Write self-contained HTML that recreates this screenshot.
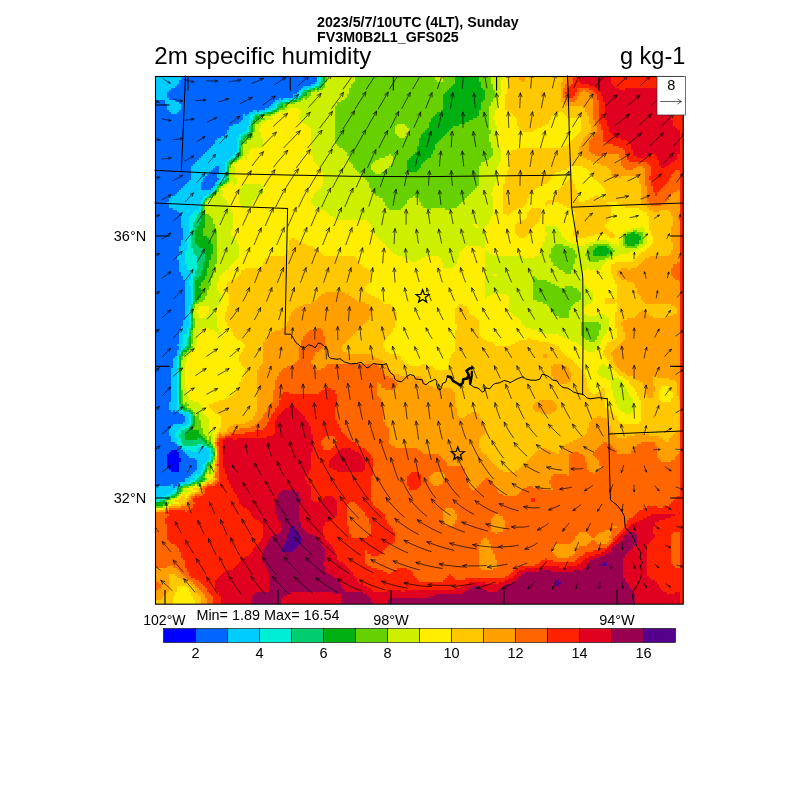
<!DOCTYPE html>
<html><head><meta charset="utf-8"><title>2m specific humidity</title>
<style>
html,body{margin:0;padding:0;background:#fff;}
body{width:800px;height:800px;overflow:hidden;}
svg{display:block;}
text{font-family:"Liberation Sans",Arial,Helvetica,sans-serif;fill:#000;}
</style></head><body>
<svg width="800" height="800" viewBox="0 0 800 800">
<rect x="0" y="0" width="800" height="800" fill="#fff"/>
<text x="317" y="26.6" font-size="14.25" font-weight="bold">2023/5/7/10UTC (4LT), Sunday</text>
<text x="317" y="42.3" font-size="14.25" font-weight="bold">FV3M0B2L1_GFS025</text>
<text x="154.3" y="64" font-size="24.1">2m specific humidity</text>
<text x="685.3" y="63.6" font-size="23.5" text-anchor="end">g kg-1</text>
<g id="field" shape-rendering="crispEdges">
<rect x="155" y="76" width="528" height="528" fill="#FFC800"/>
<path fill="#0000FF" d="M171 450h6v2h-6zM169 452h10v2h-10zM167 454h12v4h-12zM167 458h14v4h-14zM167 462h12v6h-12zM169 468h10v2h-10zM171 470h8v2h-8z"/>
<path fill="#0066FF" d="M181 76h136v4h-136zM179 80h138v2h-138zM179 82h136v2h-136zM177 84h134v2h-134zM175 86h128v2h-128zM171 88h130v2h-130zM169 90h130v2h-130zM167 92h130v2h-130zM167 94h126v4h-126zM281 98h2v2h-2zM169 98h110v2h-110zM175 100h100v2h-100zM155 100h10v4h-10zM179 102h94v2h-94zM181 104h90v2h-90zM181 106h88v2h-88zM155 104h12v6h-12zM181 108h84v2h-84zM155 110h14v2h-14zM179 110h74v2h-74zM257 110h2v2h-2zM177 112h72v2h-72zM155 112h16v2h-16zM245 114h2v2h-2zM155 114h88v6h-88zM155 120h86v2h-86zM155 122h84v2h-84zM155 124h78v2h-78zM155 126h74v4h-74zM155 130h72v4h-72zM155 134h70v2h-70zM155 136h66v2h-66zM155 138h62v2h-62zM155 140h60v4h-60zM155 144h58v2h-58zM155 146h56v2h-56zM155 148h54v2h-54zM155 150h52v2h-52zM155 152h50v2h-50zM155 154h48v2h-48zM155 156h46v2h-46zM155 158h44v2h-44zM155 160h42v2h-42zM155 162h40v2h-40zM155 164h38v2h-38zM215 166h4v2h-4zM213 168h6v2h-6zM211 170h8v2h-8zM209 172h10v2h-10zM207 174h10v2h-10zM205 176h12v2h-12zM155 166h36v14h-36zM203 178h16v2h-16zM203 180h14v2h-14zM155 180h34v2h-34zM155 182h32v2h-32zM201 182h14v4h-14zM155 184h30v2h-30zM201 186h12v2h-12zM155 186h28v2h-28zM155 188h26v2h-26zM201 188h10v2h-10zM155 190h24v2h-24zM155 192h22v2h-22zM155 194h20v2h-20zM155 196h16v2h-16zM155 198h14v4h-14zM155 202h12v2h-12zM155 204h14v4h-14zM155 208h18v2h-18zM155 210h22v2h-22zM155 212h24v2h-24zM155 214h26v14h-26zM155 228h28v12h-28zM155 240h26v6h-26zM155 246h24v10h-24zM155 256h22v4h-22zM155 260h24v12h-24zM155 272h26v4h-26zM155 276h28v4h-28zM155 280h30v40h-30zM155 320h28v6h-28zM155 326h26v4h-26zM155 330h24v14h-24zM155 344h22v2h-22zM155 346h24v4h-24zM155 350h22v6h-22zM155 356h20v2h-20zM155 358h18v10h-18zM155 368h16v34h-16zM155 402h14v8h-14zM155 410h16v2h-16zM173 410h2v2h-2zM155 412h24v2h-24zM155 414h28v2h-28zM155 416h30v6h-30zM155 422h28v2h-28zM155 424h18v2h-18zM155 426h16v2h-16zM155 428h14v8h-14zM155 436h16v6h-16zM155 442h20v2h-20zM155 444h22v2h-22zM155 446h24v2h-24zM155 448h26v2h-26zM177 450h6v2h-6zM155 450h16v2h-16zM155 452h14v2h-14zM179 452h6v2h-6zM179 454h8v2h-8zM179 456h10v2h-10zM181 458h14v2h-14zM181 460h16v2h-16zM155 454h12v14h-12zM179 462h18v8h-18zM155 468h14v2h-14zM179 470h16v2h-16zM155 470h16v2h-16zM155 472h38v2h-38zM155 474h36v2h-36zM155 476h34v2h-34zM155 478h30v4h-30zM155 482h24v2h-24zM173 484h4v2h-4zM155 484h16v2h-16zM173 486h2v2h-2z"/>
<path fill="#00CCFF" d="M155 76h26v4h-26zM155 80h24v4h-24zM315 82h2v2h-2zM311 84h4v2h-4zM155 84h22v2h-22zM155 86h20v2h-20zM303 86h8v2h-8zM155 88h16v2h-16zM301 88h6v2h-6zM299 90h2v2h-2zM155 90h14v2h-14zM297 92h2v2h-2zM293 94h6v2h-6zM155 92h12v6h-12zM293 96h4v2h-4zM283 98h8v2h-8zM279 98h2v2h-2zM155 98h14v2h-14zM275 100h8v2h-8zM165 100h10v2h-10zM165 102h14v2h-14zM273 102h4v2h-4zM271 104h4v2h-4zM269 106h6v2h-6zM167 104h14v6h-14zM265 108h6v2h-6zM259 110h6v2h-6zM253 110h4v2h-4zM169 110h10v2h-10zM257 112h2v2h-2zM171 112h6v2h-6zM249 112h6v2h-6zM247 114h4v2h-4zM243 114h2v2h-2zM243 116h6v2h-6zM243 118h8v2h-8zM241 120h8v2h-8zM239 122h10v2h-10zM233 124h16v2h-16zM229 126h18v4h-18zM227 130h18v2h-18zM227 132h16v2h-16zM225 134h14v2h-14zM221 136h18v2h-18zM217 138h20v2h-20zM215 140h22v4h-22zM213 144h24v2h-24zM211 146h26v2h-26zM209 148h28v2h-28zM207 150h30v2h-30zM205 152h30v2h-30zM203 154h30v2h-30zM201 156h30v2h-30zM199 158h30v2h-30zM197 160h30v2h-30zM195 162h30v2h-30zM193 164h32v2h-32zM191 166h24v2h-24zM191 168h22v2h-22zM191 170h20v2h-20zM219 166h6v8h-6zM191 172h18v2h-18zM191 174h16v2h-16zM217 174h6v4h-6zM191 176h14v2h-14zM219 178h2v2h-2zM191 178h12v2h-12zM217 180h2v2h-2zM189 180h14v2h-14zM187 182h14v2h-14zM215 182h2v4h-2zM185 184h16v2h-16zM183 186h18v2h-18zM213 186h2v2h-2zM181 188h20v2h-20zM211 188h2v2h-2zM179 190h34v2h-34zM177 192h34v2h-34zM175 194h32v2h-32zM171 196h32v2h-32zM169 198h34v2h-34zM169 200h32v2h-32zM167 202h34v2h-34zM169 204h32v2h-32zM169 206h30v2h-30zM173 208h26v2h-26zM177 210h18v2h-18zM197 210h2v2h-2zM179 212h14v2h-14zM181 214h10v2h-10zM181 216h8v12h-8zM183 228h6v10h-6zM183 238h4v2h-4zM181 240h6v6h-6zM179 246h8v4h-8zM179 250h6v6h-6zM177 256h8v4h-8zM179 260h6v4h-6zM179 264h8v6h-8zM179 270h10v2h-10zM181 272h8v2h-8zM181 274h10v2h-10zM183 276h8v4h-8zM185 280h4v6h-4zM185 286h6v20h-6zM185 306h4v14h-4zM183 320h6v6h-6zM181 326h8v2h-8zM181 328h6v2h-6zM179 330h8v4h-8zM179 334h4v10h-4zM177 344h4v2h-4zM179 346h4v2h-4zM179 348h2v2h-2zM177 350h4v2h-4zM177 352h2v4h-2zM175 356h2v2h-2zM173 358h4v10h-4zM171 368h6v34h-6zM169 402h8v8h-8zM171 410h2v2h-2zM175 410h6v2h-6zM179 412h8v2h-8zM183 414h6v2h-6zM185 416h4v6h-4zM183 422h6v2h-6zM173 424h14v2h-14zM171 426h10v2h-10zM169 428h10v2h-10zM169 430h8v2h-8zM169 432h6v4h-6zM171 436h4v2h-4zM171 438h6v4h-6zM175 442h2v2h-2zM177 444h2v2h-2zM179 446h2v2h-2zM197 448h10v2h-10zM181 448h4v2h-4zM197 450h12v2h-12zM183 450h8v2h-8zM185 452h24v2h-24zM187 454h22v2h-22zM189 456h20v2h-20zM195 458h14v2h-14zM197 460h10v2h-10zM197 462h8v2h-8zM197 464h6v6h-6zM195 470h6v2h-6zM193 472h8v2h-8zM197 474h2v2h-2zM191 474h4v2h-4zM189 476h4v2h-4zM185 478h10v2h-10zM185 480h6v2h-6zM179 482h8v2h-8zM171 484h2v2h-2zM177 484h4v2h-4zM175 486h2v2h-2zM155 486h18v2h-18zM155 488h20v2h-20zM155 490h18v2h-18zM155 492h16v2h-16zM155 494h12v2h-12zM155 496h8v2h-8z"/>
<path fill="#00EED5" d="M317 76h4v6h-4zM317 82h2v2h-2zM315 84h4v2h-4zM311 86h4v2h-4zM307 88h2v2h-2zM301 90h2v2h-2zM299 92h2v4h-2zM297 96h2v2h-2zM291 98h4v2h-4zM283 100h6v2h-6zM277 102h2v2h-2zM275 104h2v4h-2zM271 108h4v2h-4zM265 110h6v2h-6zM259 112h4v2h-4zM255 112h2v2h-2zM251 114h4v2h-4zM249 116h4v2h-4zM251 118h2v2h-2zM249 120h2v6h-2zM247 126h2v4h-2zM245 130h4v2h-4zM243 132h4v2h-4zM239 134h4v2h-4zM239 136h2v2h-2zM237 138h4v2h-4zM237 140h2v12h-2zM235 152h2v2h-2zM233 154h4v2h-4zM231 156h4v2h-4zM229 158h2v2h-2zM227 160h2v2h-2zM225 162h2v10h-2zM223 174h2v4h-2zM221 178h4v2h-4zM219 180h4v2h-4zM217 182h2v2h-2zM215 186h2v2h-2zM213 188h2v4h-2zM211 192h2v2h-2zM207 194h2v2h-2zM203 196h4v2h-4zM203 198h2v2h-2zM201 200h2v4h-2zM199 206h2v6h-2zM195 210h2v2h-2zM193 212h6v2h-6zM191 214h6v2h-6zM189 216h8v2h-8zM189 218h6v4h-6zM189 222h4v8h-4zM189 230h2v8h-2zM187 238h4v10h-4zM187 248h6v2h-6zM185 250h8v4h-8zM185 254h10v2h-10zM185 256h12v8h-12zM187 264h10v6h-10zM189 270h6v4h-6zM191 274h4v2h-4zM191 276h2v4h-2zM189 280h4v6h-4zM191 286h2v18h-2zM189 306h2v22h-2zM187 328h2v6h-2zM183 334h6v4h-6zM183 338h4v6h-4zM181 344h6v2h-6zM183 346h2v2h-2zM181 348h2v2h-2zM179 352h2v2h-2zM177 356h2v12h-2zM177 370h2v38h-2zM177 408h4v2h-4zM181 410h2v2h-2zM187 412h2v2h-2zM189 414h2v10h-2zM187 424h4v2h-4zM181 426h8v2h-8zM179 428h6v2h-6zM177 430h4v2h-4zM175 432h6v2h-6zM175 434h4v4h-4zM177 438h4v6h-4zM197 444h6v2h-6zM179 444h4v2h-4zM181 446h26v2h-26zM207 448h4v2h-4zM185 448h12v2h-12zM191 450h6v2h-6zM209 450h2v4h-2zM209 454h4v2h-4zM209 456h2v4h-2zM207 460h4v2h-4zM205 462h2v2h-2zM203 464h2v6h-2zM201 470h2v4h-2zM195 474h2v2h-2zM199 474h2v2h-2zM193 476h6v2h-6zM195 478h2v2h-2zM191 480h4v2h-4zM187 482h4v2h-4zM181 484h2v2h-2zM177 486h2v2h-2zM175 488h2v2h-2zM173 490h4v2h-4zM171 492h4v2h-4zM167 494h4v2h-4zM163 496h4v2h-4zM155 498h10v2h-10zM155 500h4v2h-4z"/>
<path fill="#00CC70" d="M321 76h2v6h-2zM319 82h4v2h-4zM319 84h2v2h-2zM315 86h4v2h-4zM309 88h4v2h-4zM303 90h4v2h-4zM301 92h4v2h-4zM301 94h2v2h-2zM299 96h2v2h-2zM295 98h4v2h-4zM289 100h4v2h-4zM279 102h6v2h-6zM277 104h4v2h-4zM277 106h2v2h-2zM275 108h2v2h-2zM271 110h2v2h-2zM263 112h4v2h-4zM255 114h6v2h-6zM253 116h2v4h-2zM251 120h2v4h-2zM249 126h2v6h-2zM247 132h2v2h-2zM243 134h4v2h-4zM241 136h4v2h-4zM241 138h2v2h-2zM239 140h2v8h-2zM237 152h2v4h-2zM235 156h2v2h-2zM231 158h4v2h-4zM229 160h2v2h-2zM227 162h2v4h-2zM225 172h2v8h-2zM223 180h2v2h-2zM219 182h4v2h-4zM217 184h2v2h-2zM215 188h2v2h-2zM209 194h2v2h-2zM207 196h2v2h-2zM203 200h2v2h-2zM201 204h2v6h-2zM199 212h2v2h-2zM197 214h4v4h-4zM195 218h6v4h-6zM193 222h6v4h-6zM193 226h4v4h-4zM191 230h4v14h-4zM191 244h6v2h-6zM191 246h8v2h-8zM193 248h10v2h-10zM193 250h12v4h-12zM195 254h10v2h-10zM197 256h8v6h-8zM197 262h6v8h-6zM195 270h6v6h-6zM193 276h6v2h-6zM193 278h4v2h-4zM193 280h2v22h-2zM191 304h2v4h-2zM191 322h2v2h-2zM189 328h2v4h-2zM189 334h2v2h-2zM187 338h2v8h-2zM185 346h2v2h-2zM183 348h4v2h-4zM181 350h2v2h-2zM179 354h2v2h-2zM177 368h2v2h-2zM179 404h2v4h-2zM181 408h2v2h-2zM183 410h6v2h-6zM189 412h2v2h-2zM191 414h2v10h-2zM189 426h2v2h-2zM185 428h4v2h-4zM181 430h8v2h-8zM181 432h6v2h-6zM179 434h6v4h-6zM181 438h4v2h-4zM197 438h4v2h-4zM181 440h22v2h-22zM181 442h24v2h-24zM209 444h2v2h-2zM203 444h4v2h-4zM183 444h14v2h-14zM207 446h4v2h-4zM211 448h2v6h-2zM211 456h2v4h-2zM209 462h2v2h-2zM205 464h2v4h-2zM203 470h2v2h-2zM201 474h2v2h-2zM199 476h2v2h-2zM197 478h4v2h-4zM195 480h4v2h-4zM191 482h2v2h-2zM183 484h6v2h-6zM179 486h2v2h-2zM177 488h2v4h-2zM175 492h2v2h-2zM171 494h4v2h-4zM167 496h4v2h-4zM165 498h2v2h-2zM159 500h4v2h-4z"/>
<path fill="#00B010" d="M455 76h24v6h-24zM323 76h2v6h-2zM455 82h26v2h-26zM321 84h2v2h-2zM453 84h28v2h-28zM319 86h2v2h-2zM451 86h30v2h-30zM313 88h2v2h-2zM317 88h2v2h-2zM449 88h34v2h-34zM447 90h38v2h-38zM307 90h4v2h-4zM445 92h40v2h-40zM305 92h2v2h-2zM303 94h4v2h-4zM301 96h2v2h-2zM443 94h42v6h-42zM299 98h2v2h-2zM443 100h40v2h-40zM293 100h4v2h-4zM285 102h4v2h-4zM281 104h2v2h-2zM279 106h4v2h-4zM443 102h38v8h-38zM277 108h2v2h-2zM273 110h4v2h-4zM441 110h38v2h-38zM437 112h42v2h-42zM267 112h6v2h-6zM435 114h44v2h-44zM261 114h4v2h-4zM433 116h44v2h-44zM255 116h4v4h-4zM431 118h42v2h-42zM431 120h38v2h-38zM253 120h2v4h-2zM429 122h36v2h-36zM429 124h30v2h-30zM429 126h24v2h-24zM427 128h24v2h-24zM251 124h2v8h-2zM425 130h24v2h-24zM249 132h2v2h-2zM423 132h24v2h-24zM247 134h4v2h-4zM421 134h24v2h-24zM421 136h22v2h-22zM245 136h4v2h-4zM419 138h22v2h-22zM243 138h2v2h-2zM419 140h20v2h-20zM241 140h2v4h-2zM419 142h18v2h-18zM419 144h16v2h-16zM417 146h18v4h-18zM417 150h16v2h-16zM415 152h18v2h-18zM239 148h2v8h-2zM413 154h18v2h-18zM237 156h2v2h-2zM411 156h20v2h-20zM235 158h2v2h-2zM409 158h18v2h-18zM407 160h18v2h-18zM231 160h4v2h-4zM407 162h16v2h-16zM229 162h2v2h-2zM407 164h14v4h-14zM407 168h12v2h-12zM409 170h8v2h-8zM227 166h2v10h-2zM227 178h2v2h-2zM225 180h2v2h-2zM223 182h2v2h-2zM219 184h4v2h-4zM217 186h2v2h-2zM215 190h2v2h-2zM213 192h2v2h-2zM211 194h2v2h-2zM209 196h2v2h-2zM205 198h2v2h-2zM203 202h2v2h-2zM201 210h2v4h-2zM201 214h4v8h-4zM199 222h6v4h-6zM197 226h8v2h-8zM197 228h6v2h-6zM631 232h4v2h-4zM195 230h8v6h-8zM627 234h12v2h-12zM195 236h12v2h-12zM625 236h16v4h-16zM195 238h14v2h-14zM625 240h14v4h-14zM195 240h16v4h-16zM627 244h8v2h-8zM197 244h16v2h-16zM199 246h14v2h-14zM597 246h10v2h-10zM595 248h14v2h-14zM203 248h10v2h-10zM593 250h18v2h-18zM205 250h8v4h-8zM593 252h16v2h-16zM593 254h14v2h-14zM205 254h6v6h-6zM205 260h4v2h-4zM203 262h6v6h-6zM203 268h4v2h-4zM201 270h6v6h-6zM199 276h6v2h-6zM197 278h8v2h-8zM195 280h8v2h-8zM195 282h6v4h-6zM195 286h4v2h-4zM195 288h6v10h-6zM195 298h4v2h-4zM195 300h2v2h-2zM193 302h2v2h-2zM191 308h2v14h-2zM191 324h2v6h-2zM189 332h2v2h-2zM189 336h2v10h-2zM187 346h4v2h-4zM187 348h2v2h-2zM183 350h4v2h-4zM181 352h2v4h-2zM179 356h2v48h-2zM181 404h2v2h-2zM181 406h4v2h-4zM183 408h4v2h-4zM189 410h2v2h-2zM191 412h2v2h-2zM193 416h2v8h-2zM191 424h4v2h-4zM191 426h2v2h-2zM189 428h4v2h-4zM189 430h10v2h-10zM187 432h12v2h-12zM185 434h16v2h-16zM185 436h18v2h-18zM185 438h12v2h-12zM201 438h4v2h-4zM203 440h4v2h-4zM209 442h2v2h-2zM205 442h2v2h-2zM207 444h2v2h-2zM211 446h2v2h-2zM213 452h2v4h-2zM211 460h2v2h-2zM207 462h2v2h-2zM207 464h4v2h-4zM205 468h2v4h-2zM203 472h2v4h-2zM201 476h2v2h-2zM201 478h4v2h-4zM199 480h4v2h-4zM197 482h2v2h-2zM193 482h2v2h-2zM189 484h2v2h-2zM181 486h2v2h-2zM179 488h2v4h-2zM177 492h2v2h-2zM175 494h2v2h-2zM171 496h4v2h-4zM167 498h2v2h-2zM163 500h2v2h-2zM155 502h12v2h-12zM155 504h8v2h-8z"/>
<path fill="#66D000" d="M355 76h80v4h-80zM443 76h12v6h-12zM479 76h12v6h-12zM325 76h2v6h-2zM355 80h82v2h-82zM481 82h10v2h-10zM353 82h102v2h-102zM323 82h2v4h-2zM351 84h102v2h-102zM481 84h12v4h-12zM351 86h100v2h-100zM321 86h4v2h-4zM319 88h4v2h-4zM349 88h100v2h-100zM315 88h2v2h-2zM483 88h10v2h-10zM311 90h4v2h-4zM349 90h98v2h-98zM317 90h2v2h-2zM349 92h96v2h-96zM307 92h4v4h-4zM485 90h10v8h-10zM347 94h96v4h-96zM303 96h6v2h-6zM305 98h2v2h-2zM301 98h2v2h-2zM345 98h98v2h-98zM485 98h8v2h-8zM297 100h4v2h-4zM483 100h10v2h-10zM341 100h102v2h-102zM289 102h6v2h-6zM337 102h106v4h-106zM481 102h10v4h-10zM283 104h4v4h-4zM481 106h8v4h-8zM335 106h108v4h-108zM279 108h6v2h-6zM335 110h106v2h-106zM277 110h2v2h-2zM335 112h102v2h-102zM273 112h2v2h-2zM479 110h10v6h-10zM265 114h6v2h-6zM335 114h100v2h-100zM259 116h4v2h-4zM335 116h98v2h-98zM477 116h12v2h-12zM259 118h6v2h-6zM473 118h16v2h-16zM335 118h96v4h-96zM255 120h6v2h-6zM469 120h20v2h-20zM465 122h24v2h-24zM335 122h94v2h-94zM255 122h4v2h-4zM405 124h24v2h-24zM335 124h62v2h-62zM459 124h30v2h-30zM407 126h22v2h-22zM453 126h36v2h-36zM451 128h38v2h-38zM409 128h18v2h-18zM253 124h2v8h-2zM409 130h16v2h-16zM449 130h42v2h-42zM335 126h60v8h-60zM447 132h44v2h-44zM409 132h14v2h-14zM251 132h2v4h-2zM407 134h14v2h-14zM335 134h62v2h-62zM445 134h44v2h-44zM405 136h16v2h-16zM335 136h64v2h-64zM443 136h46v2h-46zM249 136h4v2h-4zM441 138h48v2h-48zM245 138h6v2h-6zM439 140h50v2h-50zM335 138h84v6h-84zM243 140h4v4h-4zM437 142h54v2h-54zM337 144h82v2h-82zM435 144h56v4h-56zM339 146h78v2h-78zM343 148h74v2h-74zM435 148h58v2h-58zM345 150h72v2h-72zM433 150h60v4h-60zM347 152h68v2h-68zM241 144h2v12h-2zM431 154h62v2h-62zM347 154h42v2h-42zM391 154h22v2h-22zM239 156h2v2h-2zM349 156h36v2h-36zM393 156h18v2h-18zM431 156h60v2h-60zM237 158h2v2h-2zM349 158h30v2h-30zM393 158h16v2h-16zM427 158h62v2h-62zM349 160h26v2h-26zM235 160h2v2h-2zM425 160h60v2h-60zM393 160h14v4h-14zM351 162h22v2h-22zM231 162h2v2h-2zM423 162h58v2h-58zM391 164h16v2h-16zM421 164h60v2h-60zM229 164h2v4h-2zM353 164h18v4h-18zM421 166h58v2h-58zM389 166h18v2h-18zM355 168h16v2h-16zM419 168h60v2h-60zM387 168h20v2h-20zM357 170h16v2h-16zM417 170h62v2h-62zM385 170h24v2h-24zM359 172h16v2h-16zM381 172h98v2h-98zM361 174h118v2h-118zM363 176h116v2h-116zM227 176h2v2h-2zM365 178h114v2h-114zM367 180h112v2h-112zM227 180h2v2h-2zM225 182h2v2h-2zM369 182h110v4h-110zM369 186h108v2h-108zM219 186h2v2h-2zM371 188h104v2h-104zM217 188h2v4h-2zM371 190h102v2h-102zM215 192h2v2h-2zM373 192h98v2h-98zM375 194h94v2h-94zM213 194h2v2h-2zM415 196h52v2h-52zM211 196h2v2h-2zM379 196h34v2h-34zM207 198h2v2h-2zM419 198h46v2h-46zM383 198h26v2h-26zM419 200h44v2h-44zM383 200h24v2h-24zM205 200h2v2h-2zM385 202h22v2h-22zM421 202h40v2h-40zM421 204h38v2h-38zM385 204h20v2h-20zM423 206h34v2h-34zM387 206h16v2h-16zM389 208h12v2h-12zM445 208h6v2h-6zM427 208h4v2h-4zM203 204h2v10h-2zM205 214h4v2h-4zM205 216h6v2h-6zM205 218h8v6h-8zM205 224h10v4h-10zM203 228h12v2h-12zM633 230h4v2h-4zM635 232h8v2h-8zM627 232h4v2h-4zM203 230h14v6h-14zM639 234h4v2h-4zM625 234h2v2h-2zM207 236h10v2h-10zM641 236h2v4h-2zM209 238h8v2h-8zM623 236h2v8h-2zM639 240h4v4h-4zM211 240h6v4h-6zM635 244h4v2h-4zM623 244h4v2h-4zM555 244h8v2h-8zM593 244h16v2h-16zM625 246h12v2h-12zM607 246h4v2h-4zM553 246h16v2h-16zM589 246h8v2h-8zM587 248h8v2h-8zM609 248h4v2h-4zM551 248h22v2h-22zM611 250h4v2h-4zM213 244h4v10h-4zM551 250h24v4h-24zM587 250h6v4h-6zM609 252h4v2h-4zM607 254h6v2h-6zM585 254h8v2h-8zM549 254h28v4h-28zM587 256h22v2h-22zM211 254h6v6h-6zM587 258h18v2h-18zM551 258h24v4h-24zM589 260h10v2h-10zM209 260h8v4h-8zM553 262h22v2h-22zM553 264h20v2h-20zM209 264h6v4h-6zM557 266h16v2h-16zM207 268h8v2h-8zM559 268h14v2h-14zM563 270h8v2h-8zM565 272h6v2h-6zM207 270h6v6h-6zM205 276h8v2h-8zM533 276h2v2h-2zM205 278h6v2h-6zM533 278h4v2h-4zM533 280h14v2h-14zM203 280h8v2h-8zM533 282h18v2h-18zM201 282h10v4h-10zM533 284h22v2h-22zM533 286h26v2h-26zM199 286h10v2h-10zM565 286h8v2h-8zM533 288h44v2h-44zM201 288h8v2h-8zM533 290h46v2h-46zM201 290h6v6h-6zM201 296h4v2h-4zM533 292h48v8h-48zM199 298h6v2h-6zM537 300h42v2h-42zM197 300h6v2h-6zM195 302h4v2h-4zM543 302h32v2h-32zM547 304h26v2h-26zM193 304h2v4h-2zM549 306h22v2h-22zM551 308h20v2h-20zM551 310h18v2h-18zM553 312h16v2h-16zM555 314h14v2h-14zM559 316h10v2h-10zM581 322h18v2h-18zM193 318h2v10h-2zM581 324h20v6h-20zM581 330h18v6h-18zM583 336h14v2h-14zM585 338h12v2h-12zM589 340h6v2h-6zM191 330h2v14h-2zM191 346h2v2h-2zM189 348h2v2h-2zM187 350h2v2h-2zM183 352h4v2h-4zM183 354h2v2h-2zM181 356h2v4h-2zM181 390h2v14h-2zM185 402h2v2h-2zM183 404h6v2h-6zM185 406h2v2h-2zM187 408h4v2h-4zM191 410h2v2h-2zM193 412h2v4h-2zM197 412h2v4h-2zM195 416h4v4h-4zM195 420h6v6h-6zM193 426h8v2h-8zM193 428h10v2h-10zM199 430h4v4h-4zM201 434h4v2h-4zM203 436h4v2h-4zM209 436h2v4h-2zM205 438h2v2h-2zM207 440h4v2h-4zM207 442h2v2h-2zM211 444h2v2h-2zM213 448h2v4h-2zM213 456h2v4h-2zM211 462h2v2h-2zM207 466h4v4h-4zM209 470h2v4h-2zM205 472h2v2h-2zM203 476h2v2h-2zM205 478h2v2h-2zM203 480h2v2h-2zM195 482h2v2h-2zM199 482h2v2h-2zM191 484h4v2h-4zM197 484h2v2h-2zM183 486h6v2h-6zM181 488h2v4h-2zM179 492h2v2h-2zM177 494h2v2h-2zM175 496h2v2h-2zM169 498h2v2h-2zM165 500h2v2h-2zM167 502h2v2h-2zM163 504h4v2h-4zM155 506h8v2h-8z"/>
<path fill="#CCF000" d="M435 76h8v4h-8zM491 76h12v4h-12zM327 76h28v6h-28zM437 80h6v2h-6zM491 80h10v4h-10zM325 82h28v2h-28zM325 84h26v4h-26zM493 84h8v6h-8zM323 88h26v2h-26zM315 90h2v2h-2zM319 90h30v2h-30zM311 92h38v2h-38zM495 90h6v6h-6zM311 94h36v2h-36zM495 96h4v2h-4zM309 96h38v2h-38zM307 98h38v2h-38zM303 98h2v2h-2zM493 98h6v4h-6zM301 100h40v2h-40zM295 102h42v2h-42zM491 102h8v4h-8zM287 104h50v2h-50zM287 106h48v2h-48zM489 106h8v4h-8zM285 108h4v2h-4zM299 108h36v2h-36zM279 110h8v2h-8zM301 110h34v4h-34zM281 112h2v2h-2zM275 112h4v2h-4zM489 110h6v6h-6zM271 114h4v2h-4zM263 116h8v2h-8zM299 114h36v6h-36zM489 116h4v4h-4zM265 118h8v2h-8zM261 120h6v2h-6zM301 120h34v2h-34zM303 122h32v2h-32zM259 122h4v2h-4zM489 120h6v6h-6zM307 124h28v2h-28zM397 124h8v2h-8zM255 124h6v4h-6zM309 126h26v2h-26zM395 126h12v2h-12zM489 126h8v4h-8zM255 128h4v4h-4zM395 128h14v6h-14zM491 130h6v4h-6zM397 134h10v2h-10zM253 132h8v6h-8zM399 136h6v2h-6zM251 138h12v2h-12zM489 134h8v8h-8zM311 128h24v16h-24zM247 140h16v4h-16zM491 142h6v2h-6zM311 144h26v2h-26zM243 144h20v2h-20zM491 144h8v4h-8zM243 146h18v2h-18zM311 146h28v2h-28zM311 148h32v2h-32zM243 148h8v2h-8zM311 150h34v2h-34zM243 150h6v4h-6zM493 148h8v8h-8zM311 152h36v4h-36zM389 154h2v2h-2zM243 154h4v2h-4zM241 156h2v2h-2zM385 156h8v2h-8zM491 156h10v2h-10zM245 156h2v4h-2zM489 158h12v2h-12zM379 158h14v2h-14zM239 158h4v2h-4zM313 156h36v6h-36zM375 160h18v2h-18zM485 160h16v2h-16zM237 160h2v2h-2zM373 162h20v2h-20zM233 162h4v2h-4zM315 162h36v2h-36zM481 162h18v4h-18zM371 164h20v2h-20zM231 164h2v2h-2zM317 164h36v2h-36zM371 166h18v2h-18zM319 166h34v2h-34zM231 166h4v2h-4zM371 168h16v2h-16zM321 168h34v2h-34zM373 170h12v2h-12zM321 170h36v2h-36zM375 172h6v2h-6zM323 172h36v2h-36zM323 174h38v2h-38zM229 168h6v10h-6zM323 176h40v2h-40zM323 178h42v2h-42zM479 166h18v16h-18zM229 178h8v4h-8zM323 180h44v2h-44zM227 182h4v2h-4zM233 182h4v2h-4zM323 182h46v4h-46zM479 182h16v4h-16zM233 184h2v2h-2zM243 184h18v2h-18zM223 184h4v2h-4zM241 186h22v2h-22zM477 186h16v2h-16zM221 186h4v2h-4zM321 186h48v2h-48zM475 188h18v2h-18zM219 188h2v2h-2zM319 188h52v2h-52zM219 190h4v2h-4zM473 190h20v2h-20zM317 190h54v2h-54zM239 188h24v6h-24zM471 192h20v2h-20zM217 192h6v2h-6zM315 192h58v2h-58zM469 194h22v2h-22zM215 194h6v2h-6zM239 194h22v2h-22zM313 194h62v2h-62zM467 196h26v2h-26zM239 196h20v2h-20zM213 196h10v2h-10zM413 196h2v2h-2zM313 196h66v2h-66zM239 198h16v2h-16zM409 198h10v2h-10zM209 198h16v2h-16zM465 198h28v2h-28zM311 198h72v4h-72zM207 200h20v2h-20zM463 200h30v2h-30zM407 200h12v2h-12zM239 200h14v4h-14zM461 202h32v2h-32zM311 202h74v2h-74zM407 202h14v2h-14zM205 202h22v2h-22zM241 204h10v2h-10zM459 204h34v2h-34zM313 204h72v2h-72zM405 204h16v2h-16zM205 204h24v4h-24zM315 206h72v2h-72zM403 206h20v2h-20zM241 206h8v2h-8zM457 206h36v2h-36zM431 208h14v2h-14zM451 208h42v2h-42zM401 208h26v2h-26zM317 208h72v2h-72zM205 208h26v4h-26zM325 210h168v2h-168zM327 212h166v2h-166zM205 212h28v2h-28zM209 214h24v2h-24zM329 214h164v2h-164zM211 216h22v2h-22zM333 216h158v2h-158zM335 218h156v2h-156zM367 220h122v2h-122zM213 218h20v6h-20zM369 222h120v2h-120zM371 224h102v2h-102zM477 224h10v2h-10zM371 226h104v2h-104zM479 226h6v2h-6zM641 226h2v2h-2zM545 226h12v2h-12zM215 224h18v6h-18zM631 228h14v2h-14zM545 228h14v4h-14zM373 228h110v4h-110zM637 230h8v2h-8zM625 230h8v2h-8zM623 232h4v2h-4zM373 232h112v2h-112zM217 230h14v6h-14zM547 232h14v4h-14zM375 234h110v2h-110zM621 234h4v2h-4zM217 236h16v2h-16zM377 236h108v2h-108zM545 236h18v2h-18zM621 236h2v4h-2zM379 238h106v2h-106zM545 238h20v2h-20zM217 238h18v2h-18zM381 240h104v2h-104zM545 240h22v2h-22zM595 240h12v2h-12zM643 232h4v12h-4zM217 240h20v4h-20zM383 242h102v2h-102zM543 242h28v2h-28zM589 242h22v2h-22zM619 240h4v6h-4zM543 244h12v2h-12zM609 244h8v2h-8zM385 244h100v2h-100zM639 244h6v2h-6zM585 244h8v2h-8zM563 244h14v2h-14zM481 246h4v2h-4zM611 246h14v2h-14zM637 246h6v2h-6zM541 246h12v2h-12zM387 246h78v2h-78zM569 246h20v2h-20zM613 248h26v2h-26zM573 248h14v2h-14zM389 248h74v2h-74zM541 248h10v4h-10zM615 250h20v2h-20zM391 250h70v2h-70zM485 250h2v2h-2zM575 250h12v4h-12zM613 252h16v2h-16zM485 252h4v2h-4zM539 252h12v2h-12zM393 252h66v2h-66zM539 254h10v2h-10zM397 254h62v2h-62zM485 254h8v2h-8zM613 254h6v2h-6zM577 254h8v2h-8zM217 244h22v14h-22zM577 256h10v2h-10zM535 256h14v2h-14zM439 256h20v2h-20zM485 256h38v2h-38zM609 256h6v2h-6zM403 256h22v2h-22zM217 258h20v2h-20zM605 258h6v2h-6zM575 258h12v2h-12zM407 258h14v2h-14zM441 258h16v4h-16zM485 258h66v4h-66zM599 260h8v2h-8zM575 260h14v2h-14zM411 260h6v2h-6zM217 260h18v2h-18zM575 262h30v2h-30zM217 262h16v2h-16zM443 262h14v2h-14zM485 262h68v4h-68zM443 264h12v2h-12zM215 264h16v2h-16zM573 264h30v2h-30zM573 266h28v2h-28zM485 266h72v2h-72zM443 266h10v2h-10zM215 266h14v4h-14zM485 268h74v2h-74zM589 268h12v2h-12zM573 268h14v2h-14zM485 270h78v2h-78zM571 270h12v2h-12zM213 270h12v2h-12zM485 272h80v2h-80zM213 272h10v2h-10zM601 272h2v2h-2zM571 272h10v2h-10zM497 274h84v2h-84zM485 274h8v2h-8zM213 274h8v2h-8zM213 276h6v2h-6zM535 276h46v2h-46zM537 278h46v2h-46zM211 278h8v4h-8zM547 280h36v2h-36zM551 282h32v2h-32zM211 282h6v4h-6zM555 284h30v2h-30zM559 286h6v2h-6zM573 286h14v2h-14zM209 286h8v4h-8zM577 288h12v2h-12zM579 290h12v2h-12zM485 276h48v18h-48zM207 290h12v4h-12zM207 294h14v2h-14zM485 294h6v2h-6zM507 294h26v2h-26zM485 296h2v2h-2zM581 292h12v8h-12zM509 296h24v4h-24zM205 296h16v4h-16zM203 300h18v2h-18zM509 300h28v2h-28zM579 300h14v2h-14zM509 302h34v2h-34zM199 302h22v2h-22zM575 302h16v2h-16zM509 304h38v2h-38zM195 304h24v2h-24zM573 304h14v2h-14zM195 306h4v2h-4zM509 306h40v2h-40zM571 306h14v2h-14zM209 306h8v4h-8zM193 308h6v2h-6zM571 308h12v2h-12zM509 308h42v4h-42zM569 310h12v2h-12zM193 310h4v4h-4zM209 310h6v4h-6zM511 312h42v2h-42zM569 312h14v2h-14zM513 314h42v2h-42zM597 314h8v2h-8zM569 314h18v2h-18zM207 314h8v2h-8zM193 314h6v4h-6zM205 316h12v2h-12zM569 316h38v2h-38zM517 316h42v2h-42zM519 318h90v2h-90zM521 320h88v2h-88zM521 322h60v2h-60zM599 322h10v2h-10zM523 324h58v2h-58zM195 318h22v10h-22zM525 326h56v2h-56zM601 324h8v6h-8zM531 328h50v2h-50zM193 328h8v2h-8zM209 328h10v2h-10zM537 330h44v2h-44zM215 330h4v2h-4zM599 330h8v4h-8zM193 330h6v4h-6zM541 332h40v2h-40zM217 332h4v2h-4zM599 334h6v2h-6zM559 334h22v2h-22zM563 336h20v2h-20zM597 336h6v4h-6zM567 338h18v2h-18zM595 340h6v2h-6zM571 340h18v2h-18zM193 334h4v10h-4zM577 342h24v2h-24zM579 344h20v2h-20zM191 344h6v2h-6zM193 346h2v2h-2zM583 346h16v2h-16zM191 348h4v2h-4zM583 348h14v2h-14zM189 350h4v2h-4zM587 350h8v2h-8zM187 352h4v2h-4zM185 354h4v2h-4zM183 356h4v4h-4zM181 360h6v2h-6zM601 364h4v2h-4zM599 366h10v4h-10zM597 370h14v4h-14zM599 374h12v2h-12zM601 376h12v2h-12zM607 378h12v2h-12zM611 380h12v4h-12zM181 362h4v26h-4zM611 384h14v4h-14zM611 388h16v2h-16zM181 388h6v2h-6zM613 390h14v2h-14zM183 390h4v6h-4zM613 392h16v4h-16zM613 396h18v2h-18zM183 396h6v4h-6zM183 400h10v2h-10zM615 398h18v6h-18zM187 402h12v2h-12zM183 402h2v2h-2zM189 404h12v2h-12zM617 404h18v4h-18zM187 406h14v2h-14zM619 408h14v2h-14zM191 408h12v2h-12zM621 410h12v2h-12zM193 410h10v2h-10zM625 412h6v2h-6zM199 412h4v2h-4zM195 412h2v4h-2zM199 414h6v2h-6zM199 416h8v2h-8zM199 418h10v2h-10zM201 420h8v8h-8zM203 428h6v2h-6zM203 430h12v2h-12zM203 432h10v2h-10zM205 434h8v2h-8zM207 436h2v4h-2zM211 436h2v8h-2zM213 446h2v2h-2zM213 460h2v2h-2zM211 464h2v10h-2zM207 470h2v4h-2zM209 474h2v4h-2zM205 474h2v4h-2zM207 478h2v2h-2zM205 480h2v2h-2zM201 482h2v2h-2zM195 484h2v2h-2zM199 484h2v2h-2zM189 486h4v2h-4zM197 486h2v2h-2zM183 488h4v2h-4zM183 490h8v2h-8zM181 492h2v2h-2zM185 492h2v2h-2zM179 494h2v2h-2zM177 496h2v2h-2zM171 498h4v2h-4zM167 500h4v2h-4zM169 502h4v2h-4zM167 504h2v2h-2zM163 506h2v2h-2z"/>
<path fill="#FFEE00" d="M503 76h6v4h-6zM501 80h8v8h-8zM501 88h6v6h-6zM501 94h4v2h-4zM499 96h6v10h-6zM497 106h8v4h-8zM289 108h10v2h-10zM495 110h12v2h-12zM287 110h14v2h-14zM279 112h2v2h-2zM495 112h16v2h-16zM283 112h18v2h-18zM555 112h8v2h-8zM495 114h18v2h-18zM275 114h24v2h-24zM553 114h12v2h-12zM271 116h28v2h-28zM493 116h22v2h-22zM551 116h16v2h-16zM493 118h24v2h-24zM551 118h30v2h-30zM273 118h26v2h-26zM267 120h34v2h-34zM549 120h32v4h-32zM263 122h40v2h-40zM495 120h22v6h-22zM261 124h46v2h-46zM545 124h36v2h-36zM261 126h48v2h-48zM541 126h40v2h-40zM497 126h22v4h-22zM537 128h44v2h-44zM259 128h52v4h-52zM533 130h48v2h-48zM497 130h26v2h-26zM497 132h82v2h-82zM497 134h80v2h-80zM261 132h50v6h-50zM497 136h78v2h-78zM497 138h76v2h-76zM497 140h74v2h-74zM497 142h72v2h-72zM263 138h48v8h-48zM499 144h68v2h-68zM261 146h50v2h-50zM499 146h64v2h-64zM501 148h16v2h-16zM251 148h60v2h-60zM501 150h10v4h-10zM249 150h62v4h-62zM247 154h64v2h-64zM247 156h66v4h-66zM243 156h2v4h-2zM501 154h8v8h-8zM239 160h74v2h-74zM237 162h78v2h-78zM499 162h10v4h-10zM233 164h84v2h-84zM235 166h84v2h-84zM569 166h14v2h-14zM497 166h12v4h-12zM567 168h20v2h-20zM235 168h86v4h-86zM561 170h28v2h-28zM555 172h36v2h-36zM497 170h10v6h-10zM553 174h38v2h-38zM235 172h88v6h-88zM551 176h42v2h-42zM551 178h18v2h-18zM571 178h22v2h-22zM497 176h8v6h-8zM573 180h24v2h-24zM549 180h18v2h-18zM237 178h86v6h-86zM495 182h10v2h-10zM573 182h26v2h-26zM547 182h18v2h-18zM231 182h2v2h-2zM235 184h8v2h-8zM495 184h8v2h-8zM227 184h6v2h-6zM261 184h62v2h-62zM543 184h20v2h-20zM575 184h26v2h-26zM539 186h22v2h-22zM575 186h28v2h-28zM225 186h16v2h-16zM263 186h58v2h-58zM575 188h30v2h-30zM221 188h18v2h-18zM263 188h56v2h-56zM535 188h24v2h-24zM493 186h10v6h-10zM533 190h24v2h-24zM263 190h54v2h-54zM223 190h16v4h-16zM263 192h52v2h-52zM531 192h24v2h-24zM577 190h28v6h-28zM491 192h12v4h-12zM221 194h18v2h-18zM261 194h52v2h-52zM529 194h26v2h-26zM259 196h54v2h-54zM599 196h6v2h-6zM577 196h16v2h-16zM529 196h24v2h-24zM223 196h16v2h-16zM579 198h10v2h-10zM255 198h56v2h-56zM225 198h14v2h-14zM527 198h26v2h-26zM603 198h2v2h-2zM527 200h20v2h-20zM579 200h6v2h-6zM227 200h12v4h-12zM253 200h58v4h-58zM527 202h18v2h-18zM607 202h10v2h-10zM551 202h8v2h-8zM251 204h62v2h-62zM609 204h10v2h-10zM547 204h16v2h-16zM525 204h20v2h-20zM229 204h12v4h-12zM611 206h14v2h-14zM249 206h66v2h-66zM523 206h44v2h-44zM541 208h30v2h-30zM611 208h28v2h-28zM231 208h86v2h-86zM517 208h14v2h-14zM541 210h32v2h-32zM513 210h16v2h-16zM231 210h94v2h-94zM611 210h32v2h-32zM493 196h10v18h-10zM233 212h94v2h-94zM511 212h16v2h-16zM611 212h36v4h-36zM509 214h18v2h-18zM493 214h14v2h-14zM233 214h96v2h-96zM541 212h34v6h-34zM611 216h38v2h-38zM491 216h36v2h-36zM233 216h100v2h-100zM233 218h102v2h-102zM491 218h34v2h-34zM539 218h36v4h-36zM609 218h40v4h-40zM489 220h32v2h-32zM233 220h134v2h-134zM489 222h28v2h-28zM233 222h136v2h-136zM537 222h38v2h-38zM607 222h42v2h-42zM473 224h4v2h-4zM487 224h28v2h-28zM605 224h44v2h-44zM535 224h40v2h-40zM233 224h138v4h-138zM485 226h30v2h-30zM643 226h6v2h-6zM605 226h36v2h-36zM557 226h18v2h-18zM533 226h12v2h-12zM475 226h4v2h-4zM233 228h140v2h-140zM645 228h4v2h-4zM559 228h16v2h-16zM607 228h24v2h-24zM483 228h32v4h-32zM531 228h14v4h-14zM609 230h16v2h-16zM645 230h6v2h-6zM559 230h14v2h-14zM231 230h142v4h-142zM485 232h30v2h-30zM613 232h10v2h-10zM529 232h18v2h-18zM647 232h4v4h-4zM561 232h12v4h-12zM595 234h12v2h-12zM485 234h32v2h-32zM231 234h144v2h-144zM527 234h20v2h-20zM615 234h6v4h-6zM485 236h34v2h-34zM587 236h22v2h-22zM233 236h144v2h-144zM525 236h20v2h-20zM563 236h12v2h-12zM235 238h56v2h-56zM295 238h84v2h-84zM565 238h56v2h-56zM485 238h60v4h-60zM607 240h12v2h-12zM567 240h28v2h-28zM299 240h82v2h-82zM647 236h6v8h-6zM237 240h52v4h-52zM303 242h80v2h-80zM611 242h8v2h-8zM571 242h18v2h-18zM485 242h58v4h-58zM617 244h2v2h-2zM577 244h8v2h-8zM645 244h6v2h-6zM307 244h78v2h-78zM465 246h16v2h-16zM643 246h6v2h-6zM485 246h56v2h-56zM313 246h74v2h-74zM239 244h50v6h-50zM639 248h8v2h-8zM315 248h74v2h-74zM463 248h78v2h-78zM635 250h10v2h-10zM461 250h24v2h-24zM487 250h54v2h-54zM319 250h72v2h-72zM239 250h48v4h-48zM489 252h50v2h-50zM321 252h72v2h-72zM629 252h12v2h-12zM239 254h46v2h-46zM493 254h46v2h-46zM619 254h20v2h-20zM323 254h74v2h-74zM459 252h26v6h-26zM355 256h48v2h-48zM615 256h22v2h-22zM425 256h14v2h-14zM239 256h30v2h-30zM523 256h12v2h-12zM421 258h20v2h-20zM611 258h24v2h-24zM237 258h28v2h-28zM357 258h50v2h-50zM417 260h24v2h-24zM359 260h52v2h-52zM235 260h30v2h-30zM607 260h26v2h-26zM457 258h28v6h-28zM233 262h30v2h-30zM605 262h10v2h-10zM359 262h84v2h-84zM455 264h30v2h-30zM361 264h82v2h-82zM603 264h8v2h-8zM231 264h32v2h-32zM363 266h80v2h-80zM229 266h32v2h-32zM453 266h32v2h-32zM601 266h10v4h-10zM587 268h2v2h-2zM229 268h16v2h-16zM367 268h118v2h-118zM583 270h28v2h-28zM369 270h116v2h-116zM225 270h16v2h-16zM603 272h8v2h-8zM223 272h18v2h-18zM581 272h20v2h-20zM493 274h4v2h-4zM221 274h18v2h-18zM581 274h32v4h-32zM219 276h18v2h-18zM371 272h114v8h-114zM583 278h30v2h-30zM219 278h16v2h-16zM219 280h12v2h-12zM583 280h32v4h-32zM369 280h116v4h-116zM585 284h32v2h-32zM367 284h118v2h-118zM587 286h30v2h-30zM217 282h10v8h-10zM589 288h28v2h-28zM365 286h120v6h-120zM591 290h26v2h-26zM219 290h8v4h-8zM367 292h118v2h-118zM491 294h16v2h-16zM371 294h114v2h-114zM593 292h24v6h-24zM487 296h22v2h-22zM375 296h110v2h-110zM615 298h2v2h-2zM379 298h130v2h-130zM593 298h12v4h-12zM381 300h128v2h-128zM221 294h8v10h-8zM615 302h2v2h-2zM591 302h14v2h-14zM383 302h126v2h-126zM463 304h46v2h-46zM391 304h68v2h-68zM219 304h10v2h-10zM587 304h30v2h-30zM393 306h64v2h-64zM585 306h32v2h-32zM199 306h10v4h-10zM217 306h10v4h-10zM467 306h42v4h-42zM583 308h34v2h-34zM395 308h60v4h-60zM469 310h40v2h-40zM215 310h12v2h-12zM581 310h36v2h-36zM197 310h12v4h-12zM583 312h32v2h-32zM469 312h42v2h-42zM215 312h10v4h-10zM587 314h10v2h-10zM605 314h10v2h-10zM199 314h8v2h-8zM471 314h42v2h-42zM199 316h6v2h-6zM607 316h8v2h-8zM475 316h42v2h-42zM397 312h58v8h-58zM477 318h42v2h-42zM217 316h8v6h-8zM395 320h60v4h-60zM479 320h42v4h-42zM217 322h10v4h-10zM479 324h44v2h-44zM609 318h6v10h-6zM395 324h62v4h-62zM217 326h12v2h-12zM479 326h46v2h-46zM201 328h8v2h-8zM479 328h52v2h-52zM393 328h64v2h-64zM609 328h8v2h-8zM219 328h12v4h-12zM393 330h62v2h-62zM199 330h16v2h-16zM479 330h58v2h-58zM607 330h10v4h-10zM199 332h18v2h-18zM221 332h12v2h-12zM391 332h64v2h-64zM479 332h62v2h-62zM479 334h80v2h-80zM605 334h12v2h-12zM389 334h66v2h-66zM197 334h36v2h-36zM481 336h82v2h-82zM387 336h68v2h-68zM197 336h38v2h-38zM603 336h14v2h-14zM483 338h44v2h-44zM197 338h40v2h-40zM603 338h12v2h-12zM531 338h36v2h-36zM385 338h70v4h-70zM601 340h10v2h-10zM197 340h44v2h-44zM487 340h32v2h-32zM539 340h32v2h-32zM601 342h6v2h-6zM493 342h22v2h-22zM197 342h46v2h-46zM549 342h28v2h-28zM495 344h16v2h-16zM197 344h48v2h-48zM599 344h8v2h-8zM555 344h24v2h-24zM383 342h72v6h-72zM195 346h50v2h-50zM599 346h6v2h-6zM559 346h24v4h-24zM597 348h8v2h-8zM195 348h48v2h-48zM385 348h70v4h-70zM595 350h8v2h-8zM193 350h50v2h-50zM561 350h26v2h-26zM563 352h40v2h-40zM191 352h50v2h-50zM389 352h64v2h-64zM565 354h38v2h-38zM189 354h50v2h-50zM397 354h54v2h-54zM401 356h50v2h-50zM567 356h38v2h-38zM571 358h36v2h-36zM401 358h48v2h-48zM187 356h52v6h-52zM403 360h46v2h-46zM573 360h36v2h-36zM405 362h44v2h-44zM575 362h34v2h-34zM185 362h56v4h-56zM577 364h24v2h-24zM409 364h12v2h-12zM427 364h22v2h-22zM605 364h6v2h-6zM433 366h16v2h-16zM185 366h58v2h-58zM579 366h20v2h-20zM609 366h4v4h-4zM581 368h18v2h-18zM435 368h14v2h-14zM611 370h4v2h-4zM583 370h14v4h-14zM611 372h6v2h-6zM185 368h60v8h-60zM585 374h14v2h-14zM611 374h8v2h-8zM185 376h58v2h-58zM585 376h16v2h-16zM613 376h10v2h-10zM619 378h6v2h-6zM587 378h20v2h-20zM185 378h56v4h-56zM623 380h6v4h-6zM625 384h6v2h-6zM587 380h24v8h-24zM185 382h54v6h-54zM625 386h8v2h-8zM661 386h8v2h-8zM605 388h6v2h-6zM589 388h12v2h-12zM661 388h10v2h-10zM187 388h50v4h-50zM627 388h8v4h-8zM659 390h12v2h-12zM589 390h10v2h-10zM591 392h6v2h-6zM187 392h48v2h-48zM629 392h8v4h-8zM187 394h46v2h-46zM605 390h8v8h-8zM659 392h14v6h-14zM189 396h40v2h-40zM631 396h8v2h-8zM659 398h12v2h-12zM189 398h36v2h-36zM633 398h6v2h-6zM661 400h10v2h-10zM193 400h26v2h-26zM605 398h10v6h-10zM633 400h8v4h-8zM199 402h14v2h-14zM201 404h8v4h-8zM605 404h12v4h-12zM635 404h6v4h-6zM203 408h8v2h-8zM607 408h12v2h-12zM633 408h8v4h-8zM611 410h10v2h-10zM203 410h10v2h-10zM203 412h12v2h-12zM613 412h12v2h-12zM631 412h10v2h-10zM615 414h26v2h-26zM205 414h14v2h-14zM207 416h14v2h-14zM617 416h24v4h-24zM619 420h22v2h-22zM621 422h18v2h-18zM209 418h12v10h-12zM209 428h10v2h-10zM215 430h4v2h-4zM213 432h4v2h-4zM213 434h2v8h-2zM213 444h2v2h-2zM215 452h2v4h-2zM213 462h2v2h-2zM213 466h2v2h-2zM211 474h2v4h-2zM207 474h2v4h-2zM209 478h2v2h-2zM203 482h2v2h-2zM201 484h2v2h-2zM199 486h2v2h-2zM193 486h4v2h-4zM187 488h6v2h-6zM191 490h6v2h-6zM183 492h2v2h-2zM187 492h4v2h-4zM185 494h4v2h-4zM181 494h2v2h-2zM185 496h2v2h-2zM179 496h2v2h-2zM175 498h4v2h-4zM171 500h4v2h-4zM173 502h6v2h-6zM169 504h2v2h-2zM165 506h2v2h-2zM155 508h8v2h-8zM177 586h10v2h-10zM177 588h12v4h-12zM175 592h16v4h-16zM173 596h20v4h-20zM173 600h22v4h-22z"/>
<path fill="#FFA000" d="M519 76h6v4h-6zM563 76h4v6h-4zM521 80h4v2h-4zM561 82h6v2h-6zM561 84h4v4h-4zM583 90h2v2h-2zM579 92h10v2h-10zM541 92h4v4h-4zM579 94h12v2h-12zM561 88h2v10h-2zM577 96h16v4h-16zM561 98h4v2h-4zM575 100h18v2h-18zM561 100h6v2h-6zM563 102h30v2h-30zM565 104h28v2h-28zM583 106h10v2h-10zM585 108h8v4h-8zM587 112h6v4h-6zM589 116h4v4h-4zM589 120h6v4h-6zM591 124h4v2h-4zM591 126h6v6h-6zM589 132h6v2h-6zM587 134h8v2h-8zM585 136h8v2h-8zM583 138h8v2h-8zM583 140h6v2h-6zM581 142h8v4h-8zM579 146h10v6h-10zM581 152h10v2h-10zM581 154h14v2h-14zM603 154h16v2h-16zM583 156h36v2h-36zM587 158h34v2h-34zM591 160h30v2h-30zM597 162h24v2h-24zM601 164h20v2h-20zM637 166h6v2h-6zM607 166h16v2h-16zM609 168h16v2h-16zM633 168h12v2h-12zM611 170h34v6h-34zM613 176h8v2h-8zM637 176h8v2h-8zM639 178h6v6h-6zM641 184h4v2h-4zM677 190h6v2h-6zM673 192h10v2h-10zM671 194h12v2h-12zM669 196h14v4h-14zM641 186h6v16h-6zM667 200h16v2h-16zM665 202h18v2h-18zM641 202h8v2h-8zM661 204h22v2h-22zM643 204h8v2h-8zM647 206h36v2h-36zM649 208h34v2h-34zM669 210h14v2h-14zM653 210h6v2h-6zM671 212h12v4h-12zM673 216h10v10h-10zM671 226h12v16h-12zM673 242h10v8h-10zM671 250h12v4h-12zM669 254h14v2h-14zM649 256h34v2h-34zM645 258h38v2h-38zM643 260h40v2h-40zM641 262h36v2h-36zM639 264h34v2h-34zM637 266h36v2h-36zM621 268h6v2h-6zM631 268h40v2h-40zM617 270h54v6h-54zM619 276h54v2h-54zM621 278h54v2h-54zM627 280h52v2h-52zM633 282h50v2h-50zM635 284h48v4h-48zM637 288h46v6h-46zM325 292h20v2h-20zM321 294h28v2h-28zM639 294h44v2h-44zM319 296h32v2h-32zM641 296h42v4h-42zM317 298h38v2h-38zM643 300h40v2h-40zM315 300h42v2h-42zM311 302h54v2h-54zM645 302h38v2h-38zM671 304h12v2h-12zM303 304h66v2h-66zM299 306h70v2h-70zM675 306h8v2h-8zM295 308h76v2h-76zM641 310h4v2h-4zM293 310h78v2h-78zM677 308h6v6h-6zM639 312h8v2h-8zM291 312h80v4h-80zM673 314h10v2h-10zM637 314h12v2h-12zM667 316h16v2h-16zM635 316h18v2h-18zM289 316h80v4h-80zM627 318h56v2h-56zM289 320h78v2h-78zM623 320h60v2h-60zM287 322h78v2h-78zM621 322h62v4h-62zM287 324h76v2h-76zM285 326h76v2h-76zM321 328h38v2h-38zM281 328h36v2h-36zM623 326h60v6h-60zM323 330h34v2h-34zM275 330h34v2h-34zM323 332h32v2h-32zM271 332h36v2h-36zM269 334h36v2h-36zM323 334h30v2h-30zM267 336h36v2h-36zM325 336h26v2h-26zM625 332h58v8h-58zM265 338h38v2h-38zM325 338h24v2h-24zM325 340h22v2h-22zM623 340h60v2h-60zM265 340h36v2h-36zM621 342h62v2h-62zM325 342h20v2h-20zM263 342h38v4h-38zM619 344h64v2h-64zM325 344h18v2h-18zM323 346h18v2h-18zM617 346h66v2h-66zM321 348h20v2h-20zM615 348h68v2h-68zM613 350h70v2h-70zM319 350h24v2h-24zM315 352h32v2h-32zM611 352h72v4h-72zM315 354h56v2h-56zM543 354h4v4h-4zM313 356h62v2h-62zM263 346h36v14h-36zM313 358h66v2h-66zM613 356h70v6h-70zM263 360h34v2h-34zM311 360h72v2h-72zM263 362h32v2h-32zM311 362h74v2h-74zM615 362h68v4h-68zM377 364h10v2h-10zM313 364h14v2h-14zM553 364h10v2h-10zM261 364h32v2h-32zM617 366h66v2h-66zM313 366h12v2h-12zM259 366h28v2h-28zM551 366h16v2h-16zM379 366h8v2h-8zM619 368h64v2h-64zM315 368h6v2h-6zM259 368h24v2h-24zM381 368h8v2h-8zM551 368h18v4h-18zM383 370h8v2h-8zM621 370h62v2h-62zM257 370h24v2h-24zM625 372h58v2h-58zM383 372h10v2h-10zM257 372h22v4h-22zM551 372h20v4h-20zM385 374h14v2h-14zM627 374h56v2h-56zM389 376h32v2h-32zM633 376h20v2h-20zM657 376h26v2h-26zM257 376h20v4h-20zM553 376h18v4h-18zM669 378h14v2h-14zM393 378h30v2h-30zM635 378h18v2h-18zM395 380h30v2h-30zM639 380h14v2h-14zM555 380h16v2h-16zM675 380h8v2h-8zM377 382h2v2h-2zM397 382h28v2h-28zM559 382h8v2h-8zM643 382h10v4h-10zM397 384h32v2h-32zM377 384h4v4h-4zM395 386h38v2h-38zM257 380h18v10h-18zM377 388h8v2h-8zM393 388h58v2h-58zM645 386h10v6h-10zM377 390h76v2h-76zM645 392h8v2h-8zM677 382h6v14h-6zM377 392h78v4h-78zM647 394h6v4h-6zM379 396h76v2h-76zM679 396h4v4h-4zM257 390h16v12h-16zM381 398h74v4h-74zM539 400h14v2h-14zM535 402h20v2h-20zM257 402h14v4h-14zM383 402h72v6h-72zM257 406h12v2h-12zM533 404h24v6h-24zM257 408h10v4h-10zM535 410h20v2h-20zM255 412h10v2h-10zM471 412h6v2h-6zM541 412h10v2h-10zM383 408h74v8h-74zM467 414h12v2h-12zM255 414h8v2h-8zM383 416h76v2h-76zM653 416h2v2h-2zM597 416h4v2h-4zM253 416h10v2h-10zM465 416h14v2h-14zM253 418h8v2h-8zM593 418h14v2h-14zM383 418h98v4h-98zM249 420h10v2h-10zM591 420h16v2h-16zM245 422h12v2h-12zM385 422h98v4h-98zM589 422h20v4h-20zM233 424h22v2h-22zM229 426h22v2h-22zM589 426h22v2h-22zM387 426h98v2h-98zM227 428h12v2h-12zM587 428h24v4h-24zM227 430h6v2h-6zM677 430h6v2h-6zM389 428h96v6h-96zM587 432h26v2h-26zM219 432h2v2h-2zM675 432h8v2h-8zM223 432h6v2h-6zM389 434h94v2h-94zM673 434h10v2h-10zM635 434h14v2h-14zM585 434h30v2h-30zM221 434h4v2h-4zM217 434h2v4h-2zM581 436h36v2h-36zM389 436h92v2h-92zM671 436h12v2h-12zM627 436h32v2h-32zM577 438h86v2h-86zM215 438h2v4h-2zM669 438h14v4h-14zM573 440h92v2h-92zM389 438h90v6h-90zM607 442h34v2h-34zM569 442h34v2h-34zM655 442h28v4h-28zM611 444h26v2h-26zM565 444h36v2h-36zM391 444h88v2h-88zM215 444h2v4h-2zM395 446h84v2h-84zM613 446h22v2h-22zM563 446h36v2h-36zM615 448h18v2h-18zM417 448h64v2h-64zM561 448h36v2h-36zM541 448h6v2h-6zM657 446h26v6h-26zM537 450h14v2h-14zM559 450h36v2h-36zM421 450h60v2h-60zM617 450h14v4h-14zM535 452h20v2h-20zM579 452h14v2h-14zM559 452h12v2h-12zM657 452h22v2h-22zM423 452h60v2h-60zM439 454h48v2h-48zM657 454h20v2h-20zM533 454h36v2h-36zM583 454h10v2h-10zM585 456h10v2h-10zM441 456h46v2h-46zM657 456h18v2h-18zM531 456h38v2h-38zM443 458h46v2h-46zM529 458h40v2h-40zM585 458h12v2h-12zM659 458h16v2h-16zM527 460h42v2h-42zM445 460h46v2h-46zM585 460h14v2h-14zM661 460h10v2h-10zM215 460h2v4h-2zM525 462h44v2h-44zM447 462h46v2h-46zM587 462h12v4h-12zM447 464h48v2h-48zM523 464h46v2h-46zM463 466h34v2h-34zM521 466h48v2h-48zM587 466h14v2h-14zM465 468h34v2h-34zM519 468h50v2h-50zM587 468h12v2h-12zM215 466h2v6h-2zM465 470h38v2h-38zM515 470h54v2h-54zM589 470h10v2h-10zM465 472h104v2h-104zM593 472h2v2h-2zM433 472h10v2h-10zM465 474h88v2h-88zM431 474h14v2h-14zM567 474h2v2h-2zM467 476h84v2h-84zM213 476h2v2h-2zM429 476h16v4h-16zM467 478h18v2h-18zM215 478h2v2h-2zM489 478h62v2h-62zM213 480h2v2h-2zM467 480h16v2h-16zM491 480h58v2h-58zM429 480h14v2h-14zM207 482h2v2h-2zM493 482h56v2h-56zM431 482h12v2h-12zM467 482h14v2h-14zM211 482h2v2h-2zM469 484h10v2h-10zM205 484h2v2h-2zM493 484h58v2h-58zM433 484h6v2h-6zM495 486h32v2h-32zM469 486h8v2h-8zM533 486h18v2h-18zM201 486h2v2h-2zM199 488h2v2h-2zM543 488h10v2h-10zM497 488h26v2h-26zM471 488h4v2h-4zM199 490h4v2h-4zM497 490h24v2h-24zM195 492h6v2h-6zM499 492h20v2h-20zM191 494h4v2h-4zM503 494h14v2h-14zM189 496h2v2h-2zM187 498h4v2h-4zM187 500h2v2h-2zM185 502h4v2h-4zM181 504h8v2h-8zM169 506h12v2h-12zM445 508h8v2h-8zM165 508h4v2h-4zM159 510h6v2h-6zM443 510h12v4h-12zM495 514h4v2h-4zM493 516h10v2h-10zM443 514h14v6h-14zM491 518h12v2h-12zM443 520h12v2h-12zM445 522h10v2h-10zM445 524h8v2h-8zM491 520h14v8h-14zM613 526h4v2h-4zM491 528h12v4h-12zM605 530h6v2h-6zM495 532h2v2h-2zM599 532h12v2h-12zM579 532h8v2h-8zM597 534h14v2h-14zM577 534h12v2h-12zM595 536h14v2h-14zM575 536h16v2h-16zM575 538h36v2h-36zM483 538h4v2h-4zM573 540h18v2h-18zM595 540h14v2h-14zM481 540h8v4h-8zM597 542h10v2h-10zM571 542h18v2h-18zM555 544h32v2h-32zM553 546h26v2h-26zM479 544h12v6h-12zM551 548h26v2h-26zM551 550h24v2h-24zM479 550h14v4h-14zM553 552h22v2h-22zM555 554h18v2h-18zM557 556h12v2h-12zM479 554h16v6h-16zM479 560h18v8h-18zM167 566h6v2h-6zM481 568h12v2h-12zM155 568h22v2h-22zM155 570h24v2h-24zM155 572h26v2h-26zM175 574h8v2h-8zM177 576h8v2h-8zM181 578h6v2h-6zM155 574h14v8h-14zM185 580h6v2h-6zM189 582h4v2h-4zM159 582h10v2h-10zM191 584h4v2h-4zM161 584h8v4h-8zM193 586h4v2h-4zM195 588h4v2h-4zM159 588h10v2h-10zM155 590h14v2h-14zM195 590h6v2h-6zM155 592h12v2h-12zM197 592h6v2h-6zM155 594h10v2h-10zM199 594h6v2h-6zM155 596h8v2h-8zM201 596h4v2h-4zM155 598h6v2h-6zM201 598h6v6h-6z"/>
<path fill="#FF6600" d="M567 76h6v8h-6zM565 84h6v2h-6zM565 86h4v2h-4zM577 88h12v2h-12zM563 88h4v4h-4zM585 90h8v2h-8zM577 90h6v2h-6zM563 92h2v2h-2zM589 92h6v2h-6zM575 92h4v4h-4zM591 94h6v2h-6zM563 94h4v4h-4zM573 96h4v2h-4zM593 96h4v4h-4zM565 98h12v2h-12zM567 100h8v2h-8zM593 100h6v20h-6zM595 120h4v4h-4zM595 124h6v2h-6zM597 126h4v4h-4zM597 130h6v2h-6zM595 132h8v4h-8zM593 136h10v2h-10zM591 138h12v2h-12zM589 140h14v2h-14zM589 142h18v2h-18zM589 144h24v2h-24zM589 146h30v2h-30zM589 148h34v2h-34zM589 150h36v2h-36zM591 152h34v2h-34zM595 154h8v2h-8zM619 154h8v4h-8zM621 158h6v2h-6zM621 160h8v2h-8zM621 162h26v2h-26zM621 164h28v2h-28zM623 166h14v2h-14zM643 166h8v2h-8zM625 168h8v2h-8zM675 170h8v2h-8zM673 172h10v2h-10zM645 168h6v8h-6zM671 174h12v4h-12zM645 176h4v4h-4zM669 178h14v4h-14zM667 182h16v2h-16zM645 180h6v6h-6zM665 184h18v2h-18zM663 186h20v2h-20zM661 188h22v2h-22zM647 186h6v6h-6zM659 190h18v2h-18zM657 192h16v2h-16zM647 192h8v4h-8zM657 194h14v2h-14zM647 196h22v4h-22zM647 200h20v2h-20zM649 202h16v2h-16zM651 204h10v2h-10zM677 262h6v2h-6zM673 264h10v4h-10zM671 268h12v8h-12zM673 276h10v2h-10zM675 278h8v2h-8zM679 280h4v2h-4zM317 328h4v2h-4zM309 330h14v2h-14zM307 332h16v2h-16zM305 334h18v2h-18zM303 336h22v4h-22zM301 340h24v6h-24zM299 346h24v2h-24zM299 348h22v2h-22zM299 350h20v2h-20zM299 352h16v4h-16zM299 356h14v4h-14zM297 360h14v2h-14zM295 362h16v2h-16zM327 364h50v2h-50zM293 364h20v2h-20zM325 366h54v2h-54zM287 366h26v2h-26zM283 368h32v2h-32zM321 368h60v2h-60zM281 370h102v2h-102zM279 372h104v2h-104zM279 374h106v2h-106zM277 376h112v2h-112zM277 378h116v2h-116zM275 380h120v2h-120zM379 382h18v2h-18zM381 384h16v2h-16zM275 382h102v6h-102zM381 386h14v2h-14zM331 388h46v2h-46zM275 388h50v2h-50zM385 388h8v2h-8zM273 390h48v2h-48zM335 390h42v4h-42zM273 392h10v2h-10zM289 392h30v2h-30zM337 394h40v2h-40zM337 396h42v2h-42zM273 394h8v6h-8zM337 398h44v4h-44zM273 400h6v2h-6zM337 402h46v2h-46zM271 402h8v4h-8zM269 406h8v2h-8zM267 408h8v4h-8zM265 412h8v2h-8zM263 414h8v4h-8zM335 404h48v16h-48zM261 418h8v2h-8zM259 420h10v2h-10zM337 420h46v2h-46zM337 422h48v2h-48zM257 422h10v2h-10zM339 424h46v2h-46zM255 424h12v2h-12zM339 426h48v2h-48zM251 426h14v2h-14zM239 428h24v2h-24zM341 428h48v4h-48zM233 430h22v2h-22zM343 432h46v2h-46zM229 432h16v2h-16zM345 434h44v2h-44zM225 434h6v2h-6zM219 434h2v2h-2zM325 436h10v2h-10zM219 436h6v2h-6zM347 436h42v2h-42zM323 438h12v2h-12zM349 438h40v2h-40zM217 438h2v4h-2zM351 440h38v2h-38zM321 440h16v2h-16zM641 442h14v2h-14zM603 442h4v2h-4zM355 442h34v2h-34zM215 442h2v2h-2zM321 442h14v4h-14zM637 444h18v2h-18zM601 444h10v2h-10zM357 444h34v2h-34zM361 446h34v2h-34zM599 446h14v2h-14zM323 446h10v2h-10zM635 446h22v2h-22zM597 448h18v2h-18zM365 448h52v2h-52zM323 448h8v2h-8zM633 448h24v2h-24zM367 450h54v2h-54zM595 450h22v2h-22zM631 450h26v4h-26zM593 452h24v2h-24zM369 452h54v2h-54zM571 452h8v2h-8zM679 452h4v2h-4zM677 454h6v2h-6zM593 454h64v2h-64zM371 454h68v2h-68zM569 454h14v2h-14zM595 456h62v2h-62zM371 456h70v2h-70zM675 456h8v4h-8zM597 458h62v2h-62zM373 458h70v2h-70zM569 456h16v6h-16zM373 460h72v2h-72zM671 460h12v2h-12zM599 460h62v2h-62zM217 446h2v18h-2zM599 462h84v4h-84zM373 462h74v4h-74zM215 464h2v2h-2zM601 466h82v2h-82zM373 466h90v2h-90zM569 462h18v8h-18zM217 466h2v6h-2zM599 468h84v4h-84zM373 468h92v4h-92zM569 470h20v2h-20zM443 472h22v2h-22zM595 472h88v2h-88zM419 472h14v2h-14zM569 472h24v2h-24zM373 472h38v2h-38zM569 474h114v2h-114zM373 474h36v2h-36zM553 474h14v2h-14zM421 474h10v2h-10zM445 474h20v2h-20zM215 472h4v6h-4zM551 476h132v4h-132zM445 476h22v4h-22zM217 478h2v2h-2zM485 478h4v2h-4zM421 476h8v6h-8zM215 480h4v2h-4zM483 480h8v2h-8zM549 480h134v4h-134zM443 480h24v4h-24zM481 482h12v2h-12zM213 482h4v2h-4zM421 482h10v2h-10zM371 476h36v10h-36zM439 484h30v2h-30zM207 484h8v2h-8zM421 484h12v2h-12zM479 484h14v2h-14zM551 484h132v4h-132zM203 486h4v2h-4zM419 486h50v2h-50zM477 486h18v2h-18zM527 486h6v2h-6zM371 486h38v4h-38zM523 488h20v2h-20zM417 488h54v2h-54zM475 488h22v2h-22zM201 488h4v2h-4zM553 488h130v2h-130zM203 490h2v2h-2zM371 490h126v2h-126zM521 490h162v2h-162zM371 492h128v2h-128zM519 492h164v2h-164zM201 492h4v2h-4zM195 494h8v2h-8zM371 494h132v2h-132zM517 494h166v2h-166zM197 496h2v2h-2zM191 496h4v2h-4zM371 496h306v2h-306zM191 498h2v2h-2zM535 498h140v2h-140zM371 498h160v4h-160zM189 500h4v2h-4zM535 500h138v2h-138zM373 502h298v2h-298zM349 502h6v2h-6zM189 502h6v2h-6zM373 504h296v2h-296zM347 504h10v2h-10zM189 504h4v2h-4zM347 506h12v2h-12zM375 506h272v2h-272zM657 506h6v2h-6zM181 506h12v2h-12zM169 508h22v2h-22zM453 508h190v2h-190zM347 508h14v2h-14zM379 508h66v2h-66zM455 510h184v2h-184zM347 510h16v2h-16zM185 510h2v2h-2zM165 510h4v2h-4zM381 510h62v2h-62zM383 512h60v2h-60zM155 512h10v2h-10zM455 512h182v2h-182zM347 512h18v4h-18zM499 514h136v2h-136zM457 514h38v2h-38zM155 514h14v2h-14zM347 516h20v2h-20zM155 516h12v2h-12zM457 516h36v2h-36zM503 516h130v2h-130zM385 514h58v6h-58zM457 518h34v2h-34zM503 518h126v2h-126zM387 520h56v2h-56zM347 518h22v6h-22zM155 518h10v6h-10zM455 520h36v4h-36zM505 520h122v4h-122zM387 522h58v2h-58zM389 524h56v2h-56zM505 524h120v2h-120zM453 524h38v2h-38zM347 524h24v2h-24zM505 526h108v2h-108zM391 526h100v2h-100zM617 526h8v2h-8zM503 528h120v2h-120zM393 528h98v4h-98zM503 530h102v2h-102zM611 530h10v2h-10zM349 526h22v8h-22zM611 532h8v2h-8zM395 532h100v2h-100zM587 532h12v2h-12zM497 532h82v2h-82zM673 532h10v2h-10zM589 534h8v2h-8zM395 534h182v2h-182zM351 534h18v2h-18zM611 534h6v2h-6zM609 536h6v2h-6zM591 536h4v2h-4zM351 536h16v2h-16zM395 536h180v2h-180zM155 524h12v16h-12zM487 538h88v2h-88zM611 538h2v2h-2zM395 538h88v2h-88zM489 540h84v2h-84zM395 540h86v2h-86zM155 540h14v2h-14zM591 540h4v2h-4zM609 540h4v2h-4zM589 542h8v2h-8zM155 542h16v2h-16zM393 542h88v2h-88zM489 542h82v2h-82zM607 542h4v2h-4zM155 544h20v2h-20zM587 544h22v2h-22zM389 544h90v2h-90zM491 544h64v2h-64zM387 546h92v2h-92zM491 546h62v2h-62zM155 546h22v2h-22zM579 546h28v2h-28zM577 548h22v2h-22zM385 548h94v2h-94zM491 548h60v2h-60zM155 548h24v4h-24zM493 550h58v2h-58zM575 550h18v2h-18zM365 550h2v4h-2zM383 550h96v4h-96zM575 552h10v2h-10zM493 552h60v2h-60zM365 554h6v2h-6zM379 554h100v2h-100zM495 554h60v2h-60zM573 554h10v2h-10zM155 552h26v6h-26zM569 556h10v2h-10zM495 556h62v2h-62zM495 558h50v2h-50zM547 558h30v2h-30zM155 558h28v2h-28zM497 560h44v2h-44zM553 560h22v2h-22zM671 534h12v30h-12zM365 556h114v8h-114zM497 562h42v2h-42zM155 560h30v6h-30zM367 564h112v2h-112zM673 564h10v2h-10zM497 564h38v2h-38zM155 566h12v2h-12zM497 566h22v2h-22zM675 566h8v2h-8zM173 566h12v2h-12zM371 566h108v2h-108zM177 568h10v2h-10zM407 568h74v2h-74zM493 568h22v2h-22zM377 568h20v2h-20zM411 570h102v2h-102zM383 570h10v2h-10zM179 570h8v2h-8zM413 572h98v2h-98zM387 572h4v2h-4zM181 572h8v2h-8zM183 574h6v2h-6zM451 574h58v2h-58zM413 574h36v2h-36zM415 576h32v2h-32zM453 576h52v2h-52zM185 576h6v2h-6zM455 578h10v2h-10zM187 578h8v2h-8zM417 578h28v2h-28zM419 580h24v2h-24zM191 580h8v2h-8zM193 582h8v2h-8zM155 582h4v2h-4zM195 584h8v2h-8zM155 584h6v4h-6zM197 586h8v2h-8zM155 588h4v2h-4zM199 588h8v2h-8zM201 590h6v2h-6zM203 592h6v2h-6zM205 594h6v2h-6zM205 596h8v2h-8zM207 598h6v6h-6z"/>
<path fill="#FF2200" d="M573 76h6v6h-6zM611 76h72v8h-72zM573 82h8v2h-8zM571 84h18v2h-18zM613 84h70v2h-70zM569 86h26v2h-26zM615 86h68v2h-68zM667 88h16v2h-16zM619 88h6v2h-6zM589 88h8v2h-8zM567 88h10v4h-10zM593 90h6v2h-6zM669 90h14v2h-14zM565 92h10v2h-10zM595 92h6v2h-6zM597 94h4v2h-4zM567 94h8v2h-8zM671 92h12v6h-12zM567 96h6v2h-6zM597 96h6v4h-6zM673 98h10v4h-10zM599 100h4v2h-4zM599 102h6v18h-6zM671 102h12v18h-12zM599 120h8v4h-8zM673 120h10v6h-10zM601 124h6v2h-6zM675 126h8v2h-8zM601 126h8v4h-8zM677 128h6v2h-6zM603 130h6v2h-6zM603 132h8v2h-8zM603 134h10v2h-10zM603 136h12v2h-12zM603 138h18v2h-18zM603 140h24v2h-24zM607 142h22v2h-22zM613 144h18v2h-18zM619 146h12v2h-12zM623 148h8v2h-8zM625 150h8v4h-8zM651 154h4v2h-4zM627 154h6v2h-6zM627 156h10v2h-10zM645 156h12v2h-12zM677 154h6v6h-6zM627 158h30v2h-30zM629 160h30v2h-30zM675 160h8v2h-8zM647 162h12v2h-12zM671 162h12v2h-12zM669 164h14v2h-14zM649 164h10v2h-10zM665 166h18v2h-18zM651 166h10v2h-10zM651 168h32v2h-32zM651 170h24v2h-24zM651 172h22v2h-22zM651 174h20v2h-20zM649 176h22v2h-22zM649 178h20v2h-20zM651 180h18v2h-18zM651 182h16v2h-16zM651 184h14v2h-14zM653 186h10v2h-10zM653 188h8v2h-8zM653 190h6v2h-6zM655 192h2v4h-2zM325 388h6v2h-6zM321 390h14v2h-14zM283 392h6v2h-6zM319 392h16v2h-16zM281 394h56v6h-56zM279 400h58v4h-58zM279 404h56v2h-56zM295 406h40v2h-40zM277 406h12v2h-12zM275 408h10v2h-10zM297 408h38v2h-38zM299 410h36v2h-36zM275 410h8v2h-8zM301 412h34v2h-34zM273 412h8v2h-8zM271 414h8v2h-8zM303 414h32v2h-32zM271 416h6v2h-6zM305 416h30v4h-30zM269 418h8v2h-8zM307 420h30v2h-30zM269 420h6v2h-6zM309 422h28v2h-28zM267 422h8v4h-8zM309 424h30v2h-30zM311 426h28v2h-28zM265 426h10v2h-10zM263 428h12v2h-12zM311 428h30v4h-30zM255 430h20v2h-20zM311 432h32v2h-32zM245 432h30v2h-30zM231 434h42v2h-42zM313 434h32v2h-32zM313 436h12v2h-12zM225 436h42v2h-42zM335 436h12v2h-12zM313 438h10v2h-10zM233 438h4v2h-4zM219 438h6v2h-6zM335 438h14v2h-14zM219 440h4v2h-4zM337 440h14v2h-14zM335 442h20v2h-20zM313 440h8v6h-8zM217 442h6v4h-6zM335 444h22v2h-22zM333 446h28v2h-28zM313 446h10v4h-10zM351 448h14v2h-14zM331 448h10v2h-10zM355 450h12v2h-12zM313 450h26v2h-26zM311 452h26v2h-26zM359 452h10v2h-10zM361 454h10v2h-10zM311 454h24v2h-24zM311 456h22v2h-22zM363 456h8v2h-8zM311 458h20v2h-20zM363 458h10v2h-10zM219 446h4v18h-4zM217 464h6v2h-6zM311 460h18v8h-18zM219 466h4v2h-4zM365 460h8v10h-8zM311 468h22v2h-22zM309 470h28v2h-28zM363 470h10v2h-10zM219 468h6v6h-6zM411 472h8v2h-8zM309 472h64v2h-64zM307 474h66v2h-66zM409 474h12v2h-12zM219 474h8v6h-8zM305 476h66v4h-66zM219 480h10v2h-10zM307 480h64v4h-64zM217 482h12v2h-12zM407 476h14v10h-14zM215 484h16v2h-16zM309 484h62v2h-62zM207 486h24v2h-24zM409 486h10v2h-10zM409 488h8v2h-8zM205 488h28v4h-28zM205 492h30v2h-30zM311 486h60v10h-60zM203 494h34v2h-34zM199 496h38v2h-38zM195 496h2v2h-2zM677 496h6v2h-6zM311 496h14v2h-14zM333 496h38v2h-38zM311 498h12v2h-12zM335 498h36v2h-36zM675 498h8v2h-8zM193 498h46v4h-46zM531 498h4v4h-4zM337 500h34v2h-34zM673 500h10v2h-10zM313 500h6v2h-6zM355 502h18v2h-18zM337 502h12v2h-12zM195 502h44v2h-44zM671 502h12v2h-12zM669 504h14v2h-14zM357 504h16v2h-16zM193 504h48v2h-48zM647 506h10v2h-10zM193 506h50v2h-50zM359 506h16v2h-16zM663 506h20v2h-20zM643 508h40v2h-40zM191 508h56v2h-56zM361 508h18v2h-18zM169 510h16v2h-16zM363 510h18v2h-18zM187 510h62v2h-62zM639 510h44v2h-44zM365 512h18v2h-18zM165 512h86v2h-86zM637 512h42v2h-42zM337 504h10v12h-10zM169 514h82v2h-82zM365 514h20v2h-20zM675 514h8v2h-8zM635 514h16v2h-16zM167 516h86v2h-86zM671 516h12v2h-12zM633 516h14v2h-14zM367 516h18v2h-18zM335 516h12v2h-12zM165 518h90v2h-90zM369 518h16v2h-16zM665 518h18v2h-18zM333 518h14v2h-14zM629 518h14v2h-14zM165 520h94v2h-94zM659 520h24v2h-24zM329 520h18v2h-18zM627 520h12v2h-12zM369 520h18v4h-18zM165 522h96v2h-96zM627 522h8v2h-8zM325 522h22v4h-22zM655 522h28v4h-28zM625 524h6v2h-6zM371 524h18v2h-18zM625 526h4v2h-4zM371 526h20v2h-20zM623 528h4v2h-4zM653 526h30v6h-30zM371 528h22v4h-22zM621 530h4v2h-4zM323 526h26v8h-26zM371 532h24v2h-24zM653 532h20v2h-20zM619 532h4v2h-4zM617 534h4v2h-4zM323 534h28v2h-28zM369 534h26v2h-26zM167 524h96v14h-96zM655 534h16v4h-16zM615 536h4v2h-4zM325 536h26v2h-26zM367 536h28v2h-28zM167 538h94v2h-94zM613 538h4v2h-4zM653 538h18v2h-18zM325 538h70v2h-70zM169 540h92v2h-92zM327 540h68v2h-68zM651 540h20v2h-20zM613 540h2v2h-2zM611 542h2v2h-2zM171 542h88v2h-88zM649 542h22v2h-22zM329 542h64v2h-64zM609 544h2v2h-2zM331 544h58v2h-58zM175 544h82v2h-82zM607 546h2v2h-2zM333 546h54v2h-54zM177 546h78v2h-78zM599 548h8v2h-8zM333 548h52v2h-52zM179 548h74v4h-74zM593 550h12v2h-12zM367 550h16v4h-16zM585 552h16v2h-16zM181 552h70v2h-70zM335 550h30v6h-30zM371 554h8v2h-8zM583 554h12v2h-12zM181 554h68v2h-68zM579 556h10v2h-10zM181 556h64v2h-64zM337 556h28v4h-28zM545 558h2v2h-2zM577 558h8v2h-8zM183 558h58v2h-58zM541 560h12v2h-12zM185 560h56v2h-56zM575 560h8v2h-8zM339 560h26v2h-26zM647 544h24v20h-24zM539 562h42v2h-42zM185 562h54v2h-54zM343 562h22v2h-22zM185 564h52v2h-52zM535 564h42v2h-42zM647 564h26v2h-26zM345 564h22v2h-22zM185 566h50v2h-50zM519 566h22v2h-22zM647 566h28v2h-28zM347 566h24v2h-24zM559 566h8v2h-8zM397 568h10v2h-10zM515 568h10v2h-10zM349 568h28v2h-28zM187 568h46v2h-46zM513 570h6v2h-6zM393 570h18v2h-18zM187 570h40v2h-40zM351 570h32v2h-32zM189 572h34v2h-34zM511 572h6v2h-6zM391 572h22v2h-22zM353 572h34v2h-34zM647 568h36v8h-36zM509 574h6v2h-6zM189 574h32v2h-32zM353 574h60v2h-60zM449 574h2v2h-2zM355 576h60v2h-60zM191 576h28v2h-28zM649 576h34v2h-34zM447 576h6v2h-6zM505 576h8v2h-8zM357 578h60v2h-60zM445 578h10v2h-10zM465 578h44v2h-44zM651 578h32v2h-32zM195 578h22v2h-22zM199 580h16v2h-16zM655 580h28v2h-28zM357 580h62v2h-62zM443 580h62v2h-62zM657 582h26v2h-26zM359 582h110v2h-110zM485 582h14v2h-14zM201 582h14v2h-14zM363 584h102v2h-102zM203 584h12v2h-12zM659 584h24v4h-24zM367 586h94v2h-94zM205 586h10v2h-10zM207 588h8v2h-8zM661 588h22v2h-22zM371 588h84v2h-84zM373 590h14v2h-14zM401 590h4v2h-4zM663 590h20v2h-20zM207 590h10v2h-10zM667 592h8v2h-8zM209 592h10v2h-10zM211 594h8v2h-8zM213 596h8v8h-8z"/>
<path fill="#E00020" d="M579 76h32v6h-32zM581 82h30v2h-30zM589 84h24v2h-24zM595 86h20v2h-20zM625 88h42v2h-42zM597 88h22v2h-22zM599 90h70v2h-70zM601 92h70v4h-70zM603 96h68v2h-68zM603 98h70v4h-70zM605 102h66v18h-66zM607 120h66v6h-66zM609 126h66v2h-66zM609 128h68v2h-68zM609 130h74v2h-74zM611 132h72v2h-72zM613 134h70v2h-70zM615 136h68v2h-68zM621 138h62v2h-62zM627 140h56v2h-56zM629 142h54v2h-54zM631 144h52v6h-52zM633 150h50v4h-50zM655 154h22v2h-22zM633 154h18v2h-18zM637 156h8v2h-8zM657 156h20v4h-20zM659 160h16v2h-16zM659 162h12v2h-12zM659 164h10v2h-10zM661 166h4v2h-4zM289 406h6v2h-6zM285 408h12v2h-12zM283 410h16v2h-16zM281 412h20v2h-20zM279 414h24v2h-24zM277 416h28v4h-28zM275 420h32v2h-32zM275 422h34v4h-34zM275 426h36v8h-36zM273 434h40v2h-40zM267 436h46v2h-46zM237 438h76v2h-76zM225 438h8v2h-8zM341 448h10v2h-10zM223 440h90v12h-90zM339 450h16v2h-16zM337 452h22v2h-22zM335 454h26v2h-26zM333 456h30v2h-30zM331 458h32v2h-32zM223 452h88v16h-88zM329 460h36v8h-36zM225 468h86v2h-86zM333 468h32v2h-32zM337 470h26v2h-26zM225 470h84v4h-84zM227 474h80v2h-80zM227 476h78v4h-78zM229 480h78v4h-78zM231 484h78v2h-78zM231 486h80v2h-80zM233 488h78v2h-78zM233 490h48v2h-48zM295 490h16v2h-16zM235 492h44v2h-44zM299 492h12v6h-12zM237 494h40v4h-40zM325 496h8v2h-8zM301 498h10v2h-10zM239 498h38v2h-38zM323 498h12v2h-12zM301 500h12v2h-12zM319 500h18v2h-18zM239 500h36v4h-36zM241 504h34v2h-34zM243 506h32v2h-32zM247 508h28v2h-28zM249 510h26v2h-26zM679 512h4v2h-4zM251 512h24v2h-24zM299 502h38v14h-38zM251 514h26v2h-26zM651 514h24v2h-24zM647 516h24v2h-24zM253 516h24v2h-24zM299 516h36v2h-36zM643 518h22v2h-22zM299 518h34v2h-34zM255 518h22v2h-22zM639 520h20v2h-20zM259 520h20v2h-20zM299 520h30v2h-30zM261 522h20v2h-20zM635 522h20v2h-20zM301 522h24v4h-24zM631 524h24v2h-24zM301 526h22v2h-22zM629 526h24v2h-24zM303 528h20v2h-20zM627 528h26v2h-26zM263 524h18v8h-18zM625 530h28v2h-28zM305 530h18v2h-18zM623 532h4v2h-4zM307 532h16v2h-16zM263 532h16v2h-16zM635 532h18v2h-18zM263 534h10v2h-10zM621 534h4v2h-4zM313 534h10v2h-10zM637 534h18v4h-18zM619 536h4v2h-4zM263 536h8v2h-8zM317 536h8v4h-8zM617 538h6v2h-6zM637 538h16v2h-16zM261 538h8v4h-8zM637 540h14v2h-14zM615 540h6v2h-6zM319 540h8v2h-8zM321 542h8v2h-8zM613 542h6v2h-6zM637 542h12v2h-12zM259 542h8v2h-8zM635 544h12v2h-12zM611 544h4v2h-4zM321 544h10v2h-10zM257 544h10v2h-10zM255 546h10v2h-10zM609 546h4v2h-4zM633 546h14v2h-14zM323 546h10v2h-10zM607 548h4v2h-4zM631 548h16v2h-16zM325 548h8v2h-8zM253 548h10v4h-10zM629 550h18v2h-18zM605 550h6v2h-6zM251 552h12v2h-12zM601 552h8v2h-8zM627 552h20v2h-20zM325 550h10v6h-10zM249 554h14v2h-14zM595 554h10v2h-10zM625 554h22v4h-22zM589 556h10v2h-10zM245 556h18v2h-18zM325 556h12v4h-12zM585 558h8v2h-8zM241 558h22v4h-22zM583 560h6v2h-6zM325 560h14v2h-14zM323 562h20v2h-20zM239 562h24v2h-24zM581 562h8v2h-8zM237 564h28v2h-28zM577 564h10v2h-10zM323 564h22v2h-22zM541 566h18v2h-18zM567 566h18v2h-18zM325 566h22v2h-22zM235 566h30v2h-30zM325 568h24v2h-24zM525 568h58v2h-58zM233 568h34v2h-34zM519 570h20v2h-20zM227 570h40v2h-40zM551 570h22v2h-22zM325 570h26v2h-26zM327 572h26v2h-26zM517 572h6v2h-6zM223 572h46v2h-46zM623 558h24v18h-24zM331 574h22v2h-22zM221 574h48v2h-48zM515 574h6v2h-6zM219 576h50v2h-50zM333 576h22v2h-22zM623 576h26v2h-26zM513 576h6v2h-6zM217 578h52v2h-52zM509 578h8v2h-8zM625 578h26v2h-26zM337 578h20v2h-20zM339 580h18v2h-18zM625 580h30v2h-30zM505 580h10v2h-10zM499 582h12v2h-12zM339 582h20v2h-20zM627 582h30v2h-30zM469 582h16v2h-16zM341 584h22v2h-22zM465 584h40v2h-40zM629 584h30v4h-30zM479 586h24v2h-24zM341 586h26v2h-26zM461 586h10v2h-10zM215 580h54v10h-54zM483 588h16v2h-16zM343 588h28v2h-28zM455 588h14v2h-14zM631 588h30v2h-30zM217 590h52v2h-52zM387 590h14v2h-14zM345 590h28v2h-28zM487 590h10v2h-10zM405 590h60v2h-60zM633 590h30v2h-30zM363 592h100v2h-100zM633 592h34v2h-34zM675 592h8v2h-8zM291 592h42v2h-42zM219 592h36v2h-36zM287 594h54v2h-54zM219 594h34v2h-34zM367 594h68v2h-68zM283 596h58v2h-58zM369 596h60v2h-60zM371 598h18v2h-18zM371 600h16v2h-16zM635 594h48v10h-48zM221 596h30v8h-30zM281 598h60v6h-60zM373 602h14v2h-14z"/>
<path fill="#990050" d="M281 490h14v2h-14zM279 492h20v2h-20zM277 494h22v4h-22zM277 498h24v2h-24zM275 500h26v2h-26zM275 502h24v12h-24zM277 514h22v6h-22zM279 520h20v2h-20zM281 522h20v4h-20zM295 526h6v2h-6zM281 526h10v2h-10zM295 528h8v2h-8zM281 528h8v4h-8zM297 530h8v2h-8zM627 532h8v2h-8zM279 532h10v2h-10zM299 532h8v2h-8zM273 534h14v2h-14zM299 534h14v2h-14zM625 534h12v2h-12zM271 536h16v2h-16zM623 536h14v4h-14zM301 536h16v4h-16zM269 538h18v2h-18zM301 540h18v2h-18zM621 540h16v2h-16zM269 540h16v2h-16zM267 542h18v2h-18zM301 542h20v2h-20zM619 542h18v2h-18zM615 544h20v2h-20zM299 544h22v2h-22zM267 544h16v2h-16zM297 546h26v2h-26zM265 546h18v2h-18zM613 546h20v2h-20zM611 548h20v2h-20zM295 548h30v2h-30zM263 548h18v4h-18zM293 550h32v2h-32zM611 550h18v2h-18zM609 552h18v2h-18zM605 554h20v2h-20zM599 556h26v2h-26zM593 558h30v2h-30zM263 552h62v10h-62zM589 560h34v2h-34zM589 562h14v2h-14zM263 562h60v2h-60zM607 562h16v4h-16zM587 564h12v2h-12zM265 564h58v2h-58zM265 566h60v2h-60zM585 566h38v2h-38zM583 568h40v2h-40zM267 568h58v4h-58zM539 570h12v2h-12zM573 570h50v2h-50zM523 572h100v2h-100zM269 572h58v2h-58zM269 574h62v2h-62zM521 574h102v2h-102zM519 576h104v2h-104zM269 576h64v2h-64zM269 578h68v2h-68zM517 578h108v2h-108zM515 580h40v2h-40zM559 580h66v2h-66zM269 580h70v4h-70zM561 582h66v2h-66zM511 582h44v2h-44zM505 584h50v2h-50zM559 584h70v2h-70zM269 584h72v4h-72zM503 586h126v2h-126zM471 586h8v2h-8zM499 588h132v2h-132zM469 588h14v2h-14zM269 588h74v2h-74zM465 590h22v2h-22zM497 590h136v2h-136zM269 590h76v2h-76zM333 592h30v2h-30zM463 592h170v2h-170zM255 592h36v2h-36zM341 594h26v2h-26zM435 594h200v2h-200zM253 594h34v2h-34zM341 596h28v2h-28zM251 596h32v2h-32zM429 596h206v2h-206zM389 598h246v2h-246zM341 598h30v4h-30zM251 598h30v6h-30zM387 600h248v4h-248zM341 602h32v2h-32z"/>
<path fill="#55008C" d="M291 526h4v2h-4zM289 528h6v2h-6zM289 530h8v2h-8zM289 532h10v2h-10zM287 534h12v2h-12zM287 536h14v4h-14zM285 540h16v4h-16zM283 544h16v2h-16zM283 546h14v2h-14zM281 548h14v2h-14zM281 550h12v2h-12zM603 562h4v2h-4zM599 564h8v2h-8zM555 580h4v2h-4zM555 582h6v2h-6zM555 584h4v2h-4z"/>
</g>
<rect x="680" y="115" width="3.5" height="489" fill="#FF2200"/>
<g id="lines" fill="none" stroke="#000" stroke-width="1" stroke-linejoin="round" stroke-linecap="round">
<path d="M287.6 208.5 L285.0 334.2 L284.9 334.2 L290.5 334.2 L292.8 337.2 L295.8 342.5 L301.0 346.7 L304.8 347.8 L308.5 344.8 L312.2 345.8 L315.2 347.8 L318.2 343.2 L320.5 343.2 L324.2 346.2 L327.7 350.0 L328.3 356.0 L330.2 358.2 L337.0 359.3 L340.0 358.7 L344.5 362.0 L350.5 363.8 L356.5 363.5 L361.0 362.3 L364.0 365.0 L367.0 368.0 L370.0 366.5 L373.0 363.5 L377.5 364.2 L383.5 364.7 L386.5 363.5 L388.0 368.0 L390.2 372.5 L394.0 375.5 L394.8 379.2 L397.8 381.2 L400.0 381.5 L401.2 382.0 L404.2 379.3 L407.2 376.0 L410.2 374.5 L414.0 375.7 L415.5 379.0 L418.5 379.3 L422.2 379.8 L423.3 383.5 L426.0 384.7 L429.3 382.0 L432.8 380.5 L435.0 379.0 L436.8 381.2 L436.8 385.0 L438.0 388.8 L440.2 390.2 L441.8 386.5 L442.5 383.5 L445.8 382.0 L447.0 377.5 L450.0 376.0"/>
<path d="M471.0 385.0 L474.0 387.2 L477.0 387.7 L480.0 389.5 L482.2 392.2 L484.5 391.0 L484.8 388.0 L487.5 388.3 L489.8 388.8 L492.8 385.0 L495.0 383.5 L499.5 382.8 L504.0 380.5 L507.0 381.2 L510.0 382.3 L509.8 383.0 L513.5 380.8 L518.0 378.5 L523.2 376.7 L525.5 378.8 L530.0 380.0 L536.0 380.3 L539.8 379.2 L542.0 374.3 L545.0 374.8 L549.5 377.0 L552.5 380.0 L557.0 380.8 L559.2 384.5 L563.0 387.5 L567.5 388.2 L570.5 389.8 L573.5 392.0 L578.0 393.5 L581.8 394.2 L584.0 395.0 L587.0 398.0 L590.0 398.8 L596.0 398.0 L599.0 397.7 L603.5 398.3 L607.2 398.8"/>
<path d="M447.8 376.4 L451.2 377.5 L453.0 380.8 L457.5 383.5 L460.2 385.3 L462.8 382.8 L463.2 379.3 L467.2 378.4 L468.8 374.8 L466.5 370.8 L469.5 368.5 L472.5 367.8" stroke-width="2.6"/>
<path d="M468.8 374.8 L469.8 379.3 L470.2 384.2 L471.8 376.0 L471.8 371.5" stroke-width="2.2"/>
<path d="M155.0 170.4 L221.0 173.5 L287.0 175.0 L353.0 176.3 L419.0 176.7 L485.0 176.0 L551.0 175.3 L570.8 174.8"/>
<path d="M155.0 203.0 L221.0 206.0 L287.6 208.5"/>
<path d="M185.5 76.0 L181.4 171.4"/>
<path d="M567.5 76.0 L568.3 92.5 L569.5 142.0 L570.8 175.0 L571.6 207.2 L575.8 232.8 L582.4 274.0 L582.8 279.0 L583.0 340.0 L582.6 394.2"/>
<path d="M571.6 207.2 L627.0 205.0 L683.0 203.0"/>
<path d="M607.3 398.7 L608.8 434.0 L609.6 472.0 L610.4 500.1 L617.0 505.0 L622.0 511.6 L624.4 516.5 L625.2 528.1 L629.4 531.4 L633.5 538.0 L636.8 546.2 L640.9 552.9 L640.1 557.8 L642.6 562.8 L640.1 566.0 L641.8 571.0 L640.9 577.6 L636.8 585.9 L633.5 590.8 L632.7 597.4 L634.3 604.0"/>
<path d="M608.8 434.0 L683.0 431.0"/>
<path d="M155.5 105h14M683 105h-13M155.5 236h14M683 236h-13M155.5 366.4h14M683 366.4h-13M155.5 498h14M683 498h-13M165 604v-14M278 604v-14M391 604v-14M504 604v-14M617 604v-14M188 76.5v14M290.3 76.5v14M393.4 76.5v14M496.6 76.5v14M598.9 76.5v14" stroke-width="1.1" stroke-linecap="butt"/>
<path d="M422.6 289.8 L424.3 294.3 L429.1 294.5 L425.3 297.5 L426.6 302.1 L422.6 299.5 L418.6 302.1 L419.9 297.5 L416.1 294.5 L420.9 294.3Z" stroke-width="1.25" stroke-linejoin="miter"/>
<path d="M457.8 447.0 L459.5 451.5 L464.3 451.7 L460.5 454.7 L461.8 459.3 L457.8 456.7 L453.8 459.3 L455.1 454.7 L451.3 451.7 L456.1 451.5Z" stroke-width="1.25" stroke-linejoin="miter"/>
</g>
<g id="arrows" fill="none" stroke="#000" stroke-width="0.7" stroke-linecap="round" stroke-linejoin="round">
<clipPath id="mapclip"><rect x="155.5" y="76.5" width="527.5" height="527.5"/></clipPath>
<path clip-path="url(#mapclip)" d="M163.0 78.6L163.8 79.2L164.7 79.8L165.6 80.4L166.5 81.0L167.4 81.5L168.3 82.0L169.2 82.6L170.2 83.1M167.8 82.8L170.2 83.1L168.7 81.2M184.7 79.6L185.8 80.0L187.0 80.3L188.1 80.6L189.3 81.0L190.5 81.2L191.6 81.5L192.8 81.8L194.0 82.0M191.4 82.5L194.0 82.0L191.8 80.5M206.6 80.7L207.9 80.8L209.3 80.9L210.7 80.9L212.1 81.0L213.5 81.0L214.9 81.0L216.3 81.0L217.6 80.9M214.8 82.2L217.6 80.9L214.8 79.8M229.0 81.9L230.5 81.7L232.0 81.5L233.4 81.2L234.9 81.0L236.4 80.7L237.8 80.4L239.3 80.0L240.8 79.7M238.0 81.7L240.8 79.7L237.5 79.1M251.9 83.3L253.3 82.7L254.8 82.2L256.2 81.6L257.7 81.0L259.2 80.3L260.6 79.7L262.0 79.1L263.5 78.4M261.1 81.0L263.5 78.4L259.9 78.5M274.8 84.6L276.3 83.7L277.7 82.8L279.1 81.9L280.5 81.0L281.9 80.0L283.3 79.1L284.7 78.1L286.1 77.1M284.1 80.3L286.1 77.1L282.4 77.9M297.6 86.1L299.0 84.8L300.5 83.5L301.9 82.2L303.3 81.0L304.7 79.7L306.1 78.4L307.5 77.0L308.9 75.7M307.2 79.7L308.9 75.7L304.9 77.2M320.4 87.5L321.8 85.9L323.2 84.2L324.7 82.6L326.1 81.0L327.5 79.3L328.9 77.6L330.3 76.0L331.7 74.3M330.5 78.4L331.7 74.3L327.9 76.2M343.1 89.0L344.6 87.0L346.0 85.0L347.5 83.0L348.9 81.0L350.3 78.9L351.7 76.9L353.2 74.9L354.6 72.9M353.7 77.1L354.6 72.9L350.9 75.2M366.4 89.1L367.7 87.1L369.0 85.0L370.4 83.0L371.7 81.0L373.0 78.9L374.4 76.9L375.7 74.8L377.1 72.8M376.3 77.0L377.1 72.8L373.5 75.2M389.7 88.9L390.9 86.9L392.1 84.9L393.3 82.9L394.5 81.0L395.7 79.0L396.9 77.0L398.2 75.0L399.4 73.0M398.8 77.2L399.4 73.0L395.9 75.5M412.9 88.8L414.0 86.8L415.1 84.9L416.2 82.9L417.3 81.0L418.4 79.0L419.5 77.1L420.6 75.1L421.7 73.2M421.2 77.4L421.7 73.2L418.3 75.8M437.5 88.6L438.1 86.7L438.8 84.8L439.4 82.9L440.1 81.0L440.8 79.0L441.4 77.1L442.1 75.2L442.7 73.2M443.0 77.5L442.7 73.2L439.9 76.5M462.3 88.4L462.5 86.5L462.6 84.7L462.7 82.8L462.9 81.0L463.1 79.1L463.2 77.2L463.4 75.4L463.6 73.5M464.8 77.5L463.6 73.5L461.6 77.2M487.0 87.9L486.6 86.2L486.3 84.4L486.0 82.7L485.7 81.0L485.4 79.2L485.1 77.5L484.8 75.7L484.5 74.0M486.6 77.3L484.5 74.0L483.6 77.8M508.8 88.0L508.7 86.2L508.7 84.5L508.6 82.7L508.5 81.0L508.4 79.2L508.3 77.4L508.2 75.7L508.1 73.9M509.9 77.5L508.1 73.9L506.8 77.6M530.7 88.0L530.8 86.2L531.0 84.5L531.2 82.7L531.3 81.0L531.4 79.2L531.6 77.4L531.7 75.7L531.8 73.9M533.1 77.6L531.8 73.9L530.0 77.4M552.5 87.9L552.9 86.2L553.3 84.4L553.7 82.7L554.1 81.0L554.5 79.2L554.9 77.5L555.2 75.7L555.6 74.0M556.4 77.9L555.6 74.0L553.3 77.3M574.0 87.3L574.7 85.7L575.4 84.1L576.2 82.5L576.9 81.0L577.6 79.4L578.4 77.8L579.1 76.2L579.8 74.6M579.7 78.5L579.8 74.6L576.9 77.2M595.5 86.6L596.5 85.2L597.6 83.8L598.6 82.4L599.7 81.0L600.8 79.5L601.8 78.1L602.9 76.7L604.0 75.4M603.0 79.2L604.0 75.4L600.6 77.3M617.3 85.9L618.6 84.6L619.9 83.4L621.2 82.2L622.5 81.0L623.8 79.7L625.1 78.5L626.4 77.2L627.6 76.0M626.1 79.7L627.6 76.0L623.9 77.4M640.3 85.6L641.6 84.4L642.8 83.3L644.1 82.1L645.3 81.0L646.5 79.8L647.8 78.6L649.0 77.5L650.3 76.3M648.7 79.8L650.3 76.3L646.7 77.6M663.3 85.3L664.5 84.2L665.7 83.1L666.9 82.0L668.1 81.0L669.3 79.9L670.5 78.8L671.7 77.7L672.9 76.7M671.4 79.9L672.9 76.7L669.5 77.8M151.6 98.2L152.5 98.7L153.5 99.3L154.4 99.8L155.3 100.3L156.2 100.9L157.2 101.4L158.1 101.9L159.1 102.4M156.7 102.2L159.1 102.4L157.5 100.5M173.7 99.3L174.8 99.6L175.9 99.8L177.0 100.1L178.1 100.3L179.2 100.6L180.3 100.8L181.4 101.0L182.5 101.1M180.1 101.8L182.5 101.1L180.4 99.8M196.0 100.6L197.2 100.6L198.5 100.5L199.7 100.4L200.9 100.3L202.1 100.3L203.3 100.1L204.6 100.0L205.8 99.9M203.4 101.2L205.8 99.9L203.1 99.1M218.4 101.9L219.7 101.5L221.1 101.2L222.4 100.8L223.7 100.3L225.0 99.9L226.3 99.5L227.6 99.1L228.9 98.6M226.6 100.7L228.9 98.6L225.9 98.4M240.7 103.4L242.2 102.7L243.6 101.9L245.1 101.1L246.5 100.3L247.9 99.6L249.4 98.8L250.8 98.0L252.2 97.2M250.0 100.1L252.2 97.2L248.6 97.6M263.1 104.8L264.7 103.7L266.2 102.6L267.8 101.5L269.3 100.3L270.8 99.2L272.4 98.1L273.9 97.0L275.5 95.9M273.3 99.5L275.5 95.9L271.3 96.8M285.6 106.0L287.2 104.6L288.9 103.2L290.5 101.8L292.1 100.3L293.7 98.9L295.3 97.5L296.9 96.0L298.5 94.5M296.7 98.5L298.5 94.5L294.4 96.0M308.7 107.2L310.2 105.5L311.8 103.8L313.4 102.1L314.9 100.3L316.4 98.6L318.0 96.9L319.5 95.2L321.0 93.4M319.7 97.5L321.0 93.4L317.1 95.3M331.8 108.3L333.3 106.3L334.8 104.3L336.2 102.3L337.7 100.3L339.2 98.4L340.6 96.4L342.1 94.3L343.5 92.3M342.6 96.5L343.5 92.3L339.8 94.6M355.1 108.9L356.4 106.8L357.8 104.6L359.1 102.5L360.5 100.3L361.9 98.2L363.2 96.1L364.6 93.9L366.0 91.8M365.2 96.0L366.0 91.8L362.4 94.2M378.5 108.6L379.7 106.5L380.9 104.5L382.1 102.4L383.3 100.3L384.5 98.3L385.7 96.2L386.9 94.2L388.2 92.1M387.6 96.4L388.2 92.1L384.7 94.7M401.9 108.3L403.0 106.3L404.0 104.3L405.1 102.3L406.1 100.3L407.2 98.4L408.2 96.4L409.3 94.4L410.3 92.5M409.9 96.7L410.3 92.5L407.0 95.1M425.8 108.1L426.6 106.1L427.4 104.2L428.1 102.3L428.9 100.3L429.7 98.4L430.4 96.5L431.2 94.5L432.0 92.6M432.1 96.9L432.0 92.6L429.0 95.7M450.5 108.0L450.8 106.1L451.1 104.2L451.4 102.3L451.7 100.3L452.0 98.4L452.3 96.5L452.6 94.6L452.9 92.7M454.0 96.9L452.9 92.7L450.6 96.3M475.3 107.8L475.1 105.9L474.9 104.1L474.7 102.2L474.5 100.3L474.3 98.5L474.2 96.6L474.0 94.8L473.9 92.9M475.8 96.6L473.9 92.9L472.6 96.9M498.2 107.7L498.0 105.8L497.7 104.0L497.5 102.2L497.3 100.3L497.1 98.5L496.8 96.7L496.6 94.9L496.4 93.0M498.5 96.6L496.4 93.0L495.3 97.0M519.8 107.8L519.9 105.9L519.9 104.1L520.0 102.2L520.1 100.3L520.2 98.5L520.2 96.6L520.3 94.8L520.4 92.9M521.9 96.8L520.4 92.9L518.6 96.7M541.4 107.8L541.8 106.0L542.1 104.1L542.5 102.2L542.9 100.3L543.3 98.5L543.6 96.6L544.0 94.7L544.4 92.9M545.3 97.0L544.4 92.9L542.0 96.4M562.8 107.5L563.5 105.7L564.3 103.9L565.0 102.1L565.7 100.3L566.4 98.6L567.2 96.8L567.9 95.0L568.6 93.3M568.7 97.6L568.6 93.3L565.6 96.3M584.1 106.8L585.2 105.2L586.3 103.5L587.4 101.9L588.5 100.3L589.6 98.8L590.7 97.2L591.9 95.6L593.0 94.0M592.0 98.2L593.0 94.0L589.3 96.3M605.6 105.9L607.0 104.5L608.4 103.1L609.8 101.7L611.3 100.3L612.8 99.0L614.2 97.6L615.7 96.3L617.2 95.0M615.4 98.9L617.2 95.0L613.1 96.3M628.2 105.5L629.7 104.2L631.2 102.9L632.6 101.6L634.1 100.3L635.6 99.1L637.0 97.7L638.5 96.4L639.9 95.1M638.1 99.0L639.9 95.1L635.9 96.5M651.4 105.4L652.8 104.2L654.2 102.9L655.5 101.6L656.9 100.3L658.3 99.1L659.6 97.8L661.0 96.5L662.4 95.3M660.7 99.1L662.4 95.3L658.4 96.7M674.6 105.4L675.9 104.1L677.2 102.9L678.4 101.6L679.7 100.3L681.0 99.1L682.3 97.9L683.5 96.6L684.8 95.4M683.3 99.1L684.8 95.4L681.1 96.8M162.1 118.7L163.2 119.0L164.3 119.3L165.4 119.5L166.5 119.8L167.6 120.0L168.7 120.1L169.9 120.3L171.0 120.5M168.5 121.1L171.0 120.5L168.8 119.2M184.7 120.2L185.9 120.2L187.0 120.0L188.2 119.9L189.3 119.8L190.4 119.6L191.6 119.4L192.7 119.2L193.9 119.0M191.7 120.4L193.9 119.0L191.3 118.4M207.6 121.8L208.7 121.3L209.9 120.8L211.0 120.3L212.1 119.8L213.2 119.2L214.3 118.7L215.4 118.1L216.5 117.6M214.7 119.7L216.5 117.6L213.8 117.7M229.9 123.4L231.2 122.5L232.4 121.5L233.7 120.6L234.9 119.8L236.2 118.9L237.4 118.0L238.7 117.1L239.9 116.2M238.1 119.1L239.9 116.2L236.6 116.9M251.7 124.8L253.2 123.6L254.7 122.3L256.2 121.0L257.7 119.8L259.2 118.5L260.7 117.2L262.3 116.0L263.8 114.8M261.8 118.6L263.8 114.8L259.7 115.9M273.4 126.3L275.2 124.6L276.9 123.0L278.7 121.4L280.5 119.8L282.3 118.1L284.1 116.5L285.9 114.9L287.6 113.3M285.8 117.2L287.6 113.3L283.6 114.7M296.2 127.1L298.0 125.3L299.8 123.5L301.5 121.6L303.3 119.8L305.0 117.9L306.8 116.0L308.5 114.1L310.2 112.2M308.8 116.3L310.2 112.2L306.3 114.0M319.7 127.9L321.3 125.9L322.9 123.8L324.5 121.8L326.1 119.8L327.7 117.7L329.3 115.6L330.8 113.6L332.4 111.5M331.4 115.6L332.4 111.5L328.7 113.6M343.1 128.7L344.6 126.4L346.0 124.2L347.5 122.0L348.9 119.8L350.3 117.5L351.7 115.3L353.1 113.0L354.6 110.8M353.9 115.0L354.6 110.8L351.0 113.2M366.8 128.4L368.0 126.3L369.2 124.1L370.5 121.9L371.7 119.8L372.9 117.6L374.2 115.4L375.4 113.3L376.7 111.1M376.2 115.4L376.7 111.1L373.2 113.7M390.4 127.9L391.4 125.9L392.4 123.8L393.5 121.8L394.5 119.8L395.5 117.7L396.6 115.7L397.6 113.6L398.7 111.6M398.4 115.9L398.7 111.6L395.4 114.3M413.9 127.4L414.8 125.5L415.6 123.6L416.5 121.7L417.3 119.8L418.2 117.8L419.0 115.9L419.9 114.0L420.7 112.1M420.6 116.4L420.7 112.1L417.6 115.0M438.4 127.5L438.8 125.6L439.2 123.6L439.7 121.7L440.1 119.8L440.5 117.8L441.0 115.9L441.4 113.9L441.9 112.0M442.6 116.2L441.9 112.0L439.3 115.5M463.0 127.4L463.0 125.5L463.0 123.6L462.9 121.7L462.9 119.8L462.9 117.8L462.9 115.9L462.9 114.0L462.9 112.1M464.6 116.0L462.9 112.1L461.2 116.0M487.4 127.2L487.0 125.3L486.6 123.5L486.1 121.6L485.7 119.8L485.3 117.9L484.8 116.0L484.4 114.2L484.0 112.3M486.5 115.8L484.0 112.3L483.2 116.5M508.8 127.5L508.7 125.6L508.6 123.6L508.6 121.7L508.5 119.8L508.4 117.8L508.4 115.9L508.3 113.9L508.2 112.0M510.0 115.9L508.2 112.0L506.7 116.0M530.1 127.7L530.4 125.7L530.7 123.7L531.0 121.7L531.3 119.8L531.6 117.8L531.9 115.8L532.2 113.8L532.5 111.8M533.6 116.0L532.5 111.8L530.2 115.5M551.4 127.6L552.1 125.7L552.8 123.7L553.4 121.7L554.1 119.8L554.8 117.8L555.4 115.8L556.1 113.9L556.8 111.9M557.1 116.2L556.8 111.9L553.9 115.1M572.6 126.9L573.7 125.1L574.7 123.3L575.8 121.5L576.9 119.8L578.0 118.0L579.1 116.2L580.2 114.4L581.4 112.7M580.6 116.9L581.4 112.7L577.8 115.1M593.8 126.1L595.3 124.5L596.7 122.9L598.2 121.3L599.7 119.8L601.2 118.2L602.7 116.7L604.3 115.1L605.8 113.6M604.1 117.6L605.8 113.6L601.8 115.2M615.5 125.2L617.2 123.8L619.0 122.5L620.8 121.1L622.5 119.8L624.2 118.4L626.0 117.0L627.7 115.6L629.4 114.1M627.4 118.0L629.4 114.1L625.3 115.4M638.9 125.3L640.5 124.0L642.1 122.6L643.7 121.2L645.3 119.8L646.9 118.3L648.5 116.9L650.1 115.5L651.6 114.0M649.8 117.9L651.6 114.0L647.6 115.5M662.3 125.5L663.7 124.1L665.2 122.6L666.7 121.2L668.1 119.8L669.5 118.3L671.0 116.8L672.4 115.4L673.9 113.9M672.3 117.9L673.9 113.9L669.9 115.6M150.5 138.2L151.7 138.4L152.9 138.7L154.1 138.9L155.3 139.2L156.5 139.4L157.7 139.6L159.0 139.8L160.2 139.9M157.5 140.7L160.2 139.9L157.8 138.5M173.5 139.7L174.6 139.6L175.8 139.5L176.9 139.3L178.1 139.2L179.3 139.0L180.4 138.8L181.5 138.5L182.7 138.3M180.6 139.8L182.7 138.3L180.1 137.8M196.8 141.5L197.8 140.9L198.9 140.3L199.9 139.7L200.9 139.2L201.9 138.5L202.9 137.9L203.9 137.3L204.9 136.7M203.4 138.8L204.9 136.7L202.3 137.1M220.2 143.1L221.1 142.1L221.9 141.1L222.8 140.1L223.7 139.2L224.6 138.2L225.5 137.2L226.4 136.3L227.4 135.4M226.3 138.1L227.4 135.4L224.6 136.5M241.3 144.7L242.6 143.3L243.9 141.9L245.2 140.5L246.5 139.2L247.8 137.8L249.2 136.4L250.5 135.1L251.9 133.8M250.2 137.7L251.9 133.8L247.9 135.3M262.4 146.3L264.1 144.5L265.8 142.7L267.6 140.9L269.3 139.2L271.1 137.4L272.8 135.6L274.6 133.9L276.4 132.2M274.7 136.1L276.4 132.2L272.4 133.7M284.0 147.5L286.0 145.4L288.0 143.3L290.1 141.2L292.1 139.2L294.1 137.0L296.2 134.9L298.2 132.8L300.2 130.7M298.7 134.7L300.2 130.7L296.2 132.4M307.7 147.9L309.5 145.7L311.3 143.5L313.1 141.4L314.9 139.2L316.7 136.9L318.5 134.7L320.2 132.5L322.0 130.3M320.9 134.4L322.0 130.3L318.2 132.3M331.5 148.3L333.0 146.0L334.6 143.8L336.1 141.5L337.7 139.2L339.2 136.8L340.8 134.5L342.3 132.2L343.8 129.9M343.1 134.1L343.8 129.9L340.2 132.3M355.3 148.4L356.6 146.1L357.9 143.8L359.2 141.5L360.5 139.2L361.8 136.8L363.1 134.5L364.4 132.2L365.7 129.9M365.2 134.2L365.7 129.9L362.3 132.5M379.1 147.8L380.1 145.6L381.2 143.5L382.2 141.3L383.3 139.2L384.4 137.0L385.4 134.9L386.5 132.7L387.6 130.6M387.3 134.9L387.6 130.6L384.3 133.3M402.8 147.1L403.6 145.1L404.4 143.1L405.3 141.1L406.1 139.2L406.9 137.2L407.8 135.2L408.6 133.2L409.5 131.2M409.5 135.5L409.5 131.2L406.4 134.2M426.8 146.8L427.3 144.9L427.8 143.0L428.4 141.1L428.9 139.2L429.4 137.2L430.0 135.3L430.5 133.4L431.0 131.5M431.6 135.8L431.0 131.5L428.3 134.9M451.3 147.0L451.4 145.0L451.5 143.1L451.6 141.1L451.7 139.2L451.8 137.2L451.9 135.3L452.1 133.3L452.2 131.4M453.6 135.4L452.2 131.4L450.2 135.2M475.9 146.9L475.5 145.0L475.2 143.0L474.8 141.1L474.5 139.2L474.2 137.2L473.9 135.3L473.6 133.3L473.3 131.4M475.5 135.1L473.3 131.4L472.2 135.5M498.4 147.1L498.1 145.1L497.8 143.1L497.6 141.1L497.3 139.2L497.0 137.2L496.7 135.2L496.4 133.2L496.2 131.2M498.4 134.9L496.2 131.2L495.1 135.4M519.5 147.4L519.6 145.3L519.8 143.3L519.9 141.2L520.1 139.2L520.3 137.1L520.4 135.0L520.6 133.0L520.7 130.9M522.1 135.0L520.7 130.9L518.8 134.7M540.6 147.6L541.1 145.4L541.7 143.3L542.3 141.2L542.9 139.2L543.5 137.1L544.1 135.0L544.7 132.9L545.3 130.8M545.8 135.0L545.3 130.8L542.6 134.1M561.6 147.1L562.6 145.1L563.6 143.1L564.7 141.1L565.7 139.2L566.8 137.2L567.8 135.2L568.9 133.2L570.0 131.3M569.5 135.5L570.0 131.3L566.6 133.9M582.6 146.3L584.1 144.5L585.5 142.7L587.0 140.9L588.5 139.2L590.0 137.4L591.5 135.7L593.1 134.0L594.7 132.3M593.2 136.3L594.7 132.3L590.7 134.0M603.8 145.3L605.6 143.7L607.5 142.2L609.4 140.7L611.3 139.2L613.2 137.7L615.2 136.2L617.1 134.8L619.1 133.3M616.9 137.0L619.1 133.3L614.9 134.3M626.5 145.0L628.4 143.6L630.3 142.1L632.2 140.6L634.1 139.2L636.0 137.6L637.8 136.1L639.7 134.6L641.5 133.0M639.5 136.9L641.5 133.0L637.4 134.3M650.1 145.4L651.8 143.9L653.5 142.3L655.2 140.7L656.9 139.2L658.6 137.6L660.2 135.9L661.9 134.3L663.5 132.7M661.9 136.7L663.5 132.7L659.5 134.3M673.8 145.8L675.3 144.2L676.8 142.5L678.2 140.8L679.7 139.2L681.2 137.5L682.6 135.8L684.1 134.1L685.5 132.4M684.2 136.5L685.5 132.4L681.7 134.3M161.7 159.0L162.9 158.9L164.1 158.8L165.3 158.7L166.5 158.6L167.7 158.4L168.9 158.2L170.0 158.0L171.2 157.7M169.0 159.2L171.2 157.7L168.6 157.2M184.9 161.0L186.0 160.4L187.1 159.8L188.2 159.2L189.3 158.6L190.4 157.9L191.4 157.2L192.5 156.6L193.6 155.9M192.0 158.2L193.6 155.9L190.8 156.4M208.4 162.8L209.4 161.7L210.3 160.7L211.2 159.6L212.1 158.6L213.0 157.5L213.9 156.4L214.8 155.3L215.7 154.3M214.8 157.3L215.7 154.3L212.9 155.7M230.8 164.3L231.8 162.8L232.8 161.4L233.9 160.0L234.9 158.6L236.0 157.1L237.0 155.7L238.1 154.3L239.2 153.0M238.2 156.8L239.2 153.0L235.7 154.9M252.2 165.7L253.6 163.9L254.9 162.1L256.3 160.3L257.7 158.6L259.1 156.8L260.6 155.1L262.0 153.3L263.5 151.6M262.2 155.7L263.5 151.6L259.6 153.5M273.7 167.1L275.3 165.0L277.0 162.8L278.7 160.7L280.5 158.6L282.3 156.5L284.1 154.4L285.9 152.3L287.8 150.3M286.3 154.4L287.8 150.3L283.9 152.1M296.5 167.6L298.2 165.3L299.9 163.1L301.6 160.8L303.3 158.6L305.0 156.3L306.8 154.1L308.5 151.8L310.3 149.6M309.1 153.8L310.3 149.6L306.5 151.7M320.1 167.8L321.6 165.5L323.1 163.2L324.6 160.9L326.1 158.6L327.6 156.2L329.1 153.9L330.7 151.6L332.2 149.3M331.4 153.6L332.2 149.3L328.6 151.7M343.7 168.0L345.0 165.6L346.3 163.3L347.6 160.9L348.9 158.6L350.2 156.2L351.5 153.8L352.8 151.5L354.1 149.1M353.7 153.4L354.1 149.1L350.7 151.8M367.6 167.5L368.6 165.3L369.6 163.0L370.7 160.8L371.7 158.6L372.7 156.3L373.8 154.1L374.9 151.9L375.9 149.7M375.7 154.0L375.9 149.7L372.7 152.5M391.5 166.8L392.2 164.7L393.0 162.7L393.7 160.6L394.5 158.6L395.3 156.5L396.1 154.4L396.9 152.4L397.7 150.4M397.8 154.7L397.7 150.4L394.7 153.4M415.4 166.1L415.9 164.2L416.3 162.3L416.8 160.4L417.3 158.6L417.8 156.7L418.3 154.8L418.9 152.9L419.4 151.1M419.9 155.4L419.4 151.1L416.7 154.4M439.5 166.1L439.7 164.2L439.8 162.3L439.9 160.4L440.1 158.6L440.3 156.7L440.5 154.8L440.7 152.9L440.9 151.0M442.1 155.1L440.9 151.0L438.8 154.7M463.7 166.1L463.5 164.2L463.3 162.3L463.1 160.4L462.9 158.6L462.7 156.7L462.6 154.8L462.4 152.9L462.3 151.0M464.2 154.7L462.3 151.0L460.9 155.0M487.6 166.1L487.1 164.2L486.7 162.3L486.2 160.4L485.7 158.6L485.2 156.7L484.7 154.8L484.2 152.9L483.7 151.1M486.3 154.5L483.7 151.1L483.1 155.3M508.9 166.4L508.8 164.4L508.7 162.5L508.6 160.5L508.5 158.6L508.4 156.6L508.3 154.6L508.2 152.7L508.2 150.7M510.0 154.6L508.2 150.7L506.6 154.7M530.1 166.6L530.4 164.6L530.7 162.6L531.0 160.6L531.3 158.6L531.6 156.5L532.0 154.5L532.3 152.5L532.7 150.5M533.6 154.7L532.7 150.5L530.3 154.1M551.4 166.6L552.1 164.6L552.7 162.5L553.4 160.5L554.1 158.6L554.8 156.6L555.6 154.6L556.4 152.6L557.2 150.7M557.2 155.0L557.2 150.7L554.1 153.7M572.3 165.5L573.4 163.8L574.6 162.0L575.7 160.3L576.9 158.6L578.1 156.8L579.3 155.2L580.6 153.5L581.9 151.8M580.8 156.0L581.9 151.8L578.1 153.9M593.3 164.2L594.9 162.8L596.5 161.3L598.1 159.9L599.7 158.6L601.3 157.2L603.0 155.8L604.7 154.5L606.4 153.2M604.3 157.0L606.4 153.2L602.2 154.3M614.9 162.8L616.8 161.8L618.7 160.7L620.6 159.7L622.5 158.6L624.4 157.4L626.2 156.2L628.0 155.1L629.8 153.8M627.5 157.4L629.8 153.8L625.6 154.7M638.8 163.3L640.5 162.2L642.1 161.0L643.7 159.8L645.3 158.6L646.9 157.3L648.4 156.0L650.0 154.7L651.5 153.4M649.6 157.3L651.5 153.4L647.4 154.7M662.8 163.9L664.2 162.6L665.5 161.3L666.8 159.9L668.1 158.6L669.4 157.2L670.7 155.8L671.9 154.4L673.2 153.0M671.8 157.0L673.2 153.0L669.4 154.8M150.7 178.4L151.8 178.3L153.0 178.2L154.1 178.1L155.3 178.0L156.5 177.8L157.6 177.7L158.8 177.5L159.9 177.3M157.7 178.7L159.9 177.3L157.4 176.7M173.6 180.4L174.7 179.8L175.9 179.2L177.0 178.6L178.1 178.0L179.2 177.3L180.3 176.6L181.4 176.0L182.5 175.3M180.9 177.7L182.5 175.3L179.7 175.8M196.9 182.4L197.9 181.3L198.9 180.2L199.9 179.1L200.9 178.0L201.9 176.8L202.9 175.7L203.8 174.6L204.8 173.4M203.8 176.6L204.8 173.4L201.8 174.9M220.2 184.1L221.1 182.5L221.9 181.0L222.8 179.5L223.7 178.0L224.6 176.4L225.5 174.9L226.4 173.4L227.3 171.9M226.7 175.8L227.3 171.9L224.1 174.2M242.1 185.2L243.2 183.4L244.3 181.6L245.4 179.8L246.5 178.0L247.6 176.2L248.8 174.4L250.0 172.6L251.2 170.8M250.3 175.1L251.2 170.8L247.6 173.2M264.0 186.4L265.3 184.3L266.6 182.1L267.9 180.0L269.3 178.0L270.7 175.9L272.1 173.8L273.5 171.8L275.0 169.8M274.0 174.0L275.0 169.8L271.3 172.0M286.2 187.3L287.6 184.9L289.1 182.6L290.6 180.3L292.1 178.0L293.6 175.7L295.2 173.4L296.8 171.1L298.4 168.9M297.5 173.1L298.4 168.9L294.7 171.1M309.5 187.3L310.8 185.0L312.2 182.6L313.5 180.3L314.9 178.0L316.3 175.6L317.7 173.3L319.1 171.0L320.5 168.7M319.9 173.0L320.5 168.7L317.0 171.2M332.8 187.4L334.0 185.0L335.2 182.6L336.5 180.3L337.7 178.0L338.9 175.6L340.2 173.3L341.4 171.0L342.7 168.6M342.3 172.9L342.7 168.6L339.3 171.3M356.4 187.1L357.4 184.8L358.4 182.5L359.5 180.2L360.5 178.0L361.5 175.7L362.6 173.4L363.6 171.1L364.7 168.8M364.6 173.1L364.7 168.8L361.5 171.7M380.5 186.5L381.2 184.3L381.9 182.2L382.6 180.1L383.3 178.0L384.0 175.8L384.8 173.7L385.5 171.6L386.3 169.5M386.5 173.8L386.3 169.5L383.4 172.6M404.6 185.7L404.9 183.8L405.3 181.8L405.7 179.9L406.1 178.0L406.5 176.0L407.0 174.1L407.4 172.1L407.9 170.2M408.6 174.5L407.9 170.2L405.3 173.7M428.6 185.3L428.6 183.5L428.7 181.6L428.8 179.8L428.9 178.0L429.0 176.1L429.2 174.3L429.4 172.5L429.5 170.6M430.8 174.6L429.5 170.6L427.6 174.2M452.3 185.3L452.1 183.4L452.0 181.6L451.8 179.8L451.7 178.0L451.6 176.1L451.5 174.3L451.4 172.5L451.3 170.6M453.1 174.3L451.3 170.6L449.9 174.5M476.0 185.2L475.6 183.4L475.3 181.6L474.9 179.8L474.5 178.0L474.1 176.1L473.8 174.3L473.4 172.5L473.1 170.7M475.4 174.1L473.1 170.7L472.2 174.7M498.5 185.3L498.2 183.5L497.9 181.6L497.6 179.8L497.3 178.0L497.0 176.1L496.7 174.3L496.4 172.4L496.1 170.6M498.3 174.1L496.1 170.6L495.1 174.7M520.0 185.5L520.0 183.6L520.0 181.7L520.1 179.8L520.1 178.0L520.2 176.1L520.2 174.2L520.3 172.3L520.4 170.4M521.9 174.4L520.4 170.4L518.5 174.2M541.4 185.6L541.8 183.7L542.1 181.8L542.5 179.9L542.9 178.0L543.3 176.0L543.7 174.1L544.2 172.2L544.6 170.4M545.3 174.6L544.6 170.4L542.1 173.8M562.6 184.8L563.3 183.1L564.1 181.4L564.9 179.7L565.7 178.0L566.5 176.3L567.4 174.6L568.3 172.9L569.2 171.3M568.8 175.5L569.2 171.3L565.9 173.9M583.4 183.3L584.7 181.9L585.9 180.6L587.2 179.2L588.5 178.0L589.8 176.7L591.2 175.4L592.5 174.2L593.9 173.0M592.1 176.7L593.9 173.0L590.0 174.3M604.6 181.4L606.2 180.5L607.9 179.6L609.6 178.8L611.3 178.0L613.0 177.2L614.7 176.4L616.5 175.7L618.2 175.0M615.2 178.0L618.2 175.0L614.0 174.9M627.9 180.9L629.5 180.2L631.0 179.5L632.6 178.7L634.1 178.0L635.6 177.1L637.1 176.3L638.6 175.5L640.1 174.6M637.8 177.7L640.1 174.6L636.3 175.1M652.2 181.6L653.4 180.7L654.6 179.8L655.7 178.9L656.9 178.0L658.0 177.0L659.2 176.0L660.3 175.0L661.4 174.0M660.0 177.1L661.4 174.0L658.2 175.1M676.7 182.2L677.5 181.1L678.2 180.1L679.0 179.0L679.7 178.0L680.4 176.9L681.2 175.8L681.9 174.7L682.6 173.7M682.1 176.5L682.6 173.7L680.2 175.2M162.0 199.5L163.2 199.0L164.3 198.5L165.4 197.9L166.5 197.4L167.6 196.8L168.7 196.2L169.8 195.6L170.8 194.9M169.2 197.2L170.8 194.9L168.1 195.3M185.1 201.7L186.2 200.6L187.2 199.6L188.3 198.5L189.3 197.4L190.3 196.2L191.3 195.1L192.4 194.0L193.4 192.9M192.3 196.1L193.4 192.9L190.3 194.3M208.4 203.7L209.3 202.1L210.2 200.5L211.2 198.9L212.1 197.4L213.0 195.8L213.9 194.2L214.9 192.6L215.8 191.0M215.3 195.1L215.8 191.0L212.5 193.5M231.2 205.0L232.1 203.1L233.0 201.2L233.9 199.3L234.9 197.4L235.9 195.5L236.8 193.6L237.8 191.7L238.9 189.8M238.5 194.1L238.9 189.8L235.5 192.5M253.5 205.8L254.5 203.7L255.6 201.6L256.6 199.5L257.7 197.4L258.8 195.3L259.9 193.2L261.1 191.1L262.2 189.0M261.7 193.3L262.2 189.0L258.8 191.7M275.9 206.7L277.0 204.3L278.1 202.0L279.3 199.7L280.5 197.4L281.7 195.1L283.0 192.8L284.3 190.5L285.6 188.3M285.0 192.5L285.6 188.3L282.1 190.8M298.8 206.9L299.9 204.5L301.0 202.1L302.1 199.7L303.3 197.4L304.5 195.0L305.7 192.7L307.0 190.3L308.2 188.0M307.8 192.3L308.2 188.0L304.9 190.7M321.8 206.8L322.9 204.4L323.9 202.1L325.0 199.7L326.1 197.4L327.2 195.0L328.3 192.7L329.5 190.4L330.7 188.0M330.4 192.3L330.7 188.0L327.4 190.8M344.9 206.7L345.9 204.4L346.9 202.0L347.9 199.7L348.9 197.4L349.9 195.0L351.0 192.7L352.0 190.4L353.1 188.1M353.0 192.4L353.1 188.1L349.9 191.0M368.9 206.1L369.6 203.9L370.3 201.7L371.0 199.5L371.7 197.4L372.4 195.2L373.2 193.0L373.9 190.8L374.7 188.6M375.0 192.9L374.7 188.6L371.8 191.8M393.1 205.4L393.5 203.4L393.8 201.4L394.1 199.4L394.5 197.4L394.9 195.3L395.3 193.3L395.7 191.3L396.1 189.4M396.9 193.6L396.1 189.4L393.6 192.9M417.4 204.5L417.4 202.7L417.3 200.9L417.3 199.1L417.3 197.4L417.3 195.6L417.4 193.8L417.4 192.0L417.5 190.2M418.9 193.9L417.5 190.2L415.8 193.8M440.9 204.4L440.7 202.6L440.5 200.9L440.3 199.1L440.1 197.4L439.9 195.6L439.8 193.8L439.7 192.0L439.6 190.3M441.4 193.8L439.6 190.3L438.2 194.0M464.2 204.3L463.9 202.6L463.6 200.8L463.2 199.1L462.9 197.4L462.6 195.6L462.3 193.8L462.0 192.1L461.7 190.3M463.8 193.7L461.7 190.3L460.8 194.2M487.5 204.3L487.0 202.5L486.6 200.8L486.2 199.1L485.7 197.4L485.2 195.6L484.8 193.9L484.3 192.2L483.9 190.4M486.3 193.6L483.9 190.4L483.3 194.4M509.2 204.4L509.0 202.7L508.8 200.9L508.7 199.1L508.5 197.4L508.3 195.6L508.2 193.8L508.0 192.0L507.9 190.3M509.7 193.8L507.9 190.3L506.6 194.1M530.9 204.5L531.0 202.7L531.1 200.9L531.2 199.1L531.3 197.4L531.4 195.6L531.6 193.8L531.7 192.0L531.9 190.2M533.1 194.0L531.9 190.2L530.0 193.7M552.5 204.3L552.9 202.6L553.3 200.8L553.7 199.1L554.1 197.4L554.6 195.6L555.0 193.9L555.5 192.2L556.0 190.4M556.5 194.4L556.0 190.4L553.5 193.5M573.3 202.7L574.2 201.3L575.1 200.0L576.0 198.7L576.9 197.4L577.9 196.1L578.8 194.8L579.8 193.5L580.9 192.3M579.8 195.7L580.9 192.3L577.7 193.9M594.2 200.4L595.6 199.6L596.9 198.8L598.3 198.1L599.7 197.4L601.1 196.7L602.5 196.0L604.0 195.4L605.4 194.8M602.9 197.3L605.4 194.8L601.9 194.7M616.4 198.3L617.9 198.1L619.5 197.9L621.0 197.6L622.5 197.4L624.0 197.1L625.5 196.7L627.0 196.4L628.5 196.1M625.8 198.1L628.5 196.1L625.1 195.5M640.9 199.0L642.0 198.7L643.1 198.2L644.2 197.8L645.3 197.4L646.4 196.9L647.5 196.4L648.5 195.8L649.6 195.3M647.9 197.4L649.6 195.3L646.9 195.5M665.6 199.9L666.3 199.3L666.9 198.6L667.5 198.0L668.1 197.4L668.7 196.7L669.3 196.0L669.9 195.3L670.4 194.7M669.9 196.6L670.4 194.7L668.7 195.6M151.0 218.4L152.1 218.0L153.2 217.6L154.2 217.2L155.3 216.8L156.4 216.3L157.4 215.9L158.5 215.4L159.5 214.9M157.8 216.8L159.5 214.9L156.9 215.0M173.8 220.5L174.9 219.6L176.0 218.7L177.1 217.7L178.1 216.8L179.1 215.8L180.2 214.8L181.2 213.8L182.2 212.7M181.0 215.7L182.2 212.7L179.2 214.0M197.0 222.7L198.0 221.2L199.0 219.7L199.9 218.3L200.9 216.8L201.9 215.2L202.8 213.7L203.7 212.2L204.7 210.7M204.1 214.6L204.7 210.7L201.4 213.0M220.2 224.6L221.1 222.6L221.9 220.7L222.8 218.7L223.7 216.8L224.6 214.8L225.5 212.9L226.4 210.9L227.3 209.0M227.1 213.3L227.3 209.0L224.1 211.8M242.8 225.1L243.7 223.0L244.6 220.9L245.6 218.8L246.5 216.8L247.4 214.7L248.4 212.6L249.3 210.5L250.3 208.4M250.2 212.7L250.3 208.4L247.1 211.3M265.4 225.6L266.4 223.4L267.3 221.2L268.3 219.0L269.3 216.8L270.3 214.5L271.3 212.3L272.3 210.1L273.3 207.9M273.2 212.2L273.3 207.9L270.1 210.8M288.1 226.0L289.1 223.7L290.1 221.4L291.1 219.1L292.1 216.8L293.1 214.4L294.1 212.1L295.1 209.8L296.2 207.5M296.1 211.8L296.2 207.5L293.0 210.4M311.1 225.9L312.0 223.6L313.0 221.3L313.9 219.0L314.9 216.8L315.9 214.5L316.8 212.2L317.8 209.9L318.8 207.6M318.8 211.9L318.8 207.6L315.7 210.6M334.1 225.8L335.0 223.6L335.9 221.3L336.8 219.0L337.7 216.8L338.6 214.5L339.5 212.2L340.5 210.0L341.4 207.7M341.4 212.0L341.4 207.7L338.3 210.7M357.4 225.6L358.2 223.4L359.0 221.2L359.7 219.0L360.5 216.8L361.3 214.5L362.0 212.3L362.8 210.1L363.5 207.9M363.8 212.2L363.5 207.9L360.7 211.1M381.8 224.9L382.1 222.9L382.5 220.8L382.9 218.8L383.3 216.8L383.7 214.7L384.1 212.7L384.5 210.6L384.9 208.6M385.8 212.8L384.9 208.6L382.5 212.1M406.1 224.2L406.1 222.3L406.1 220.5L406.1 218.6L406.1 216.8L406.1 214.9L406.2 213.0L406.2 211.2L406.2 209.3M407.8 213.2L406.2 209.3L404.5 213.1M429.9 223.7L429.6 222.0L429.4 220.2L429.1 218.5L428.9 216.8L428.7 215.0L428.4 213.3L428.2 211.5L428.0 209.8M430.0 213.2L428.0 209.8L426.9 213.6M453.1 223.7L452.7 221.9L452.4 220.2L452.0 218.5L451.7 216.8L451.4 215.0L451.0 213.3L450.7 211.6L450.4 209.8M452.6 213.1L450.4 209.8L449.5 213.7M476.3 223.6L475.8 221.9L475.4 220.2L474.9 218.5L474.5 216.8L474.1 215.0L473.6 213.3L473.2 211.6L472.8 209.9M475.2 213.1L472.8 209.9L472.1 213.8M498.8 223.6L498.4 221.9L498.0 220.2L497.7 218.5L497.3 216.8L496.9 215.0L496.6 213.3L496.2 211.6L495.9 209.8M498.1 213.1L495.9 209.8L495.1 213.7M520.8 223.7L520.6 221.9L520.4 220.2L520.2 218.5L520.1 216.8L520.0 215.0L519.9 213.3L519.8 211.5L519.7 209.8M521.4 213.3L519.7 209.8L518.3 213.5M542.8 223.7L542.8 221.9L542.8 220.2L542.8 218.5L542.9 216.8L543.0 215.0L543.1 213.3L543.3 211.6L543.5 209.8M544.6 213.6L543.5 209.8L541.6 213.2M564.3 222.7L564.6 221.2L564.9 219.7L565.3 218.2L565.7 216.8L566.2 215.3L566.7 213.8L567.2 212.4L567.8 210.9M567.8 214.4L567.8 210.9L565.3 213.4M585.1 220.9L585.9 219.8L586.7 218.8L587.6 217.7L588.5 216.8L589.4 215.8L590.4 214.9L591.5 214.0L592.5 213.2M591.0 215.8L592.5 213.2L589.6 214.0M606.3 218.2L607.5 217.8L608.8 217.4L610.0 217.0L611.3 216.8L612.6 216.5L613.9 216.3L615.2 216.1L616.5 216.0M613.9 217.4L616.5 216.0L613.7 215.1M629.9 217.6L631.0 217.4L632.0 217.2L633.1 217.0L634.1 216.8L635.1 216.5L636.2 216.3L637.2 216.0L638.3 215.7M636.4 217.2L638.3 215.7L635.9 215.4M654.4 218.4L655.0 218.0L655.7 217.6L656.3 217.2L656.9 216.8L657.5 216.3L658.1 215.9L658.7 215.4L659.4 215.0M658.3 216.7L659.4 215.0L657.4 215.5M679.2 218.9L679.3 218.3L679.5 217.8L679.6 217.3L679.7 216.8L679.8 216.2L679.9 215.7L680.0 215.2L680.1 214.6M680.6 216.6L680.1 214.6L679.0 216.3M162.1 238.9L163.2 238.3L164.3 237.6L165.4 236.9L166.5 236.2L167.6 235.4L168.6 234.6L169.7 233.9L170.7 233.1M169.3 235.6L170.7 233.1L167.9 233.8M185.3 241.2L186.3 239.9L187.3 238.7L188.3 237.4L189.3 236.2L190.3 234.9L191.2 233.6L192.2 232.3L193.2 231.0M192.3 234.5L193.2 231.0L190.1 232.8M208.6 243.2L209.5 241.5L210.3 239.7L211.2 237.9L212.1 236.2L213.0 234.4L213.8 232.6L214.7 230.8L215.5 229.0M215.3 233.3L215.5 229.0L212.3 231.9M231.5 244.2L232.4 242.2L233.2 240.2L234.1 238.2L234.9 236.2L235.8 234.1L236.6 232.2L237.5 230.2L238.3 228.2M238.3 232.5L238.3 228.2L235.2 231.1M254.2 244.5L255.1 242.4L255.9 240.3L256.8 238.2L257.7 236.2L258.6 234.1L259.5 232.0L260.4 229.9L261.3 227.9M261.2 232.2L261.3 227.9L258.2 230.8M276.8 244.7L277.7 242.6L278.7 240.4L279.6 238.3L280.5 236.2L281.4 234.0L282.3 231.9L283.3 229.7L284.2 227.6M284.2 231.9L284.2 227.6L281.1 230.5M299.8 244.8L300.6 242.6L301.5 240.5L302.4 238.3L303.3 236.2L304.2 234.0L305.1 231.9L306.0 229.7L306.9 227.6M306.9 231.9L306.9 227.6L303.8 230.6M322.8 244.7L323.6 242.5L324.4 240.4L325.3 238.3L326.1 236.2L326.9 234.0L327.8 231.9L328.6 229.8L329.4 227.7M329.5 232.0L329.4 227.7L326.4 230.7M345.9 244.6L346.6 242.5L347.4 240.4L348.1 238.3L348.9 236.2L349.7 234.0L350.4 231.9L351.2 229.8L352.0 227.7M352.2 232.0L352.0 227.7L349.1 230.9M369.8 244.2L370.3 242.2L370.8 240.2L371.2 238.2L371.7 236.2L372.2 234.1L372.6 232.1L373.1 230.1L373.6 228.1M374.3 232.3L373.6 228.1L371.0 231.6M394.1 243.7L394.2 241.8L394.3 239.9L394.4 238.0L394.5 236.2L394.6 234.3L394.7 232.4L394.9 230.5L395.0 228.6M396.4 232.6L395.0 228.6L393.1 232.4M418.4 243.1L418.1 241.4L417.8 239.6L417.6 237.9L417.3 236.2L417.1 234.4L416.8 232.7L416.6 230.9L416.4 229.2M418.3 232.6L416.4 229.2L415.3 233.0M441.6 243.1L441.2 241.4L440.9 239.6L440.5 237.9L440.1 236.2L439.7 234.4L439.4 232.7L439.0 230.9L438.7 229.2M440.9 232.5L438.7 229.2L437.9 233.1M464.8 243.2L464.3 241.4L463.8 239.7L463.4 237.9L462.9 236.2L462.4 234.4L462.0 232.6L461.5 230.9L461.1 229.1M463.6 232.4L461.1 229.1L460.5 233.1M487.9 243.2L487.4 241.5L486.8 239.7L486.2 237.9L485.7 236.2L485.2 234.4L484.6 232.6L484.1 230.8L483.5 229.1M486.2 232.3L483.5 229.1L483.1 233.2M510.2 243.1L509.8 241.4L509.3 239.6L508.9 237.9L508.5 236.2L508.1 234.4L507.7 232.6L507.3 230.9L506.9 229.1M509.3 232.4L506.9 229.1L506.2 233.1M532.5 243.0L532.2 241.3L531.9 239.6L531.6 237.9L531.3 236.2L531.0 234.4L530.8 232.7L530.6 231.0L530.4 229.2M532.3 232.6L530.4 229.2L529.3 233.0M554.8 242.8L554.6 241.1L554.4 239.5L554.2 237.8L554.1 236.2L554.0 234.5L553.9 232.8L553.9 231.2L553.9 229.5M555.4 232.9L553.9 229.5L552.4 232.9M576.5 241.6L576.6 240.2L576.6 238.9L576.7 237.5L576.9 236.2L577.1 234.8L577.3 233.5L577.6 232.1L577.9 230.8M578.4 233.8L577.9 230.8L576.1 233.3M597.9 240.1L598.2 239.1L598.7 238.1L599.2 237.1L599.7 236.2L600.3 235.2L600.9 234.3L601.6 233.4L602.3 232.6M601.5 234.9L602.3 232.6L600.1 233.7M619.4 238.2L620.1 237.7L620.9 237.2L621.7 236.7L622.5 236.2L623.3 235.7L624.1 235.2L624.9 234.7L625.7 234.2M624.5 235.9L625.7 234.2L623.6 234.5M643.2 238.5L643.7 237.9L644.2 237.3L644.8 236.7L645.3 236.2L645.8 235.6L646.4 235.0L647.0 234.4L647.5 233.9M646.8 235.7L647.5 233.9L645.7 234.6M666.9 238.5L667.2 237.9L667.5 237.3L667.8 236.7L668.1 236.2L668.4 235.6L668.7 235.0L669.0 234.4L669.3 233.8M669.2 235.8L669.3 233.8L667.8 235.1M150.8 257.5L152.0 257.0L153.1 256.5L154.2 256.0L155.3 255.6L156.4 255.0L157.5 254.5L158.6 254.0L159.7 253.4M157.9 255.5L159.7 253.4L156.9 253.6M173.8 259.6L174.9 258.6L176.0 257.6L177.1 256.6L178.1 255.6L179.1 254.5L180.1 253.4L181.1 252.3L182.1 251.2M181.1 254.4L182.1 251.2L179.1 252.6M197.2 261.8L198.2 260.2L199.1 258.7L200.0 257.1L200.9 255.6L201.8 254.0L202.7 252.4L203.6 250.8L204.4 249.3M204.0 253.3L204.4 249.3L201.3 251.8M220.6 263.5L221.4 261.5L222.2 259.5L222.9 257.5L223.7 255.6L224.5 253.6L225.3 251.6L226.1 249.6L226.9 247.7M226.9 252.0L226.9 247.7L223.8 250.7M243.3 263.5L244.1 261.5L244.9 259.5L245.7 257.5L246.5 255.6L247.3 253.6L248.1 251.6L248.9 249.6L249.7 247.6M249.8 251.9L249.7 247.6L246.7 250.6M266.0 263.6L266.9 261.6L267.7 259.6L268.5 257.5L269.3 255.6L270.1 253.6L271.0 251.6L271.8 249.6L272.6 247.6M272.6 251.9L272.6 247.6L269.5 250.6M288.8 263.6L289.6 261.6L290.5 259.6L291.3 257.6L292.1 255.6L292.9 253.5L293.7 251.5L294.6 249.5L295.4 247.5M295.4 251.8L295.4 247.5L292.3 250.6M311.9 263.5L312.7 261.5L313.4 259.5L314.1 257.5L314.9 255.6L315.7 253.6L316.4 251.6L317.2 249.6L317.9 247.6M318.1 251.9L317.9 247.6L314.9 250.7M335.0 263.4L335.7 261.4L336.3 259.5L337.0 257.5L337.7 255.6L338.4 253.6L339.1 251.6L339.8 249.7L340.5 247.7M340.7 252.0L340.5 247.7L337.6 250.9M358.4 263.3L358.9 261.3L359.5 259.4L360.0 257.5L360.5 255.6L361.0 253.6L361.5 251.7L362.1 249.8L362.6 247.8M363.2 252.1L362.6 247.8L359.9 251.2M382.7 263.0L382.8 261.2L383.0 259.3L383.1 257.4L383.3 255.6L383.5 253.7L383.7 251.8L383.9 249.9L384.1 248.1M385.3 252.1L384.1 248.1L382.0 251.8M406.9 262.6L406.7 260.9L406.5 259.1L406.3 257.3L406.1 255.6L405.9 253.8L405.8 252.0L405.6 250.2L405.5 248.4M407.3 252.0L405.5 248.4L404.2 252.2M430.6 262.4L430.2 260.7L429.7 259.0L429.3 257.3L428.9 255.6L428.5 253.8L428.1 252.1L427.7 250.4L427.3 248.6M429.6 251.9L427.3 248.6L426.6 252.5M453.7 262.6L453.2 260.8L452.7 259.1L452.2 257.3L451.7 255.6L451.2 253.8L450.7 252.0L450.3 250.2L449.8 248.5M452.3 251.7L449.8 248.5L449.2 252.5M476.9 262.8L476.3 261.0L475.7 259.2L475.1 257.4L474.5 255.6L473.9 253.7L473.4 251.9L472.8 250.1L472.2 248.3M475.0 251.6L472.2 248.3L471.8 252.5M499.7 262.7L499.1 260.9L498.5 259.1L497.9 257.3L497.3 255.6L496.7 253.8L496.1 252.0L495.6 250.2L495.0 248.4M497.7 251.6L495.0 248.4L494.6 252.6M522.4 262.5L521.8 260.7L521.2 259.0L520.6 257.3L520.1 255.6L519.6 253.8L519.1 252.1L518.6 250.3L518.1 248.6M520.6 251.8L518.1 248.6L517.5 252.6M545.0 262.2L544.4 260.6L543.9 258.9L543.4 257.2L542.9 255.6L542.4 253.9L542.0 252.2L541.6 250.5L541.2 248.8M543.5 251.9L541.2 248.8L540.5 252.6M567.4 261.4L567.0 259.9L566.5 258.5L566.1 257.0L565.7 255.6L565.3 254.1L565.0 252.6L564.7 251.1L564.4 249.6M566.3 252.4L564.4 249.6L563.7 252.9M589.8 260.3L589.4 259.1L589.1 257.9L588.8 256.7L588.5 255.6L588.3 254.4L588.1 253.2L587.9 251.9L587.7 250.7M589.1 253.1L587.7 250.7L587.0 253.4M612.0 259.2L611.8 258.3L611.6 257.4L611.4 256.5L611.3 255.6L611.2 254.6L611.2 253.7L611.1 252.8L611.2 251.9M611.9 253.8L611.2 251.9L610.3 253.7M634.1 258.7L634.1 257.9L634.0 257.1L634.1 256.3L634.1 255.6L634.2 254.8L634.3 254.0L634.4 253.2L634.5 252.4M635.0 254.4L634.5 252.4L633.4 254.1M656.3 258.4L656.4 257.7L656.6 257.0L656.7 256.3L656.9 255.6L657.1 254.8L657.3 254.1L657.5 253.4L657.7 252.7M657.9 254.7L657.7 252.7L656.4 254.3M678.6 258.1L678.9 257.4L679.2 256.8L679.4 256.2L679.7 255.6L680.0 254.9L680.2 254.3L680.5 253.7L680.7 253.0M680.8 255.0L680.7 253.0L679.3 254.4M162.0 278.1L163.2 277.3L164.3 276.5L165.4 275.8L166.5 275.0L167.6 274.1L168.7 273.3L169.7 272.4L170.8 271.6M169.4 274.3L170.8 271.6L167.8 272.4M185.3 280.2L186.3 278.9L187.3 277.6L188.3 276.3L189.3 275.0L190.2 273.6L191.2 272.3L192.1 270.9L193.0 269.5M192.3 273.1L193.0 269.5L189.9 271.5M208.6 282.1L209.6 280.3L210.4 278.5L211.3 276.8L212.1 275.0L212.9 273.1L213.7 271.3L214.4 269.5L215.2 267.7M215.2 272.0L215.2 267.7L212.1 270.7M231.8 282.7L232.6 280.8L233.4 278.8L234.2 276.9L234.9 275.0L235.6 273.0L236.4 271.0L237.1 269.1L237.8 267.1M238.0 271.4L237.8 267.1L234.9 270.2M254.7 282.6L255.5 280.7L256.2 278.8L257.0 276.9L257.7 275.0L258.4 273.0L259.2 271.1L259.9 269.2L260.7 267.3M260.8 271.6L260.7 267.3L257.7 270.4M277.6 282.4L278.3 280.5L279.0 278.7L279.8 276.8L280.5 275.0L281.2 273.1L282.0 271.2L282.7 269.4L283.5 267.5M283.6 271.8L283.5 267.5L280.4 270.6M300.6 282.3L301.3 280.5L302.0 278.6L302.6 276.8L303.3 275.0L304.0 273.1L304.7 271.3L305.4 269.4L306.1 267.6M306.2 271.9L306.1 267.6L303.1 270.7M323.8 282.3L324.3 280.4L324.9 278.6L325.5 276.8L326.1 275.0L326.7 273.1L327.3 271.3L327.9 269.5L328.6 267.7M328.9 272.0L328.6 267.7L325.7 270.9M346.9 282.2L347.4 280.4L347.9 278.6L348.4 276.8L348.9 275.0L349.4 273.1L350.0 271.3L350.5 269.5L351.0 267.7M351.5 271.9L351.0 267.7L348.4 271.0M370.8 282.1L371.0 280.3L371.2 278.5L371.5 276.7L371.7 275.0L371.9 273.2L372.2 271.4L372.4 269.6L372.7 267.8M373.7 271.7L372.7 267.8L370.6 271.2M395.0 282.0L394.9 280.2L394.7 278.5L394.6 276.7L394.5 275.0L394.4 273.2L394.3 271.4L394.3 269.7L394.2 267.9M395.9 271.5L394.2 267.9L392.8 271.6M419.2 281.7L418.7 280.0L418.2 278.3L417.7 276.6L417.3 275.0L416.9 273.3L416.5 271.6L416.1 269.9L415.7 268.2M418.0 271.3L415.7 268.2L415.0 272.0M442.3 281.9L441.7 280.2L441.2 278.4L440.6 276.7L440.1 275.0L439.6 273.2L439.1 271.5L438.5 269.7L438.0 268.0M440.6 271.1L438.0 268.0L437.5 272.0M465.4 282.1L464.8 280.4L464.1 278.6L463.5 276.8L462.9 275.0L462.3 273.1L461.7 271.3L461.1 269.5L460.5 267.7M463.3 270.9L460.5 267.7L460.1 272.0M488.6 282.4L487.8 280.5L487.1 278.7L486.4 276.8L485.7 275.0L485.0 273.1L484.3 271.2L483.7 269.3L483.0 267.5M485.9 270.6L483.0 267.5L482.7 271.8M511.4 282.0L510.7 280.2L509.9 278.5L509.2 276.7L508.5 275.0L507.8 273.2L507.1 271.4L506.4 269.6L505.8 267.8M508.7 270.9L505.8 267.8L505.6 272.1M534.3 281.6L533.5 279.9L532.8 278.3L532.0 276.6L531.3 275.0L530.6 273.3L529.9 271.6L529.2 269.9L528.5 268.2M531.4 271.1L528.5 268.2L528.4 272.3M557.1 281.1L556.3 279.6L555.6 278.0L554.8 276.5L554.1 275.0L553.4 273.4L552.7 271.9L552.0 270.3L551.3 268.7M554.1 271.4L551.3 268.7L551.3 272.5M579.7 280.0L579.0 278.8L578.3 277.5L577.6 276.2L576.9 275.0L576.2 273.7L575.5 272.4L574.9 271.1L574.2 269.8M576.7 271.9L574.2 269.8L574.4 273.1M602.3 278.9L601.7 277.9L601.0 276.9L600.4 275.9L599.7 275.0L599.0 274.0L598.4 273.0L597.7 272.0L597.1 270.9M599.3 272.5L597.1 270.9L597.5 273.6M624.7 278.2L624.1 277.3L623.6 276.5L623.1 275.7L622.5 275.0L621.9 274.2L621.4 273.4L620.8 272.6L620.2 271.8M622.1 273.0L620.2 271.8L620.7 273.9M646.1 278.2L645.9 277.3L645.7 276.5L645.5 275.7L645.3 275.0L645.1 274.2L644.8 273.4L644.6 272.6L644.4 271.8M645.6 273.4L644.4 271.8L644.1 273.8M667.4 277.9L667.6 277.2L667.8 276.4L667.9 275.7L668.1 275.0L668.3 274.2L668.4 273.5L668.6 272.7L668.8 272.0M669.1 274.0L668.8 272.0L667.6 273.6M151.0 297.2L152.1 296.5L153.2 295.8L154.2 295.1L155.3 294.4L156.4 293.6L157.4 292.9L158.5 292.2L159.5 291.5M158.0 293.9L159.5 291.5L156.7 292.1M173.8 298.6L174.9 297.5L176.0 296.5L177.0 295.4L178.1 294.4L179.1 293.3L180.2 292.2L181.2 291.1L182.2 290.0M181.1 293.2L182.2 290.0L179.2 291.4M196.7 299.9L197.8 298.6L198.8 297.2L199.9 295.8L200.9 294.4L201.9 292.9L202.9 291.5L203.8 290.0L204.8 288.5M204.1 292.4L204.8 288.5L201.5 290.8M219.7 301.1L220.7 299.4L221.8 297.8L222.7 296.1L223.7 294.4L224.6 292.6L225.5 290.9L226.4 289.1L227.3 287.4M227.1 291.6L227.3 287.4L224.0 290.2M243.1 301.1L244.0 299.4L244.9 297.7L245.7 296.1L246.5 294.4L247.3 292.6L248.1 290.9L248.8 289.2L249.6 287.5M249.6 291.7L249.6 287.5L246.5 290.4M266.6 301.1L267.3 299.4L268.0 297.7L268.6 296.0L269.3 294.4L270.0 292.7L270.6 291.0L271.3 289.3L271.9 287.6M272.1 291.6L271.9 287.6L269.1 290.5M290.0 301.1L290.5 299.4L291.0 297.7L291.6 296.0L292.1 294.4L292.6 292.7L293.2 291.0L293.7 289.3L294.3 287.6M294.6 291.6L294.3 287.6L291.7 290.6M313.2 301.3L313.6 299.5L314.0 297.8L314.5 296.1L314.9 294.4L315.4 292.6L315.8 290.9L316.3 289.2L316.8 287.5M317.3 291.4L316.8 287.5L314.3 290.6M336.3 301.5L336.7 299.7L337.0 297.9L337.3 296.1L337.7 294.4L338.1 292.6L338.5 290.8L338.9 289.1L339.3 287.3M340.0 291.3L339.3 287.3L336.9 290.6M359.8 301.5L359.9 299.7L360.1 297.9L360.3 296.1L360.5 294.4L360.7 292.6L361.0 290.8L361.2 289.0L361.5 287.2M362.5 291.1L361.5 287.2L359.4 290.7M383.8 301.2L383.6 299.5L383.5 297.8L383.4 296.1L383.3 294.4L383.2 292.6L383.2 290.9L383.1 289.2L383.1 287.5M384.7 291.0L383.1 287.5L381.6 291.0M407.8 300.9L407.3 299.2L406.9 297.6L406.5 296.0L406.1 294.4L405.7 292.7L405.4 291.1L405.0 289.4L404.7 287.8M406.8 290.9L404.7 287.8L403.9 291.5M431.3 300.7L430.7 299.1L430.1 297.5L429.5 295.9L428.9 294.4L428.3 292.8L427.8 291.2L427.2 289.6L426.7 288.0M429.2 290.8L426.7 288.0L426.4 291.7M454.4 300.7L453.7 299.1L453.0 297.6L452.4 296.0L451.7 294.4L451.1 292.7L450.4 291.1L449.8 289.5L449.2 287.9M451.9 290.7L449.2 287.9L449.0 291.8M477.5 300.8L476.7 299.2L476.0 297.6L475.2 296.0L474.5 294.4L473.8 292.7L473.1 291.1L472.4 289.5L471.7 287.8M474.6 290.6L471.7 287.8L471.7 291.8M500.4 300.7L499.6 299.1L498.8 297.5L498.1 295.9L497.3 294.4L496.6 292.7L495.8 291.1L495.1 289.5L494.4 287.9M497.3 290.6L494.4 287.9L494.4 291.9M523.2 300.5L522.4 298.9L521.6 297.4L520.9 295.9L520.1 294.4L519.4 292.8L518.6 291.3L517.9 289.7L517.2 288.2M520.0 290.7L517.2 288.2L517.3 292.0M546.0 300.2L545.2 298.7L544.4 297.3L543.7 295.8L542.9 294.4L542.1 292.9L541.4 291.4L540.7 289.9L539.9 288.4M542.7 290.9L539.9 288.4L540.1 292.1M568.5 299.7L567.8 298.4L567.1 297.0L566.4 295.7L565.7 294.4L565.0 293.0L564.3 291.7L563.6 290.3L562.9 289.0M565.5 291.1L562.9 289.0L563.1 292.4M591.0 299.1L590.4 297.9L589.8 296.7L589.1 295.5L588.5 294.4L587.9 293.2L587.2 292.0L586.6 290.8L586.0 289.6M588.3 291.5L586.0 289.6L586.2 292.6M613.4 298.5L612.9 297.5L612.4 296.4L611.8 295.4L611.3 294.4L610.7 293.3L610.2 292.3L609.6 291.2L609.0 290.2M611.1 291.8L609.0 290.2L609.3 292.8M635.0 298.3L634.8 297.3L634.6 296.3L634.3 295.3L634.1 294.4L633.8 293.4L633.6 292.4L633.3 291.4L633.0 290.5M634.4 292.2L633.0 290.5L632.8 292.7M656.2 297.9L656.4 297.0L656.5 296.1L656.7 295.2L656.9 294.4L657.1 293.5L657.2 292.6L657.4 291.7L657.5 290.8M658.0 292.8L657.5 290.8L656.5 292.5M677.5 297.1L678.0 296.4L678.6 295.7L679.1 295.0L679.7 294.4L680.3 293.7L680.8 293.0L681.4 292.3L682.0 291.6M681.4 293.5L682.0 291.6L680.2 292.5M162.4 317.6L163.4 316.6L164.4 315.7L165.5 314.7L166.5 313.8L167.5 312.8L168.6 311.8L169.6 310.9L170.6 309.9M169.3 312.8L170.6 309.9L167.7 311.0M184.9 318.3L186.0 317.2L187.1 316.0L188.2 314.9L189.3 313.8L190.4 312.6L191.5 311.4L192.5 310.2L193.6 309.1M192.5 312.4L193.6 309.1L190.4 310.6M207.3 319.0L208.6 317.7L209.8 316.4L210.9 315.1L212.1 313.8L213.2 312.4L214.4 311.0L215.5 309.6L216.6 308.2M215.6 312.1L216.6 308.2L213.1 310.2M230.6 319.4L231.7 318.0L232.8 316.6L233.9 315.2L234.9 313.8L235.9 312.3L236.9 310.8L237.8 309.3L238.8 307.8M238.2 311.7L238.8 307.8L235.5 310.1M254.6 319.6L255.4 318.2L256.2 316.7L257.0 315.2L257.7 313.8L258.4 312.3L259.1 310.8L259.8 309.3L260.5 307.7M260.4 311.5L260.5 307.7L257.8 310.3M278.7 319.7L279.2 318.2L279.6 316.7L280.1 315.2L280.5 313.8L280.9 312.3L281.4 310.8L281.8 309.3L282.3 307.8M282.7 311.2L282.3 307.8L280.1 310.4M302.2 320.0L302.4 318.5L302.7 316.9L303.0 315.3L303.3 313.8L303.6 312.2L303.9 310.6L304.3 309.1L304.6 307.5M305.3 311.0L304.6 307.5L302.5 310.4M325.3 320.4L325.5 318.8L325.7 317.1L325.9 315.4L326.1 313.8L326.3 312.1L326.6 310.4L326.8 308.8L327.1 307.1M328.0 310.8L327.1 307.1L325.1 310.3M348.5 320.8L348.6 319.0L348.7 317.3L348.8 315.5L348.9 313.8L349.0 312.0L349.2 310.2L349.4 308.5L349.6 306.7M350.7 310.5L349.6 306.7L347.6 310.2M372.2 320.6L372.1 318.9L371.9 317.2L371.8 315.5L371.7 313.8L371.6 312.0L371.5 310.3L371.5 308.6L371.4 306.9M373.0 310.4L371.4 306.9L370.0 310.5M396.1 320.1L395.7 318.5L395.3 316.9L394.9 315.3L394.5 313.8L394.1 312.1L393.8 310.5L393.5 308.9L393.2 307.3M395.2 310.4L393.2 307.3L392.4 310.9M419.9 319.6L419.2 318.1L418.6 316.7L417.9 315.2L417.3 313.8L416.7 312.3L416.1 310.8L415.5 309.3L415.0 307.8M417.4 310.4L415.0 307.8L414.8 311.4M443.0 319.5L442.2 318.0L441.5 316.6L440.8 315.2L440.1 313.8L439.4 312.3L438.7 310.9L438.1 309.4L437.4 307.9M440.0 310.4L437.4 307.9L437.5 311.5M466.0 319.4L465.2 318.0L464.4 316.6L463.7 315.2L462.9 313.8L462.2 312.3L461.4 310.9L460.7 309.5L460.0 308.0M462.7 310.4L460.0 308.0L460.2 311.6M489.0 319.3L488.2 317.9L487.3 316.5L486.5 315.1L485.7 313.8L484.9 312.4L484.1 311.0L483.3 309.5L482.6 308.1M485.4 310.4L482.6 308.1L482.9 311.7M511.8 319.2L510.9 317.8L510.1 316.5L509.3 315.1L508.5 313.8L507.7 312.4L506.9 311.0L506.2 309.6L505.4 308.3M508.2 310.4L505.4 308.3L505.8 311.8M534.5 319.1L533.7 317.7L532.9 316.4L532.1 315.1L531.3 313.8L530.5 312.4L529.7 311.1L529.0 309.7L528.2 308.4M531.0 310.5L528.2 308.4L528.6 311.8M557.1 319.0L556.4 317.7L555.6 316.4L554.9 315.1L554.1 313.8L553.3 312.4L552.6 311.1L551.8 309.8L551.1 308.5M553.8 310.6L551.1 308.5L551.5 311.9M579.4 318.9L578.8 317.6L578.2 316.3L577.5 315.0L576.9 313.8L576.3 312.5L575.6 311.2L575.0 309.9L574.3 308.7M576.8 310.7L574.3 308.7L574.6 311.8M601.7 318.7L601.2 317.5L600.7 316.2L600.2 315.0L599.7 313.8L599.2 312.5L598.7 311.3L598.1 310.0L597.6 308.8M599.8 310.9L597.6 308.8L597.6 311.8M623.7 318.5L623.4 317.3L623.1 316.1L622.8 314.9L622.5 313.8L622.2 312.6L621.8 311.4L621.5 310.2L621.1 309.0M622.9 311.1L621.1 309.0L620.8 311.8M644.8 318.0L644.9 317.0L645.0 315.9L645.2 314.8L645.3 313.8L645.4 312.7L645.5 311.6L645.6 310.5L645.7 309.5M646.5 311.8L645.7 309.5L644.6 311.6M665.8 317.1L666.4 316.3L667.0 315.4L667.5 314.6L668.1 313.8L668.7 312.9L669.3 312.1L669.9 311.3L670.5 310.4M669.9 312.7L670.5 310.4L668.5 311.6M151.7 337.2L152.6 336.2L153.5 335.2L154.4 334.2L155.3 333.1L156.2 332.2L157.1 331.2L158.1 330.2L159.0 329.2M157.9 332.0L159.0 329.2L156.2 330.4M173.8 337.4L174.9 336.3L176.0 335.2L177.0 334.2L178.1 333.1L179.2 332.1L180.3 331.1L181.3 330.0L182.4 329.0M181.1 332.1L182.4 329.0L179.3 330.2M195.9 337.5L197.2 336.4L198.4 335.3L199.7 334.2L200.9 333.1L202.1 332.1L203.4 331.0L204.6 329.9L205.8 328.8M204.3 332.1L205.8 328.8L202.3 330.0M218.2 337.5L219.6 336.4L221.0 335.4L222.4 334.3L223.7 333.1L225.0 332.0L226.3 330.8L227.6 329.6L228.8 328.4M227.3 332.0L228.8 328.4L225.2 329.8M242.6 337.9L243.6 336.8L244.6 335.6L245.5 334.4L246.5 333.1L247.4 331.9L248.3 330.7L249.2 329.4L250.1 328.1M249.4 331.5L250.1 328.1L247.2 330.0M267.2 338.3L267.7 337.0L268.3 335.7L268.8 334.5L269.3 333.1L269.8 331.8L270.3 330.5L270.8 329.2L271.3 327.9M271.4 331.0L271.3 327.9L269.1 330.2M291.6 338.5L291.7 337.2L291.8 335.8L291.9 334.5L292.1 333.1L292.3 331.8L292.4 330.5L292.6 329.1L292.8 327.8M293.6 330.7L292.8 327.8L291.2 330.4M314.8 339.2L314.8 337.7L314.8 336.2L314.8 334.7L314.9 333.1L315.0 331.6L315.1 330.1L315.2 328.6L315.3 327.1M316.4 330.3L315.3 327.1L313.7 330.1M337.9 339.8L337.8 338.1L337.8 336.5L337.7 334.8L337.7 333.1L337.7 331.5L337.7 329.8L337.7 328.2L337.7 326.5M339.1 330.0L337.7 326.5L336.2 329.9M361.3 340.0L361.1 338.3L360.8 336.6L360.7 334.9L360.5 333.1L360.4 331.4L360.2 329.7L360.1 328.0L360.0 326.3M361.7 329.7L360.0 326.3L358.7 329.9M385.0 339.5L384.5 337.9L384.1 336.3L383.7 334.7L383.3 333.1L382.9 331.6L382.6 330.0L382.2 328.4L381.9 326.8M384.0 329.8L381.9 326.8L381.2 330.4M408.6 338.8L408.0 337.4L407.3 336.0L406.7 334.6L406.1 333.1L405.5 331.7L404.9 330.3L404.4 328.8L403.8 327.4M406.2 329.9L403.8 327.4L403.7 330.8M432.0 338.4L431.2 337.1L430.4 335.8L429.6 334.5L428.9 333.1L428.2 331.8L427.4 330.5L426.7 329.2L426.0 327.9M428.6 330.0L426.0 327.9L426.3 331.2M455.0 338.1L454.1 336.9L453.3 335.6L452.5 334.4L451.7 333.1L450.9 331.9L450.1 330.6L449.4 329.4L448.6 328.1M451.3 330.1L448.6 328.1L449.1 331.4M478.0 337.8L477.1 336.6L476.2 335.5L475.3 334.3L474.5 333.1L473.7 332.0L472.8 330.8L472.0 329.6L471.2 328.4M473.9 330.2L471.2 328.4L471.8 331.6M500.8 337.7L499.9 336.6L499.0 335.4L498.2 334.3L497.3 333.1L496.5 332.0L495.6 330.8L494.8 329.7L494.0 328.5M496.7 330.2L494.0 328.5L494.6 331.6M523.4 337.8L522.6 336.6L521.8 335.5L520.9 334.3L520.1 333.1L519.3 332.0L518.5 330.8L517.7 329.6L516.9 328.5M519.5 330.2L516.9 328.5L517.5 331.6M546.1 337.8L545.3 336.7L544.5 335.5L543.7 334.3L542.9 333.1L542.1 332.0L541.3 330.8L540.5 329.6L539.8 328.4M542.4 330.2L539.8 328.4L540.3 331.6M568.4 338.1L567.7 336.9L567.1 335.6L566.4 334.4L565.7 333.1L565.0 331.9L564.3 330.7L563.6 329.5L562.9 328.2M565.5 330.2L562.9 328.2L563.3 331.4M590.5 338.5L590.0 337.1L589.5 335.8L589.0 334.5L588.5 333.1L588.0 331.8L587.5 330.5L586.9 329.2L586.4 327.9M588.6 330.1L586.4 327.9L586.3 331.1M612.6 338.7L612.3 337.3L612.0 335.9L611.6 334.5L611.3 333.1L610.9 331.8L610.6 330.4L610.2 329.0L609.8 327.6M611.8 330.1L609.8 327.6L609.4 330.8M633.9 338.3L633.9 337.0L634.0 335.7L634.1 334.4L634.1 333.1L634.1 331.9L634.2 330.6L634.2 329.3L634.2 328.0M635.3 330.7L634.2 328.0L633.0 330.6M654.8 337.3L655.3 336.3L655.8 335.2L656.4 334.2L656.9 333.1L657.5 332.1L658.0 331.1L658.6 330.0L659.1 329.0M658.9 331.6L659.1 329.0L657.1 330.6M675.9 336.0L676.8 335.3L677.8 334.5L678.7 333.8L679.7 333.1L680.7 332.5L681.7 331.8L682.6 331.2L683.6 330.5M682.1 332.7L683.6 330.5L681.0 331.0M162.6 356.8L163.5 355.7L164.5 354.7L165.5 353.6L166.5 352.5L167.5 351.5L168.5 350.5L169.5 349.4L170.5 348.4M169.3 351.4L170.5 348.4L167.5 349.6M184.6 356.6L185.8 355.6L186.9 354.5L188.1 353.5L189.3 352.5L190.5 351.6L191.7 350.6L192.9 349.6L194.1 348.6M192.5 351.7L194.1 348.6L190.7 349.6M206.7 356.3L208.0 355.4L209.4 354.4L210.7 353.5L212.1 352.5L213.5 351.6L214.8 350.7L216.2 349.8L217.6 348.8M215.6 351.9L217.6 348.8L213.9 349.5M230.0 356.6L231.3 355.6L232.5 354.6L233.7 353.6L234.9 352.5L236.1 351.5L237.2 350.4L238.4 349.3L239.5 348.2M238.2 351.5L239.5 348.2L236.2 349.5M254.7 357.4L255.5 356.2L256.2 355.0L257.0 353.8L257.7 352.5L258.4 351.3L259.1 350.1L259.8 348.8L260.5 347.6M260.2 350.8L260.5 347.6L258.0 349.5M279.6 358.0L279.8 356.6L280.0 355.3L280.3 353.9L280.5 352.5L280.7 351.2L280.9 349.8L281.2 348.5L281.4 347.1M282.1 350.1L281.4 347.1L279.8 349.7M303.2 358.5L303.3 357.0L303.3 355.5L303.3 354.0L303.3 352.5L303.3 351.1L303.3 349.6L303.4 348.1L303.4 346.6M304.6 349.7L303.4 346.6L302.0 349.7M326.4 359.1L326.4 357.4L326.3 355.8L326.2 354.2L326.1 352.5L326.0 350.9L326.0 349.3L325.9 347.7L325.8 346.0M327.4 349.3L325.8 346.0L324.5 349.4M349.6 359.7L349.5 357.9L349.3 356.1L349.1 354.3L348.9 352.5L348.7 350.8L348.6 349.0L348.4 347.2L348.2 345.4M350.1 349.0L348.2 345.4L347.0 349.2M373.0 359.4L372.7 357.7L372.3 356.0L372.0 354.3L371.7 352.5L371.4 350.8L371.1 349.1L370.7 347.4L370.4 345.7M372.6 348.9L370.4 345.7L369.6 349.5M396.4 358.9L395.9 357.3L395.4 355.7L395.0 354.1L394.5 352.5L394.0 351.0L393.5 349.4L393.0 347.8L392.5 346.2M394.9 349.0L392.5 346.2L392.2 349.9M419.7 358.4L419.2 356.9L418.5 355.5L417.9 354.0L417.3 352.5L416.7 351.1L416.0 349.7L415.3 348.2L414.7 346.8M417.3 349.1L414.7 346.8L414.8 350.3M442.8 358.1L442.1 356.7L441.5 355.3L440.8 353.9L440.1 352.5L439.4 351.2L438.7 349.8L437.9 348.4L437.2 347.1M439.9 349.2L437.2 347.1L437.6 350.5M465.8 357.8L465.1 356.5L464.4 355.2L463.6 353.9L462.9 352.5L462.1 351.2L461.4 349.9L460.6 348.7L459.8 347.4M462.6 349.3L459.8 347.4L460.3 350.7M488.8 357.6L488.1 356.3L487.3 355.0L486.5 353.8L485.7 352.5L484.9 351.3L484.1 350.1L483.2 348.9L482.4 347.7M485.2 349.4L482.4 347.7L483.1 350.9M511.7 357.6L510.9 356.3L510.1 355.1L509.3 353.8L508.5 352.5L507.7 351.3L506.8 350.1L506.0 348.8L505.1 347.6M508.0 349.4L505.1 347.6L505.8 350.9M534.6 357.7L533.8 356.4L533.0 355.1L532.1 353.8L531.3 352.5L530.5 351.3L529.6 350.0L528.8 348.8L527.9 347.5M530.8 349.3L527.9 347.5L528.6 350.8M557.3 357.8L556.5 356.5L555.7 355.2L554.9 353.9L554.1 352.5L553.3 351.2L552.4 350.0L551.6 348.7L550.7 347.4M553.6 349.3L550.7 347.4L551.4 350.8M579.4 358.4L578.8 356.9L578.2 355.5L577.5 354.0L576.9 352.5L576.3 351.1L575.6 349.7L574.9 348.2L574.3 346.8M576.9 349.2L574.3 346.8L574.4 350.3M601.4 358.9L601.0 357.3L600.6 355.7L600.1 354.1L599.7 352.5L599.3 351.0L598.8 349.4L598.3 347.8L597.9 346.3M600.2 349.1L597.9 346.3L597.5 349.9M623.2 359.0L623.0 357.4L622.9 355.8L622.7 354.2L622.5 352.5L622.3 350.9L622.1 349.3L621.9 347.7L621.7 346.1M623.5 349.3L621.7 346.1L620.7 349.6M644.1 357.8L644.4 356.5L644.7 355.2L645.0 353.9L645.3 352.5L645.6 351.2L646.0 349.9L646.3 348.6L646.7 347.3M647.1 350.3L646.7 347.3L644.8 349.7M665.0 356.3L665.7 355.3L666.5 354.4L667.3 353.5L668.1 352.5L668.9 351.7L669.8 350.8L670.6 350.0L671.5 349.1M670.4 351.6L671.5 349.1L669.0 350.1M151.6 376.4L152.5 375.3L153.5 374.2L154.4 373.1L155.3 371.9L156.2 370.9L157.2 369.8L158.1 368.7L159.1 367.6M158.0 370.7L159.1 367.6L156.2 369.0M173.7 376.0L174.8 375.0L175.9 373.9L177.0 372.9L178.1 371.9L179.2 371.0L180.3 370.0L181.4 369.0L182.6 368.0M181.1 371.0L182.6 368.0L179.4 369.0M195.8 375.5L197.1 374.6L198.3 373.7L199.6 372.8L200.9 371.9L202.2 371.1L203.5 370.2L204.8 369.3L206.1 368.5M204.1 371.4L206.1 368.5L202.6 369.1M218.1 375.0L219.5 374.3L220.9 373.5L222.3 372.7L223.7 371.9L225.1 371.1L226.4 370.3L227.8 369.4L229.1 368.5M227.2 371.5L229.1 368.5L225.6 369.2M242.5 376.4L243.5 375.3L244.5 374.2L245.5 373.1L246.5 371.9L247.5 370.8L248.4 369.6L249.3 368.4L250.2 367.2M249.4 370.5L250.2 367.2L247.3 368.9M267.5 377.6L267.9 376.2L268.4 374.8L268.8 373.4L269.3 371.9L269.7 370.5L270.2 369.1L270.6 367.7L271.0 366.3M271.4 369.6L271.0 366.3L268.9 368.8M292.0 378.3L292.0 376.7L292.0 375.1L292.1 373.5L292.1 371.9L292.1 370.4L292.2 368.8L292.2 367.2L292.3 365.6M293.5 368.9L292.3 365.6L290.8 368.9M315.2 378.8L315.1 377.1L315.1 375.4L315.0 373.7L314.9 371.9L314.8 370.2L314.8 368.5L314.7 366.8L314.6 365.1M316.2 368.6L314.6 365.1L313.3 368.7M338.5 379.3L338.3 377.4L338.1 375.6L337.9 373.8L337.7 371.9L337.5 370.1L337.3 368.3L337.2 366.5L337.0 364.6M338.9 368.3L337.0 364.6L335.7 368.5M361.7 379.5L361.4 377.6L361.1 375.7L360.8 373.8L360.5 371.9L360.2 370.1L359.9 368.2L359.7 366.3L359.4 364.4M361.6 368.1L359.4 364.4L358.3 368.5M384.7 379.1L384.3 377.3L384.0 375.5L383.7 373.7L383.3 371.9L382.9 370.2L382.6 368.4L382.2 366.6L381.8 364.8M384.2 368.1L381.8 364.8L381.0 368.8M407.7 378.8L407.3 377.1L406.9 375.4L406.5 373.7L406.1 371.9L405.7 370.2L405.2 368.5L404.7 366.8L404.3 365.1M406.7 368.2L404.3 365.1L403.8 369.1M430.8 378.5L430.3 376.9L429.9 375.2L429.4 373.6L428.9 371.9L428.4 370.3L427.9 368.7L427.3 367.1L426.7 365.5M429.3 368.3L426.7 365.5L426.5 369.3M453.9 378.3L453.3 376.7L452.8 375.1L452.3 373.5L451.7 371.9L451.1 370.4L450.5 368.8L449.9 367.2L449.3 365.7M451.9 368.3L449.3 365.7L449.2 369.4M476.9 378.1L476.3 376.6L475.7 375.0L475.1 373.5L474.5 371.9L473.9 370.4L473.2 368.9L472.5 367.4L471.8 365.9M474.6 368.4L471.8 365.9L471.9 369.6M500.1 378.1L499.4 376.5L498.7 375.0L498.0 373.5L497.3 371.9L496.6 370.4L495.8 368.9L495.1 367.4L494.3 365.9M497.2 368.3L494.3 365.9L494.6 369.7M523.3 378.1L522.5 376.5L521.7 375.0L520.9 373.5L520.1 371.9L519.3 370.4L518.4 368.9L517.6 367.4L516.8 365.9M519.8 368.3L516.8 365.9L517.2 369.7M546.6 378.1L545.6 376.5L544.7 375.0L543.8 373.5L542.9 371.9L542.0 370.4L541.1 368.9L540.1 367.4L539.2 365.9M542.5 368.2L539.2 365.9L539.8 369.8M568.9 378.5L568.1 376.9L567.3 375.2L566.5 373.6L565.7 371.9L564.9 370.3L564.0 368.7L563.2 367.1L562.3 365.5M565.5 368.0L562.3 365.5L562.7 369.5M590.9 379.1L590.3 377.3L589.7 375.5L589.1 373.7L588.5 371.9L587.9 370.2L587.3 368.4L586.6 366.6L586.0 364.8M588.9 367.9L586.0 364.8L585.8 369.1M612.9 379.6L612.5 377.7L612.1 375.8L611.7 373.9L611.3 371.9L610.9 370.0L610.5 368.1L610.1 366.2L609.7 364.3M612.1 367.8L609.7 364.3L608.9 368.5M634.1 378.6L634.1 377.0L634.1 375.3L634.1 373.6L634.1 371.9L634.1 370.3L634.1 368.6L634.1 366.9L634.2 365.3M635.6 368.7L634.2 365.3L632.7 368.7M654.9 376.8L655.4 375.6L655.9 374.4L656.4 373.2L656.9 371.9L657.4 370.8L658.0 369.6L658.6 368.4L659.2 367.2M659.0 370.2L659.2 367.2L656.9 369.1M675.9 374.5L676.8 373.8L677.8 373.2L678.7 372.5L679.7 371.9L680.7 371.4L681.7 370.8L682.7 370.3L683.7 369.8M682.0 371.7L683.7 369.8L681.2 370.0M162.4 395.6L163.4 394.5L164.4 393.5L165.5 392.4L166.5 391.3L167.5 390.3L168.6 389.3L169.6 388.2L170.7 387.2M169.4 390.3L170.7 387.2L167.6 388.4M184.5 394.9L185.7 394.0L186.9 393.1L188.1 392.2L189.3 391.3L190.5 390.5L191.7 389.6L192.9 388.8L194.2 387.9M192.4 390.7L194.2 387.9L190.9 388.6M206.7 394.2L208.0 393.5L209.4 392.8L210.7 392.1L212.1 391.3L213.5 390.7L214.8 390.0L216.2 389.3L217.6 388.6M215.3 391.2L217.6 388.6L214.2 388.8M230.0 394.8L231.2 394.0L232.5 393.1L233.7 392.2L234.9 391.3L236.1 390.4L237.2 389.5L238.4 388.5L239.5 387.5M238.1 390.5L239.5 387.5L236.3 388.6M254.8 396.7L255.5 395.4L256.3 394.0L257.0 392.7L257.7 391.3L258.4 390.0L259.1 388.6L259.7 387.2L260.4 385.9M260.3 389.3L260.4 385.9L257.8 388.1M279.8 398.0L280.0 396.4L280.2 394.7L280.3 393.0L280.5 391.3L280.7 389.7L280.8 388.0L281.0 386.3L281.2 384.7M282.3 388.3L281.2 384.7L279.4 388.0M303.6 398.6L303.5 396.8L303.4 395.0L303.4 393.2L303.3 391.3L303.2 389.5L303.2 387.7L303.1 385.9L303.1 384.1M304.8 387.8L303.1 384.1L301.6 387.9M326.9 399.0L326.7 397.1L326.5 395.2L326.3 393.3L326.1 391.3L325.9 389.4L325.7 387.5L325.6 385.6L325.4 383.7M327.4 387.5L325.4 383.7L324.1 387.8M350.1 399.3L349.8 397.3L349.5 395.3L349.2 393.3L348.9 391.3L348.6 389.4L348.3 387.4L348.0 385.3L347.7 383.3M350.0 387.0L347.7 383.3L346.6 387.5M372.9 399.2L372.6 397.3L372.3 395.3L372.0 393.3L371.7 391.3L371.4 389.4L371.1 387.4L370.7 385.4L370.4 383.5M372.7 387.1L370.4 383.5L369.4 387.7M395.7 399.0L395.4 397.1L395.1 395.2L394.8 393.3L394.5 391.3L394.2 389.4L393.9 387.5L393.5 385.6L393.2 383.7M395.5 387.3L393.2 383.7L392.2 387.9M418.4 398.8L418.1 396.9L417.9 395.1L417.6 393.2L417.3 391.3L417.0 389.5L416.7 387.6L416.3 385.8L415.9 384.0M418.3 387.4L415.9 384.0L415.1 388.1M441.5 398.7L441.1 396.8L440.8 395.0L440.5 393.2L440.1 391.3L439.7 389.5L439.3 387.7L438.9 385.9L438.5 384.1M440.9 387.4L438.5 384.1L437.8 388.2M464.6 398.6L464.2 396.8L463.8 395.0L463.3 393.2L462.9 391.3L462.4 389.6L462.0 387.8L461.5 386.0L461.0 384.2M463.6 387.4L461.0 384.2L460.5 388.3M487.7 398.5L487.2 396.7L486.7 394.9L486.2 393.1L485.7 391.3L485.2 389.6L484.6 387.8L484.0 386.1L483.5 384.3M486.2 387.4L483.5 384.3L483.1 388.4M511.3 398.5L510.6 396.7L509.9 394.9L509.2 393.1L508.5 391.3L507.8 389.6L507.1 387.8L506.3 386.0L505.6 384.3M508.7 387.3L505.6 384.3L505.6 388.6M534.9 398.4L534.0 396.7L533.1 394.9L532.2 393.1L531.3 391.3L530.4 389.6L529.5 387.8L528.6 386.0L527.7 384.3M531.0 387.0L527.7 384.3L528.0 388.6M558.1 398.6L557.1 396.8L556.1 394.9L555.1 393.1L554.1 391.3L553.1 389.6L552.0 387.8L551.0 386.0L549.9 384.2M553.4 386.8L549.9 384.2L550.5 388.5M580.0 399.3L579.3 397.3L578.5 395.3L577.7 393.3L576.9 391.3L576.1 389.4L575.3 387.4L574.4 385.5L573.6 383.5M576.7 386.5L573.6 383.5L573.6 387.8M601.9 399.9L601.4 397.8L600.8 395.6L600.3 393.5L599.7 391.3L599.1 389.2L598.5 387.1L598.0 385.0L597.4 382.8M600.0 386.2L597.4 382.8L596.8 387.1M623.6 399.8L623.3 397.7L623.1 395.6L622.8 393.5L622.5 391.3L622.2 389.2L621.9 387.1L621.6 385.0L621.3 382.9M623.5 386.5L621.3 382.9L620.2 387.0M644.5 397.7L644.7 396.1L644.9 394.5L645.1 392.9L645.3 391.3L645.5 389.8L645.7 388.2L646.0 386.6L646.2 385.0M647.1 388.5L646.2 385.0L644.3 388.0M665.3 395.2L666.0 394.2L666.6 393.2L667.4 392.3L668.1 391.3L668.9 390.4L669.6 389.5L670.5 388.7L671.3 387.8M670.3 390.3L671.3 387.8L668.8 388.8M151.3 415.2L152.3 414.1L153.3 413.0L154.3 411.9L155.3 410.7L156.3 409.6L157.3 408.5L158.3 407.4L159.3 406.3M158.2 409.5L159.3 406.3L156.2 407.7M173.7 414.5L174.8 413.6L175.9 412.6L177.0 411.7L178.1 410.7L179.2 409.8L180.3 408.9L181.5 408.0L182.6 407.1M181.0 410.0L182.6 407.1L179.5 408.0M196.1 413.8L197.3 413.0L198.5 412.2L199.7 411.5L200.9 410.7L202.1 410.0L203.4 409.3L204.6 408.6L205.9 408.0M203.9 410.5L205.9 408.0L202.7 408.3M218.6 413.0L219.9 412.5L221.1 411.9L222.4 411.3L223.7 410.7L225.0 410.1L226.2 409.5L227.5 408.8L228.7 408.1M226.7 410.6L228.7 408.1L225.5 408.5M243.1 415.5L244.0 414.3L244.8 413.1L245.7 411.9L246.5 410.7L247.3 409.6L248.2 408.4L249.0 407.2L249.9 406.0M249.2 409.2L249.9 406.0L247.1 407.7M268.3 417.3L268.5 415.7L268.7 414.0L269.0 412.4L269.3 410.7L269.6 409.1L270.0 407.5L270.3 405.9L270.7 404.2M271.4 407.9L270.7 404.2L268.5 407.3M292.7 418.4L292.5 416.5L292.4 414.6L292.2 412.7L292.1 410.7L292.0 408.8L292.0 406.9L291.9 405.0L291.9 403.1M293.6 407.0L291.9 403.1L290.3 407.1M316.1 418.8L315.8 416.8L315.4 414.8L315.2 412.8L314.9 410.7L314.7 408.7L314.5 406.7L314.3 404.7L314.2 402.7M316.2 406.5L314.2 402.7L312.8 406.7M339.5 419.1L339.0 417.0L338.5 414.9L338.1 412.9L337.7 410.7L337.3 408.6L337.0 406.5L336.7 404.4L336.5 402.3M338.6 406.0L336.5 402.3L335.3 406.4M362.5 419.3L362.0 417.2L361.4 415.0L361.0 412.9L360.5 410.7L360.1 408.6L359.7 406.4L359.3 404.3L359.0 402.1M361.3 405.7L359.0 402.1L358.0 406.3M384.8 419.2L384.4 417.1L384.0 415.0L383.7 412.9L383.3 410.7L383.0 408.6L382.7 406.5L382.4 404.4L382.1 402.3M384.3 406.0L382.1 402.3L381.0 406.4M407.2 419.0L406.9 417.0L406.6 414.9L406.4 412.8L406.1 410.7L405.9 408.7L405.6 406.6L405.4 404.5L405.2 402.5M407.3 406.2L405.2 402.5L403.9 406.6M430.0 418.9L429.7 416.9L429.4 414.8L429.2 412.8L428.9 410.7L428.7 408.7L428.4 406.7L428.2 404.6L428.0 402.6M430.1 406.3L428.0 402.6L426.8 406.7M453.3 418.8L452.9 416.8L452.5 414.8L452.1 412.8L451.7 410.7L451.4 408.7L451.0 406.7L450.7 404.6L450.4 402.6M452.7 406.2L450.4 402.6L449.4 406.8M476.7 418.8L476.1 416.8L475.5 414.8L475.0 412.8L474.5 410.7L474.0 408.7L473.6 406.7L473.2 404.7L472.8 402.6M475.3 406.2L472.8 402.6L472.0 406.8M500.2 418.6L499.4 416.7L498.7 414.7L498.0 412.7L497.3 410.7L496.7 408.8L496.1 406.7L495.5 404.7L495.0 402.7M497.6 406.1L495.0 402.7L494.4 407.0M524.0 418.4L522.9 416.5L522.0 414.6L521.0 412.7L520.1 410.7L519.2 408.8L518.4 406.8L517.6 404.8L516.8 402.9M519.9 405.9L516.8 402.9L516.7 407.2M547.7 418.0L546.5 416.3L545.2 414.5L544.0 412.6L542.9 410.7L541.8 408.9L540.8 406.9L539.7 405.0L538.7 403.1M542.1 405.8L538.7 403.1L539.1 407.3M570.1 418.5L568.9 416.6L567.8 414.6L566.8 412.7L565.7 410.7L564.7 408.8L563.7 406.8L562.7 404.8L561.7 402.8M565.0 405.6L561.7 402.8L562.0 407.1M591.8 419.1L591.0 417.0L590.1 415.0L589.3 412.9L588.5 410.7L587.7 408.6L587.0 406.5L586.3 404.4L585.5 402.2M588.4 405.4L585.5 402.2L585.2 406.5M613.5 419.7L612.9 417.5L612.4 415.2L611.8 413.0L611.3 410.7L610.8 408.5L610.3 406.2L609.8 404.0L609.4 401.7M611.8 405.2L609.4 401.7L608.5 405.9M634.4 418.2L634.3 416.4L634.3 414.5L634.2 412.6L634.1 410.7L634.0 408.9L633.9 407.0L633.9 405.1L633.8 403.3M635.6 407.0L633.8 403.3L632.3 407.2M655.0 415.8L655.5 414.5L656.0 413.3L656.4 412.0L656.9 410.7L657.4 409.5L657.9 408.2L658.3 407.0L658.8 405.7M658.9 408.7L658.8 405.7L656.7 407.9M676.1 412.6L677.0 412.1L677.9 411.6L678.8 411.2L679.7 410.7L680.6 410.4L681.6 410.0L682.5 409.6L683.5 409.3M681.8 410.8L683.5 409.3L681.2 409.1M162.3 433.9L163.4 433.0L164.4 432.1L165.5 431.1L166.5 430.1L167.5 429.2L168.6 428.2L169.6 427.3L170.7 426.3M169.4 429.2L170.7 426.3L167.7 427.4M185.5 433.5L186.5 432.7L187.4 431.8L188.4 431.0L189.3 430.1L190.2 429.3L191.2 428.5L192.2 427.7L193.1 426.9M191.8 429.4L193.1 426.9L190.4 427.7M208.8 433.1L209.6 432.4L210.4 431.6L211.3 430.9L212.1 430.1L213.0 429.4L213.8 428.7L214.7 428.1L215.6 427.4M214.3 429.5L215.6 427.4L213.2 428.0M232.8 434.4L233.3 433.3L233.8 432.3L234.4 431.2L234.9 430.1L235.5 429.1L236.0 428.1L236.6 427.1L237.2 426.0M236.9 428.7L237.2 426.0L235.1 427.6M257.6 436.1L257.5 434.6L257.6 433.1L257.6 431.6L257.7 430.1L257.8 428.7L258.0 427.2L258.2 425.7L258.4 424.2M259.2 427.4L258.4 424.2L256.6 427.1M281.8 437.5L281.4 435.7L281.1 433.9L280.8 432.0L280.5 430.1L280.3 428.3L280.0 426.4L279.9 424.6L279.7 422.7M281.7 426.4L279.7 422.7L278.4 426.7M305.5 438.4L304.9 436.4L304.3 434.3L303.8 432.2L303.3 430.1L302.8 428.1L302.4 426.0L302.0 423.9L301.6 421.8M304.0 425.4L301.6 421.8L300.7 425.9M329.0 439.1L328.3 436.9L327.5 434.6L326.8 432.4L326.1 430.1L325.5 427.9L324.8 425.6L324.3 423.3L323.7 421.0M326.3 424.5L323.7 421.0L323.0 425.3M352.6 439.7L351.6 437.4L350.7 435.0L349.8 432.6L348.9 430.1L348.1 427.7L347.3 425.3L346.5 422.8L345.8 420.3M348.5 423.7L345.8 420.3L345.3 424.6M374.7 439.7L373.9 437.3L373.2 434.9L372.4 432.6L371.7 430.1L371.0 427.7L370.3 425.3L369.7 422.9L369.0 420.5M371.7 423.9L369.0 420.5L368.4 424.7M396.6 439.5L396.1 437.1L395.5 434.8L395.0 432.5L394.5 430.1L394.0 427.8L393.5 425.5L393.0 423.1L392.6 420.8M395.0 424.3L392.6 420.8L391.7 425.0M418.5 439.2L418.2 436.9L417.9 434.7L417.6 432.4L417.3 430.1L417.0 427.9L416.7 425.6L416.4 423.4L416.1 421.1M418.3 424.8L416.1 421.1L415.0 425.2M442.3 439.1L441.7 436.9L441.1 434.7L440.6 432.4L440.1 430.1L439.6 427.9L439.1 425.6L438.7 423.4L438.3 421.1M440.6 424.7L438.3 421.1L437.3 425.3M466.1 439.1L465.2 436.9L464.4 434.6L463.6 432.4L462.9 430.1L462.2 427.9L461.5 425.6L460.9 423.3L460.2 421.1M462.9 424.4L460.2 421.1L459.6 425.3M489.9 438.9L488.8 436.8L487.7 434.6L486.7 432.4L485.7 430.1L484.8 427.9L483.9 425.7L483.0 423.4L482.2 421.1M485.1 424.3L482.2 421.1L481.9 425.4M513.5 437.8L512.2 435.9L510.9 434.0L509.7 432.1L508.5 430.1L507.4 428.2L506.3 426.2L505.2 424.1L504.2 422.1M507.5 424.9L504.2 422.1L504.5 426.4M537.0 436.6L535.5 435.0L534.1 433.5L532.7 431.8L531.3 430.1L530.0 428.4L528.7 426.7L527.5 424.9L526.3 423.1M529.9 425.5L526.3 423.1L527.1 427.4M560.1 435.7L558.6 434.4L557.1 433.0L555.6 431.6L554.1 430.1L552.6 428.7L551.2 427.3L549.8 425.8L548.4 424.3M552.3 426.1L548.4 424.3L549.8 428.3M581.7 435.9L580.5 434.5L579.3 433.0L578.1 431.6L576.9 430.1L575.8 428.7L574.6 427.2L573.5 425.7L572.5 424.1M576.0 426.3L572.5 424.1L573.3 428.2M603.2 436.1L602.2 434.6L601.4 433.1L600.5 431.7L599.7 430.1L598.9 428.6L598.1 427.1L597.4 425.6L596.7 424.0M599.5 426.6L596.7 424.0L596.8 427.8M624.1 436.0L623.7 434.5L623.3 433.1L622.9 431.6L622.5 430.1L622.1 428.7L621.8 427.2L621.4 425.7L621.1 424.3M623.1 427.0L621.1 424.3L620.5 427.6M644.2 434.6L644.5 433.5L644.8 432.4L645.0 431.3L645.3 430.1L645.6 429.0L645.8 427.9L646.1 426.8L646.3 425.7M646.8 428.2L646.3 425.7L644.8 427.8M664.8 432.1L665.6 431.6L666.4 431.1L667.3 430.6L668.1 430.1L669.0 429.7L669.8 429.3L670.7 428.8L671.6 428.4M670.1 430.0L671.6 428.4L669.4 428.5M150.5 453.1L151.7 452.2L152.9 451.3L154.1 450.4L155.3 449.5L156.5 448.7L157.7 447.7L158.8 446.8L160.0 445.9M158.4 448.8L160.0 445.9L156.8 446.8M174.6 452.9L175.5 452.1L176.3 451.3L177.2 450.4L178.1 449.5L179.0 448.7L179.8 447.8L180.7 447.0L181.6 446.1M180.6 448.6L181.6 446.1L179.0 447.1M199.0 453.0L199.4 452.1L199.9 451.3L200.4 450.4L200.9 449.5L201.4 448.7L201.9 447.9L202.5 447.0L203.0 446.2M202.6 448.4L203.0 446.2L201.2 447.4M223.9 453.0L223.8 452.1L223.7 451.3L223.7 450.4L223.7 449.5L223.7 448.7L223.8 447.8L223.9 447.0L224.1 446.1M224.5 448.0L224.1 446.1L223.0 447.8M247.8 454.6L247.4 453.4L247.1 452.1L246.8 450.8L246.5 449.5L246.3 448.3L246.1 447.0L245.9 445.7L245.8 444.4M247.2 447.0L245.8 444.4L244.9 447.2M271.4 456.2L270.9 454.6L270.3 452.9L269.8 451.2L269.3 449.5L268.8 447.9L268.4 446.2L268.0 444.4L267.7 442.7M269.9 446.0L267.7 442.7L266.9 446.6M295.1 457.7L294.3 455.7L293.5 453.7L292.8 451.6L292.1 449.5L291.4 447.5L290.8 445.4L290.2 443.3L289.6 441.2M292.3 444.6L289.6 441.2L289.0 445.5M318.8 458.7L317.8 456.4L316.8 454.1L315.8 451.9L314.9 449.5L314.0 447.2L313.1 444.9L312.3 442.6L311.5 440.2M314.4 443.4L311.5 440.2L311.2 444.5M342.5 459.7L341.3 457.2L340.0 454.6L338.9 452.1L337.7 449.5L336.6 447.0L335.5 444.4L334.5 441.8L333.5 439.2M336.4 442.3L333.5 439.2L333.3 443.5M365.4 460.3L364.1 457.6L362.9 454.9L361.7 452.2L360.5 449.5L359.3 446.8L358.2 444.1L357.0 441.4L355.9 438.7M359.0 441.7L355.9 438.7L355.9 443.0M386.9 460.0L386.0 457.4L385.1 454.8L384.2 452.2L383.3 449.5L382.4 446.9L381.6 444.3L380.7 441.7L379.9 439.0M382.7 442.3L379.9 439.0L379.5 443.3M408.4 459.6L407.8 457.1L407.2 454.6L406.7 452.1L406.1 449.5L405.5 447.0L405.0 444.5L404.5 442.0L403.9 439.4M406.4 443.0L403.9 439.4L403.1 443.7M431.2 459.4L430.6 457.0L430.0 454.5L429.4 452.0L428.9 449.5L428.4 447.1L427.9 444.6L427.4 442.1L426.9 439.6M429.3 443.2L426.9 439.6L426.0 443.8M455.5 459.3L454.5 456.9L453.5 454.5L452.6 452.0L451.7 449.5L450.8 447.1L450.0 444.6L449.2 442.1L448.4 439.6M451.2 442.9L448.4 439.6L448.0 443.8M479.7 459.2L478.4 456.8L477.0 454.4L475.7 452.0L474.5 449.5L473.3 447.1L472.1 444.6L471.0 442.1L469.9 439.6M473.0 442.6L469.9 439.6L469.9 443.9M503.5 458.0L501.9 456.0L500.3 453.9L498.8 451.7L497.3 449.5L495.9 447.3L494.5 445.1L493.1 442.9L491.8 440.6M495.2 443.2L491.8 440.6L492.3 444.8M526.9 455.9L525.1 454.4L523.4 452.8L521.7 451.2L520.1 449.5L518.5 447.8L517.0 446.1L515.5 444.3L514.0 442.5M517.8 444.5L514.0 442.5L515.2 446.6M550.1 453.6L548.3 452.7L546.4 451.7L544.7 450.7L542.9 449.5L541.2 448.4L539.5 447.2L537.9 445.9L536.3 444.6M540.4 445.8L536.3 444.6L538.3 448.4M572.0 452.7L570.4 451.9L568.8 451.2L567.3 450.4L565.7 449.5L564.1 448.7L562.6 447.8L561.1 446.9L559.6 446.0M563.5 446.6L559.6 446.0L561.9 449.2M593.6 452.0L592.3 451.4L591.0 450.8L589.8 450.2L588.5 449.5L587.3 448.9L586.0 448.1L584.8 447.4L583.7 446.6M586.8 447.2L583.7 446.6L585.4 449.3M615.1 451.3L614.2 450.9L613.2 450.5L612.2 450.1L611.3 449.5L610.4 449.0L609.5 448.4L608.6 447.8L607.8 447.2M610.1 447.8L607.8 447.2L609.0 449.3M635.1 452.4L634.8 451.7L634.5 451.0L634.3 450.3L634.1 449.5L633.9 448.8L633.8 448.1L633.6 447.3L633.5 446.6M634.6 448.2L633.5 446.6L633.0 448.5M653.7 449.8L654.5 449.7L655.3 449.6L656.1 449.6L656.9 449.5L657.7 449.5L658.5 449.5L659.3 449.5L660.1 449.5M658.3 450.3L660.1 449.5L658.3 448.7M675.9 449.2L676.9 449.3L677.8 449.4L678.8 449.5L679.7 449.5L680.6 449.7L681.6 449.8L682.5 449.9L683.5 450.0M681.4 450.6L683.5 450.0L681.6 448.9M162.3 472.0L163.3 471.2L164.4 470.5L165.5 469.7L166.5 468.9L167.5 468.2L168.5 467.3L169.6 466.5L170.5 465.7M169.2 468.3L170.5 465.7L167.8 466.5M187.6 472.4L188.0 471.5L188.5 470.7L188.9 469.8L189.3 468.9L189.7 468.1L190.1 467.2L190.6 466.4L191.0 465.5M190.9 467.6L191.0 465.5L189.4 466.9M213.9 471.7L213.4 471.0L213.0 470.4L212.5 469.7L212.1 468.9L211.7 468.2L211.4 467.5L211.0 466.7L210.8 465.9M212.1 467.4L210.8 465.9L210.7 467.9M237.7 472.5L237.0 471.6L236.3 470.8L235.6 469.9L234.9 468.9L234.2 468.0L233.6 467.1L232.9 466.2L232.3 465.2M234.4 466.6L232.3 465.2L232.8 467.7M260.9 474.5L260.1 473.1L259.3 471.7L258.5 470.4L257.7 468.9L256.9 467.5L256.2 466.1L255.5 464.7L254.8 463.2M257.5 465.6L254.8 463.2L254.9 466.8M284.1 476.5L283.2 474.6L282.3 472.7L281.4 470.8L280.5 468.9L279.6 467.0L278.8 465.1L278.0 463.2L277.2 461.3M280.2 464.3L277.2 461.3L277.1 465.6M307.9 477.9L306.7 475.7L305.6 473.5L304.4 471.2L303.3 468.9L302.2 466.7L301.2 464.4L300.1 462.1L299.1 459.7M302.2 462.7L299.1 459.7L299.1 464.0M331.9 479.2L330.4 476.7L328.9 474.1L327.5 471.5L326.1 468.9L324.7 466.3L323.4 463.7L322.1 461.1L320.9 458.4M324.1 461.3L320.9 458.4L321.0 462.7M355.8 480.5L354.0 477.6L352.3 474.8L350.6 471.9L348.9 468.9L347.3 466.0L345.7 463.0L344.1 460.1L342.6 457.1M345.9 459.9L342.6 457.1L342.9 461.4M377.4 480.5L375.9 477.6L374.4 474.8L373.1 471.9L371.7 468.9L370.4 466.0L369.0 463.1L367.7 460.2L366.4 457.3M369.5 460.2L366.4 457.3L366.5 461.6M398.6 480.1L397.4 477.3L396.4 474.6L395.4 471.8L394.5 468.9L393.6 466.1L392.7 463.3L391.7 460.5L390.8 457.7M393.6 460.9L390.8 457.7L390.5 462.0M419.7 479.6L419.0 477.0L418.3 474.3L417.8 471.6L417.3 468.9L416.8 466.3L416.3 463.6L415.8 460.9L415.3 458.2M417.7 461.8L415.3 458.2L414.4 462.4M444.3 479.5L443.1 476.9L442.0 474.3L441.0 471.6L440.1 468.9L439.2 466.3L438.4 463.5L437.5 460.8L436.8 458.1M439.5 461.4L436.8 458.1L436.2 462.4M469.0 479.3L467.3 476.8L465.7 474.2L464.3 471.6L462.9 468.9L461.6 466.3L460.3 463.6L459.0 460.8L457.8 458.1M460.9 461.0L457.8 458.1L457.9 462.4M493.6 478.9L491.4 476.5L489.4 474.1L487.5 471.5L485.7 468.9L483.9 466.3L482.2 463.7L480.5 461.0L478.9 458.2M482.4 460.8L478.9 458.2L479.5 462.5M516.6 476.0L514.5 474.4L512.4 472.6L510.4 470.8L508.5 468.9L506.6 467.0L504.8 465.0L503.0 463.0L501.3 460.9M505.1 462.9L501.3 460.9L502.6 465.1M539.5 472.8L537.4 472.0L535.3 471.1L533.3 470.0L531.3 468.9L529.3 467.8L527.4 466.6L525.6 465.3L523.8 463.9M527.9 464.9L523.8 463.9L525.9 467.6M561.7 470.1L559.8 469.9L557.9 469.6L556.0 469.3L554.1 468.9L552.2 468.6L550.3 468.1L548.5 467.7L546.6 467.1M550.9 466.6L546.6 467.1L549.9 469.8M582.8 468.5L581.3 468.6L579.8 468.8L578.4 468.9L576.9 468.9L575.4 469.0L573.9 469.0L572.5 469.0L571.0 468.9M574.1 467.7L571.0 468.9L574.0 470.3M603.4 466.6L602.5 467.2L601.6 467.8L600.6 468.4L599.7 468.9L598.8 469.5L597.8 470.1L596.9 470.7L595.9 471.2M597.4 469.2L595.9 471.2L598.4 470.9M623.7 465.5L623.4 466.3L623.1 467.2L622.8 468.1L622.5 468.9L622.2 469.8L622.0 470.7L621.7 471.6L621.4 472.5M621.2 470.4L621.4 472.5L622.7 470.9M644.2 465.8L644.5 466.6L644.7 467.4L645.0 468.2L645.3 468.9L645.6 469.7L645.8 470.5L646.1 471.3L646.4 472.1M645.0 470.6L646.4 472.1L646.5 470.1M665.1 467.0L665.9 467.5L666.6 468.0L667.3 468.5L668.1 468.9L668.9 469.4L669.6 469.9L670.4 470.4L671.1 470.8M669.2 470.6L671.1 470.8L670.0 469.2M152.2 492.5L152.9 491.4L153.7 490.4L154.5 489.3L155.3 488.3L156.1 487.4L157.0 486.4L157.9 485.4L158.8 484.5M157.8 487.2L158.8 484.5L156.1 485.7M177.2 492.9L177.4 491.7L177.6 490.6L177.8 489.5L178.1 488.3L178.4 487.2L178.7 486.1L179.1 485.0L179.4 484.0M179.6 486.5L179.4 484.0L177.7 485.9M202.3 492.6L201.9 491.6L201.6 490.5L201.2 489.4L200.9 488.3L200.6 487.3L200.3 486.2L200.0 485.1L199.8 484.0M201.3 486.0L199.8 484.0L199.3 486.5M226.5 492.5L225.8 491.4L225.1 490.4L224.4 489.4L223.7 488.3L223.0 487.3L222.2 486.3L221.5 485.4L220.7 484.4M223.1 485.7L220.7 484.4L221.4 487.1M250.0 494.0L249.2 492.6L248.3 491.2L247.4 489.8L246.5 488.3L245.6 486.9L244.7 485.5L243.8 484.1L242.9 482.8M246.0 484.8L242.9 482.8L243.5 486.4M273.6 495.5L272.5 493.7L271.4 492.0L270.4 490.2L269.3 488.3L268.2 486.5L267.2 484.7L266.1 482.9L265.1 481.1M268.5 483.7L265.1 481.1L265.6 485.4M297.4 496.9L296.0 494.8L294.7 492.7L293.4 490.5L292.1 488.3L290.9 486.2L289.6 484.0L288.4 481.8L287.3 479.5M290.6 482.3L287.3 479.5L287.6 483.8M321.4 497.9L319.7 495.6L318.1 493.2L316.5 490.8L314.9 488.3L313.4 485.9L311.9 483.4L310.4 480.9L309.0 478.4M312.4 481.0L309.0 478.4L309.5 482.7M345.4 499.0L343.4 496.4L341.5 493.7L339.6 491.0L337.7 488.3L335.9 485.6L334.1 482.9L332.4 480.1L330.7 477.3M334.2 479.8L330.7 477.3L331.3 481.5M368.7 499.5L366.6 496.8L364.5 494.0L362.5 491.2L360.5 488.3L358.6 485.5L356.7 482.6L354.8 479.7L353.0 476.7M356.5 479.2L353.0 476.7L353.6 481.0M390.6 499.0L388.7 496.4L386.8 493.7L385.0 491.1L383.3 488.3L381.6 485.6L380.0 482.8L378.5 480.0L377.0 477.1M380.3 479.8L377.0 477.1L377.4 481.4M412.5 498.4L410.8 496.0L409.1 493.5L407.6 491.0L406.1 488.3L404.7 485.7L403.4 483.0L402.2 480.3L401.1 477.5M404.2 480.6L401.1 477.5L401.0 481.8M435.6 497.8L433.7 495.6L432.0 493.2L430.4 490.8L428.9 488.3L427.5 485.8L426.3 483.2L425.2 480.5L424.2 477.8M427.1 480.9L424.2 477.8L424.0 482.1M459.7 497.3L457.6 495.2L455.5 493.0L453.6 490.7L451.7 488.3L449.9 485.9L448.3 483.4L446.8 480.8L445.4 478.1M448.7 480.8L445.4 478.1L445.7 482.4M483.8 496.8L481.4 494.8L479.0 492.7L476.7 490.6L474.5 488.3L472.4 486.0L470.4 483.6L468.4 481.1L466.6 478.5M470.3 480.8L466.6 478.5L467.5 482.8M506.8 495.0L504.4 493.4L501.9 491.8L499.6 490.1L497.3 488.3L495.1 486.5L492.9 484.5L490.9 482.5L488.9 480.4M492.8 482.1L488.9 480.4L490.4 484.4M528.8 492.0L526.6 491.2L524.4 490.3L522.2 489.4L520.1 488.3L518.0 487.2L516.0 486.1L514.0 484.8L512.1 483.5M516.3 484.3L512.1 483.5L514.4 487.1M550.4 488.8L548.5 488.8L546.6 488.7L544.8 488.6L542.9 488.3L541.0 488.1L539.2 487.7L537.4 487.3L535.5 486.8M539.7 486.2L535.5 486.8L538.9 489.4M571.6 487.1L570.1 487.5L568.7 487.8L567.2 488.1L565.7 488.3L564.2 488.6L562.7 488.8L561.2 489.0L559.7 489.2M562.7 487.5L559.7 489.2L563.0 490.1M592.5 485.7L591.5 486.4L590.5 487.1L589.5 487.7L588.5 488.3L587.5 489.0L586.5 489.6L585.4 490.2L584.4 490.7M586.0 488.6L584.4 490.7L587.0 490.5M612.9 484.7L612.5 485.6L612.1 486.6L611.7 487.5L611.3 488.3L610.9 489.2L610.5 490.1L610.0 491.0L609.6 491.9M609.7 489.7L609.6 491.9L611.3 490.5M634.0 484.9L634.0 485.8L634.0 486.6L634.1 487.5L634.1 488.3L634.1 489.2L634.2 490.1L634.2 490.9L634.2 491.8M633.4 490.0L634.2 491.8L634.9 489.9M654.9 485.8L655.4 486.4L655.9 487.1L656.4 487.7L656.9 488.3L657.4 489.0L658.0 489.6L658.5 490.2L659.1 490.8M657.2 490.0L659.1 490.8L658.4 488.9M676.3 487.0L677.1 487.4L678.0 487.7L678.8 488.0L679.7 488.3L680.6 488.6L681.4 488.9L682.3 489.2L683.2 489.4M681.2 489.7L683.2 489.4L681.6 488.2M167.4 512.7L167.1 511.5L166.9 510.3L166.7 509.0L166.5 507.7L166.4 506.5L166.3 505.2L166.3 504.0L166.3 502.7M167.4 505.3L166.3 502.7L165.2 505.3M191.1 513.0L190.6 511.7L190.2 510.4L189.7 509.1L189.3 507.7L188.9 506.4L188.5 505.1L188.2 503.7L187.8 502.4M189.7 504.9L187.8 502.4L187.3 505.5M214.7 513.3L214.0 511.9L213.4 510.5L212.8 509.1L212.1 507.7L211.4 506.4L210.8 505.0L210.2 503.6L209.5 502.2M212.1 504.5L209.5 502.2L209.6 505.6M238.4 514.1L237.6 512.5L236.7 510.9L235.8 509.3L234.9 507.7L234.0 506.2L233.1 504.6L232.2 503.0L231.3 501.4M234.5 503.9L231.3 501.4L231.8 505.5M262.4 515.1L261.2 513.3L260.0 511.4L258.9 509.6L257.7 507.7L256.5 505.9L255.4 504.0L254.3 502.2L253.1 500.3M256.6 502.8L253.1 500.3L253.8 504.6M286.3 516.1L284.8 514.0L283.4 512.0L281.9 509.9L280.5 507.7L279.1 505.6L277.7 503.5L276.3 501.4L275.0 499.2M278.5 501.7L275.0 499.2L275.7 503.5M310.4 516.8L308.6 514.6L306.8 512.3L305.0 510.1L303.3 507.7L301.6 505.4L299.9 503.1L298.3 500.7L296.7 498.3M300.3 500.7L296.7 498.3L297.5 502.5M334.5 517.5L332.3 515.1L330.2 512.7L328.1 510.2L326.1 507.7L324.1 505.2L322.1 502.7L320.2 500.1L318.4 497.5M322.0 499.7L318.4 497.5L319.3 501.7M358.5 518.2L356.1 515.6L353.6 513.0L351.2 510.4L348.9 507.7L346.6 505.0L344.4 502.3L342.1 499.5L340.0 496.7M343.7 498.8L340.0 496.7L341.1 500.9M381.4 517.6L378.9 515.2L376.5 512.8L374.0 510.3L371.7 507.7L369.4 505.1L367.2 502.5L365.0 499.8L362.8 497.1M366.6 499.2L362.8 497.1L364.0 501.2M404.0 516.8L401.6 514.7L399.1 512.4L396.8 510.1L394.5 507.7L392.3 505.3L390.1 502.8L388.0 500.3L386.0 497.6M389.8 499.7L386.0 497.6L387.1 501.8M426.7 516.0L424.2 514.1L421.8 512.1L419.5 509.9L417.3 507.7L415.2 505.5L413.1 503.1L411.1 500.7L409.2 498.2M412.9 500.3L409.2 498.2L410.3 502.4M450.3 515.2L447.6 513.4L445.1 511.6L442.5 509.7L440.1 507.7L437.7 505.7L435.5 503.5L433.3 501.2L431.2 498.9M435.1 500.7L431.2 498.9L432.5 502.9M473.9 514.3L471.0 512.8L468.3 511.2L465.6 509.5L462.9 507.7L460.3 505.9L457.8 503.9L455.3 501.9L453.0 499.7M457.0 501.1L453.0 499.7L454.8 503.6M497.4 513.3L494.4 512.1L491.4 510.7L488.5 509.3L485.7 507.7L482.9 506.1L480.2 504.4L477.5 502.6L474.9 500.7M479.1 501.6L474.9 500.7L477.1 504.4M518.3 510.7L515.8 510.1L513.4 509.4L510.9 508.6L508.5 507.7L506.1 506.8L503.8 505.8L501.4 504.7L499.1 503.6M503.4 503.8L499.1 503.6L501.9 506.8M539.1 507.7L537.1 507.8L535.2 507.9L533.2 507.9L531.3 507.7L529.4 507.6L527.4 507.3L525.5 507.0L523.6 506.7M527.8 505.8L523.6 506.7L527.2 509.1M559.6 505.5L558.2 506.1L556.8 506.6L555.5 507.2L554.1 507.7L552.7 508.3L551.4 508.9L550.0 509.4L548.6 509.9M551.0 507.7L548.6 509.9L551.9 510.1M580.8 504.8L579.8 505.5L578.8 506.3L577.9 507.0L576.9 507.7L575.9 508.5L575.0 509.2L574.0 510.0L573.0 510.7M574.4 508.3L573.0 510.7L575.7 510.0M601.8 504.2L601.3 505.1L600.8 506.0L600.2 506.9L599.7 507.7L599.2 508.6L598.6 509.5L598.1 510.4L597.6 511.3M597.9 509.0L597.6 511.3L599.4 509.9M623.0 504.2L622.9 505.1L622.7 506.0L622.6 506.9L622.5 507.7L622.4 508.6L622.3 509.5L622.2 510.4L622.0 511.3M621.5 509.3L622.0 511.3L623.1 509.5M644.2 504.9L644.4 505.6L644.7 506.3L645.0 507.0L645.3 507.7L645.6 508.5L645.9 509.2L646.2 509.9L646.6 510.6M645.1 509.2L646.6 510.6L646.5 508.6M665.4 506.2L666.1 506.6L666.7 507.0L667.4 507.4L668.1 507.7L668.8 508.1L669.5 508.5L670.2 508.8L670.9 509.1M668.9 509.1L670.9 509.1L669.6 507.7M158.5 531.6L157.7 530.5L156.8 529.4L156.1 528.3L155.3 527.1L154.6 526.0L153.9 524.8L153.2 523.7L152.5 522.5M154.9 524.4L152.5 522.5L152.8 525.5M181.2 532.7L180.4 531.3L179.6 529.9L178.9 528.5L178.1 527.1L177.4 525.8L176.6 524.3L175.9 522.9L175.3 521.5M177.9 523.9L175.3 521.5L175.4 525.0M203.9 533.7L203.2 532.1L202.4 530.4L201.7 528.8L200.9 527.1L200.2 525.5L199.4 523.8L198.7 522.2L197.9 520.5M200.9 523.3L197.9 520.5L198.0 524.6M226.9 534.7L226.1 532.8L225.3 530.9L224.5 529.0L223.7 527.1L222.9 525.3L222.1 523.4L221.3 521.5L220.5 519.6M223.6 522.6L220.5 519.6L220.5 523.9M251.2 535.2L250.0 533.2L248.8 531.2L247.7 529.2L246.5 527.1L245.3 525.1L244.2 523.1L243.1 521.0L241.9 519.0M245.3 521.6L241.9 519.0L242.4 523.3M275.5 535.7L273.9 533.6L272.3 531.4L270.8 529.3L269.3 527.1L267.8 525.0L266.3 522.8L264.9 520.6L263.4 518.4M267.0 520.8L263.4 518.4L264.2 522.6M299.7 536.1L297.8 533.9L295.8 531.7L294.0 529.4L292.1 527.1L290.3 524.9L288.5 522.5L286.7 520.2L285.0 517.8M288.7 520.0L285.0 517.8L286.0 522.0M323.8 536.4L321.6 534.1L319.3 531.8L317.1 529.5L314.9 527.1L312.8 524.8L310.6 522.3L308.6 519.9L306.5 517.4M310.3 519.4L306.5 517.4L307.7 521.5M348.0 536.7L345.3 534.4L342.8 532.0L340.2 529.6L337.7 527.1L335.2 524.7L332.8 522.1L330.4 519.6L328.1 517.0M332.0 518.8L328.1 517.0L329.5 521.0M371.9 536.4L369.0 534.2L366.1 531.9L363.3 529.6L360.5 527.1L357.8 524.7L355.1 522.1L352.5 519.6L350.0 516.9M353.9 518.6L350.0 516.9L351.5 520.9M395.1 535.3L392.1 533.4L389.1 531.4L386.2 529.3L383.3 527.1L380.5 524.9L377.7 522.6L375.0 520.2L372.4 517.8M376.5 519.2L372.4 517.8L374.2 521.7M418.3 534.3L415.2 532.6L412.1 530.9L409.1 529.1L406.1 527.1L403.2 525.1L400.3 523.1L397.6 520.9L394.8 518.6M399.0 519.9L394.8 518.6L396.8 522.5M441.4 533.2L438.2 531.8L435.1 530.4L432.0 528.8L428.9 527.1L425.9 525.4L422.9 523.6L420.0 521.7L417.2 519.6M421.4 520.6L417.2 519.6L419.5 523.3M464.5 532.1L461.3 531.0L458.0 529.8L454.9 528.5L451.7 527.1L448.6 525.7L445.5 524.2L442.5 522.6L439.5 520.9M443.8 521.4L439.5 520.9L442.1 524.3M487.6 530.9L484.3 530.1L481.0 529.2L477.7 528.2L474.5 527.1L471.3 526.0L468.1 524.8L465.0 523.5L461.9 522.1M466.2 522.2L461.9 522.1L464.8 525.2M509.0 528.9L506.0 528.6L503.1 528.2L500.2 527.7L497.3 527.1L494.4 526.5L491.6 525.7L488.7 524.9L485.9 524.0M490.2 523.6L485.9 524.0L489.2 526.8M528.8 526.3L526.6 526.6L524.5 526.9L522.3 527.1L520.1 527.1L517.9 527.2L515.7 527.1L513.5 527.0L511.4 526.9M515.4 525.5L511.4 526.9L515.2 528.8M548.1 523.7L546.8 524.6L545.5 525.5L544.2 526.3L542.9 527.1L541.6 527.9L540.2 528.7L538.8 529.4L537.4 530.1M539.7 527.4L537.4 530.1L540.9 529.9M568.9 523.3L568.1 524.2L567.3 525.2L566.5 526.2L565.7 527.1L564.9 528.1L564.2 529.2L563.4 530.2L562.7 531.2M563.3 528.4L562.7 531.2L565.1 529.7M590.5 523.3L590.0 524.3L589.5 525.2L589.0 526.2L588.5 527.1L588.0 528.1L587.5 529.1L587.1 530.1L586.6 531.0M586.7 528.6L586.6 531.0L588.4 529.4M612.1 523.5L611.9 524.4L611.7 525.3L611.5 526.2L611.3 527.1L611.1 528.1L610.9 529.0L610.7 529.9L610.6 530.8M610.1 528.7L610.6 530.8L611.7 529.1M633.6 524.1L633.7 524.9L633.8 525.6L634.0 526.4L634.1 527.1L634.2 527.9L634.4 528.7L634.5 529.4L634.7 530.2M633.5 528.5L634.7 530.2L635.1 528.2M654.9 525.2L655.4 525.7L655.9 526.2L656.4 526.7L656.9 527.1L657.4 527.6L658.0 528.1L658.5 528.5L659.1 528.9M657.1 528.4L659.1 528.9L658.1 527.2M676.7 526.6L677.4 526.8L678.2 526.9L678.9 527.0L679.7 527.1L680.5 527.2L681.2 527.3L682.0 527.4L682.8 527.5M680.9 528.1L682.8 527.5L681.0 526.5M170.8 551.6L169.7 550.4L168.7 549.1L167.6 547.8L166.5 546.5L165.4 545.3L164.3 544.0L163.2 542.8L162.1 541.5M165.5 543.1L162.1 541.5L163.3 545.1M193.3 553.1L192.3 551.5L191.3 549.8L190.3 548.2L189.3 546.5L188.3 544.9L187.3 543.3L186.3 541.6L185.3 540.0M188.8 542.5L185.3 540.0L185.9 544.2M215.8 554.5L214.9 552.5L213.9 550.5L213.0 548.5L212.1 546.5L211.2 544.5L210.3 542.5L209.4 540.5L208.5 538.5M211.6 541.5L208.5 538.5L208.6 542.8M239.6 555.1L238.4 553.0L237.2 550.9L236.0 548.7L234.9 546.5L233.8 544.4L232.7 542.2L231.7 540.0L230.7 537.7M233.9 540.6L230.7 537.7L230.8 542.0M263.8 555.3L262.3 553.2L260.7 551.0L259.2 548.8L257.7 546.5L256.2 544.3L254.8 542.1L253.4 539.8L252.0 537.5M255.5 540.0L252.0 537.5L252.6 541.8M288.1 555.5L286.2 553.3L284.2 551.0L282.4 548.8L280.5 546.5L278.7 544.3L276.8 542.0L275.1 539.7L273.3 537.3M277.0 539.5L273.3 537.3L274.3 541.5M312.3 555.4L310.0 553.2L307.7 551.0L305.5 548.8L303.3 546.5L301.1 544.3L299.0 541.9L296.8 539.6L294.7 537.3M298.6 539.1L294.7 537.3L296.1 541.3M336.5 555.3L333.8 553.2L331.2 551.0L328.6 548.8L326.1 546.5L323.6 544.3L321.1 541.9L318.7 539.6L316.3 537.2M320.3 538.8L316.3 537.2L317.9 541.2M360.6 555.1L357.6 553.1L354.7 551.0L351.8 548.8L348.9 546.5L346.1 544.3L343.3 541.9L340.5 539.6L337.8 537.2M341.9 538.5L337.8 537.2L339.7 541.1M384.3 554.0L381.1 552.3L377.9 550.4L374.8 548.5L371.7 546.5L368.7 544.5L365.7 542.4L362.7 540.2L359.9 538.0M364.0 539.1L359.9 538.0L361.9 541.7M407.7 552.8L404.3 551.4L401.0 549.8L397.7 548.2L394.5 546.5L391.3 544.8L388.1 543.0L385.0 541.1L381.9 539.1M386.2 539.8L381.9 539.1L384.4 542.7M431.1 551.6L427.6 550.5L424.1 549.2L420.7 547.9L417.3 546.5L413.9 545.1L410.6 543.6L407.3 542.0L404.0 540.3M408.3 540.6L404.0 540.3L406.8 543.6M453.7 550.3L450.3 549.4L446.9 548.5L443.5 547.6L440.1 546.5L436.7 545.5L433.4 544.3L430.1 543.1L426.8 541.8M431.1 541.6L426.8 541.8L429.9 544.8M476.3 548.9L473.0 548.4L469.6 547.8L466.2 547.2L462.9 546.5L459.6 545.8L456.3 545.0L453.0 544.1L449.7 543.2M454.0 542.7L449.7 543.2L453.0 545.9M498.8 547.4L495.5 547.3L492.2 547.1L489.0 546.9L485.7 546.5L482.4 546.2L479.2 545.7L476.0 545.2L472.7 544.7M476.9 543.7L472.7 544.7L476.4 547.0M518.3 545.3L515.9 545.7L513.4 546.0L511.0 546.3L508.5 546.5L506.0 546.7L503.6 546.8L501.1 546.8L498.6 546.8M502.6 545.2L498.6 546.8L502.6 548.5M537.3 543.0L535.9 544.0L534.4 544.9L532.9 545.8L531.3 546.5L529.7 547.3L528.1 548.0L526.5 548.6L524.9 549.2M527.7 546.6L524.9 549.2L528.8 549.4M556.5 542.0L555.9 543.2L555.3 544.3L554.7 545.4L554.1 546.5L553.5 547.7L552.9 548.8L552.3 549.9L551.6 551.1M551.9 548.2L551.6 551.1L553.9 549.3M578.6 542.4L578.1 543.4L577.7 544.5L577.3 545.5L576.9 546.5L576.5 547.6L576.1 548.6L575.6 549.7L575.2 550.7M575.2 548.2L575.2 550.7L577.0 548.9M600.6 542.8L600.4 543.8L600.1 544.7L599.9 545.6L599.7 546.5L599.5 547.5L599.3 548.4L599.0 549.3L598.8 550.3M598.5 548.2L598.8 550.3L600.1 548.5M622.5 543.3L622.5 544.1L622.5 544.9L622.5 545.7L622.5 546.5L622.5 547.4L622.5 548.2L622.5 549.0L622.5 549.8M621.7 547.9L622.5 549.8L623.3 547.9M644.0 544.1L644.3 544.7L644.6 545.3L645.0 545.9L645.3 546.5L645.6 547.1L646.0 547.7L646.3 548.3L646.7 548.9M645.1 547.8L646.7 548.9L646.4 546.9M665.6 545.4L666.2 545.7L666.8 546.0L667.5 546.3L668.1 546.5L668.7 546.8L669.4 547.0L670.0 547.3L670.7 547.5M668.7 547.6L670.7 547.5L669.2 546.2M160.3 570.3L159.1 569.2L157.8 568.1L156.6 567.0L155.3 565.9L154.0 564.9L152.8 563.8L151.5 562.7L150.3 561.6M153.8 562.8L150.3 561.6L151.9 565.0M183.0 571.9L181.8 570.4L180.5 568.9L179.3 567.4L178.1 565.9L176.9 564.5L175.6 563.0L174.4 561.6L173.2 560.1M177.0 562.0L173.2 560.1L174.4 564.2M205.6 573.4L204.4 571.5L203.2 569.7L202.1 567.8L200.9 565.9L199.7 564.1L198.6 562.2L197.4 560.4L196.2 558.5M199.8 561.0L196.2 558.5L196.9 562.8M228.6 574.6L227.3 572.4L226.1 570.3L224.9 568.1L223.7 565.9L222.6 563.8L221.5 561.5L220.4 559.3L219.3 557.1M222.5 559.9L219.3 557.1L219.5 561.4M252.6 574.6L251.0 572.5L249.5 570.3L248.0 568.1L246.5 565.9L245.0 563.7L243.6 561.5L242.2 559.2L240.8 557.0M244.3 559.5L240.8 557.0L241.5 561.2M276.6 574.7L274.7 572.5L272.9 570.4L271.1 568.2L269.3 565.9L267.5 563.7L265.8 561.5L264.1 559.2L262.4 556.9M266.1 559.1L262.4 556.9L263.4 561.1M300.7 574.5L298.5 572.4L296.3 570.3L294.2 568.1L292.1 565.9L290.0 563.7L288.0 561.5L286.0 559.2L284.0 556.9M287.8 558.8L284.0 556.9L285.3 561.0M324.9 574.0L322.3 572.0L319.8 570.0L317.3 568.0L314.9 565.9L312.5 563.8L310.1 561.7L307.8 559.5L305.5 557.3M309.5 558.8L305.5 557.3L307.2 561.3M349.0 573.4L346.1 571.6L343.3 569.8L340.5 567.9L337.7 565.9L335.0 564.0L332.3 561.9L329.6 559.8L327.0 557.7M331.1 558.9L327.0 557.7L329.0 561.5M372.9 572.5L369.7 570.9L366.6 569.4L363.5 567.7L360.5 565.9L357.5 564.1L354.5 562.3L351.6 560.3L348.7 558.3M352.9 559.2L348.7 558.3L351.0 562.0M396.2 571.2L393.0 570.0L389.7 568.7L386.5 567.4L383.3 565.9L380.1 564.5L377.0 562.9L373.9 561.3L370.9 559.6M375.2 560.0L370.9 559.6L373.5 563.0M419.5 569.8L416.1 569.0L412.8 568.0L409.4 567.0L406.1 565.9L402.8 564.8L399.5 563.6L396.3 562.3L393.1 560.9M397.4 560.9L393.1 560.9L396.1 564.0M442.2 568.5L438.9 567.9L435.5 567.3L432.2 566.7L428.9 565.9L425.6 565.2L422.3 564.3L419.0 563.4L415.8 562.4M420.1 561.9L415.8 562.4L419.1 565.2M464.3 567.0L461.2 566.8L458.0 566.6L454.8 566.3L451.7 565.9L448.6 565.5L445.4 565.1L442.3 564.6L439.2 564.0M443.4 563.1L439.2 564.0L442.8 566.4M486.3 565.5L483.4 565.7L480.4 565.8L477.5 565.9L474.5 565.9L471.5 565.9L468.6 565.9L465.6 565.8L462.7 565.6M466.7 564.2L462.7 565.6L466.5 567.5M507.2 564.2L504.7 564.7L502.2 565.1L499.8 565.6L497.3 565.9L494.8 566.3L492.3 566.6L489.8 566.9L487.4 567.2M491.1 565.1L487.4 567.2L491.5 568.4M526.8 562.9L525.2 563.7L523.5 564.5L521.8 565.2L520.1 565.9L518.4 566.6L516.6 567.3L514.9 567.9L513.1 568.5M516.2 565.7L513.1 568.5L517.3 568.8M546.1 561.9L545.4 562.9L544.6 563.9L543.7 564.9L542.9 565.9L542.0 566.9L541.2 567.9L540.3 568.9L539.4 569.8M540.4 567.1L539.4 569.8L542.1 568.7M567.4 562.0L567.0 563.0L566.5 564.0L566.1 565.0L565.7 565.9L565.3 566.9L564.9 567.9L564.4 568.9L564.0 569.9M564.0 567.5L564.0 569.9L565.7 568.2M589.5 562.4L589.3 563.3L589.0 564.2L588.8 565.1L588.5 565.9L588.2 566.8L588.0 567.7L587.7 568.6L587.5 569.5M587.2 567.5L587.5 569.5L588.8 567.9M611.6 562.8L611.6 563.6L611.5 564.4L611.4 565.2L611.3 565.9L611.2 566.7L611.1 567.5L611.0 568.3L611.0 569.1M610.4 567.2L611.0 569.1L611.9 567.4M633.5 563.2L633.6 563.9L633.8 564.6L633.9 565.3L634.1 565.9L634.3 566.6L634.4 567.3L634.6 568.0L634.8 568.6M633.6 567.1L634.8 568.6L635.1 566.7M655.0 564.1L655.5 564.5L656.0 565.0L656.4 565.5L656.9 565.9L657.4 566.4L657.9 566.9L658.4 567.3L658.8 567.8M657.0 567.1L658.8 567.8L658.0 566.0M676.9 565.1L677.6 565.3L678.3 565.5L679.0 565.7L679.7 565.9L680.4 566.1L681.1 566.3L681.8 566.5L682.5 566.7M680.5 567.0L682.5 566.7L680.9 565.5M172.1 590.5L170.7 589.2L169.3 587.9L167.9 586.6L166.5 585.3L165.1 584.1L163.7 582.8L162.2 581.6L160.8 580.3M164.9 581.6L160.8 580.3L162.7 584.1M194.8 592.1L193.5 590.4L192.1 588.7L190.7 587.0L189.3 585.3L187.9 583.7L186.5 582.0L185.1 580.3L183.7 578.6M187.5 580.6L183.7 578.6L185.0 582.8M217.6 593.6L216.2 591.6L214.8 589.5L213.5 587.4L212.1 585.3L210.7 583.3L209.4 581.2L208.0 579.1L206.7 577.0M210.2 579.4L206.7 577.0L207.4 581.3M241.1 594.1L239.5 591.9L238.0 589.7L236.4 587.6L234.9 585.3L233.4 583.1L231.9 580.9L230.5 578.6L229.1 576.3M232.6 578.8L229.1 576.3L229.7 580.6M264.9 594.0L263.1 591.9L261.3 589.7L259.5 587.5L257.7 585.3L256.0 583.1L254.2 580.9L252.5 578.7L250.9 576.4M254.6 578.6L250.9 576.4L251.9 580.6M288.7 593.9L286.6 591.8L284.5 589.7L282.5 587.5L280.5 585.3L278.5 583.2L276.5 581.0L274.6 578.7L272.7 576.5M276.5 578.4L272.7 576.5L274.0 580.6M312.9 593.1L310.4 591.2L308.0 589.3L305.6 587.3L303.3 585.3L301.0 583.3L298.7 581.2L296.5 579.1L294.3 577.0M298.3 578.5L294.3 577.0L296.0 580.9M337.0 592.0L334.2 590.4L331.5 588.8L328.8 587.1L326.1 585.3L323.5 583.5L320.9 581.7L318.3 579.8L315.8 577.8M319.9 578.9L315.8 577.8L317.9 581.6M361.0 590.9L358.0 589.6L354.9 588.3L351.9 586.9L348.9 585.3L345.9 583.8L343.0 582.2L340.2 580.5L337.3 578.7M341.6 579.4L337.3 578.7L339.8 582.2M384.4 589.6L381.2 588.6L378.0 587.6L374.8 586.5L371.7 585.3L368.6 584.1L365.5 582.8L362.5 581.4L359.4 580.0M363.7 580.2L359.4 580.0L362.3 583.2M407.6 588.2L404.3 587.6L401.0 586.9L397.7 586.2L394.5 585.3L391.3 584.5L388.1 583.5L384.9 582.5L381.7 581.4M386.0 581.1L381.7 581.4L384.9 584.3M430.6 586.7L427.3 586.5L424.0 586.2L420.6 585.8L417.3 585.3L414.0 584.8L410.7 584.3L407.4 583.6L404.1 582.9M408.3 582.1L404.1 582.9L407.6 585.4M452.3 585.1L449.3 585.3L446.2 585.4L443.2 585.4L440.1 585.3L437.0 585.3L434.0 585.1L430.9 584.9L427.9 584.6M432.0 583.3L427.9 584.6L431.7 586.6M473.8 583.5L471.1 584.1L468.4 584.5L465.6 585.0L462.9 585.3L460.2 585.7L457.4 586.0L454.7 586.2L451.9 586.4M455.7 584.5L451.9 586.4L456.0 587.8M495.2 582.2L492.8 583.0L490.4 583.8L488.1 584.6L485.7 585.3L483.3 586.1L481.0 586.9L478.6 587.6L476.2 588.3M479.5 585.6L476.2 588.3L480.5 588.8M515.4 581.8L513.7 582.7L511.9 583.6L510.2 584.5L508.5 585.3L506.8 586.2L505.0 587.1L503.3 587.9L501.6 588.8M504.4 585.5L501.6 588.8L505.9 588.5M535.4 581.5L534.4 582.5L533.4 583.5L532.3 584.4L531.3 585.3L530.3 586.3L529.2 587.2L528.1 588.1L527.1 589.0M528.5 586.2L527.1 589.0L530.1 588.1M555.7 581.7L555.3 582.6L554.9 583.5L554.5 584.4L554.1 585.3L553.7 586.3L553.3 587.2L552.9 588.1L552.5 589.0M552.5 586.8L552.5 589.0L554.1 587.5M577.9 582.0L577.7 582.8L577.4 583.7L577.2 584.5L576.9 585.3L576.6 586.2L576.4 587.0L576.1 587.9L575.9 588.7M575.7 586.7L575.9 588.7L577.2 587.2M600.2 582.3L600.1 583.1L599.9 583.8L599.8 584.6L599.7 585.3L599.6 586.1L599.5 586.9L599.3 587.6L599.2 588.4M598.7 586.5L599.2 588.4L600.3 586.7M622.4 582.6L622.4 583.3L622.4 584.0L622.5 584.7L622.5 585.3L622.5 586.0L622.6 586.7L622.6 587.4L622.7 588.1M621.8 586.3L622.7 588.1L623.3 586.2M644.1 583.0L644.4 583.6L644.7 584.2L645.0 584.8L645.3 585.3L645.6 585.9L645.9 586.5L646.2 587.1L646.6 587.6M645.0 586.4L646.6 587.6L646.3 585.6M665.9 583.7L666.4 584.1L667.0 584.6L667.5 585.0L668.1 585.3L668.7 585.7L669.2 586.1L669.8 586.5L670.4 586.9M668.4 586.5L670.4 586.9L669.3 585.2"/>
</g>
<rect x="155.5" y="76.5" width="527.7" height="527.7" fill="none" stroke="#000" stroke-width="1.1"/>
<rect x="657" y="76.5" width="28.5" height="38.5" fill="#fff" stroke="#333" stroke-width="0.7"/>
<text x="671.3" y="90.2" font-size="14.5" text-anchor="middle">8</text>
<path d="M660.2 101.5H681.5M677.5 99l4 2.5l-4 2.5" fill="none" stroke="#222" stroke-width="0.7"/>
<text x="146.2" y="240.9" font-size="14.5" text-anchor="end">36°N</text>
<text x="146.2" y="503.1" font-size="14.5" text-anchor="end">32°N</text>
<text x="164.4" y="625" font-size="14.1" text-anchor="middle">102°W</text>
<text x="391" y="625" font-size="14.5" text-anchor="middle">98°W</text>
<text x="617" y="625" font-size="14.5" text-anchor="middle">94°W</text>
<text x="196.4" y="620" font-size="14.4">Min= 1.89 Max= 16.54</text>
<rect x="163.5" y="628.5" width="32" height="14" fill="#0000FF" stroke="#000" stroke-width="0.6"/>
<rect x="195.5" y="628.5" width="32" height="14" fill="#0066FF" stroke="#000" stroke-width="0.6"/>
<rect x="227.5" y="628.5" width="32" height="14" fill="#00CCFF" stroke="#000" stroke-width="0.6"/>
<rect x="259.5" y="628.5" width="32" height="14" fill="#00EED5" stroke="#000" stroke-width="0.6"/>
<rect x="291.5" y="628.5" width="32" height="14" fill="#00CC70" stroke="#000" stroke-width="0.6"/>
<rect x="323.5" y="628.5" width="32" height="14" fill="#00B010" stroke="#000" stroke-width="0.6"/>
<rect x="355.5" y="628.5" width="32" height="14" fill="#66D000" stroke="#000" stroke-width="0.6"/>
<rect x="387.5" y="628.5" width="32" height="14" fill="#CCF000" stroke="#000" stroke-width="0.6"/>
<rect x="419.5" y="628.5" width="32" height="14" fill="#FFEE00" stroke="#000" stroke-width="0.6"/>
<rect x="451.5" y="628.5" width="32" height="14" fill="#FFC800" stroke="#000" stroke-width="0.6"/>
<rect x="483.5" y="628.5" width="32" height="14" fill="#FFA000" stroke="#000" stroke-width="0.6"/>
<rect x="515.5" y="628.5" width="32" height="14" fill="#FF6600" stroke="#000" stroke-width="0.6"/>
<rect x="547.5" y="628.5" width="32" height="14" fill="#FF2200" stroke="#000" stroke-width="0.6"/>
<rect x="579.5" y="628.5" width="32" height="14" fill="#E00020" stroke="#000" stroke-width="0.6"/>
<rect x="611.5" y="628.5" width="32" height="14" fill="#990050" stroke="#000" stroke-width="0.6"/>
<rect x="643.5" y="628.5" width="32" height="14" fill="#55008C" stroke="#000" stroke-width="0.6"/>
<text x="195.5" y="658" text-anchor="middle" font-size="14.5">2</text>
<text x="259.5" y="658" text-anchor="middle" font-size="14.5">4</text>
<text x="323.5" y="658" text-anchor="middle" font-size="14.5">6</text>
<text x="387.5" y="658" text-anchor="middle" font-size="14.5">8</text>
<text x="451.5" y="658" text-anchor="middle" font-size="14.5">10</text>
<text x="515.5" y="658" text-anchor="middle" font-size="14.5">12</text>
<text x="579.5" y="658" text-anchor="middle" font-size="14.5">14</text>
<text x="643.5" y="658" text-anchor="middle" font-size="14.5">16</text>
</svg>
</body></html>
